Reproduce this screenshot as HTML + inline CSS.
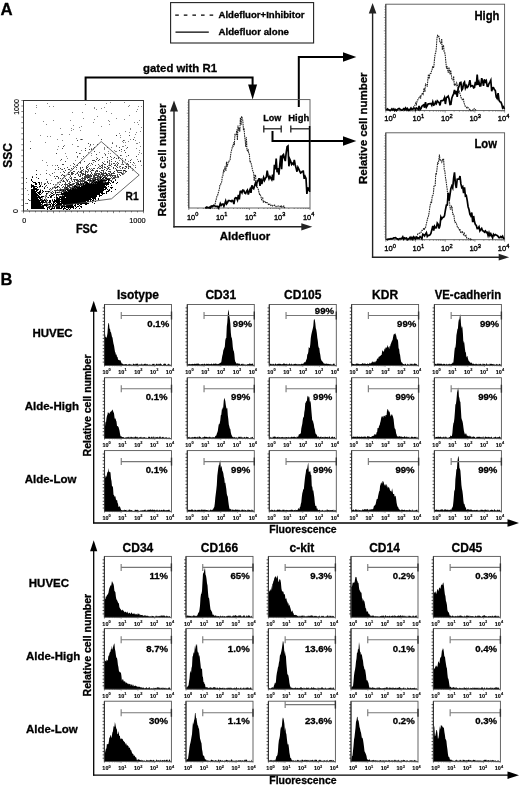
<!DOCTYPE html>
<html><head><meta charset="utf-8"><title>Figure</title>
<style>html,body{margin:0;padding:0;background:#fff;}svg{display:block;will-change:transform;}text{font-family:"Liberation Sans", sans-serif;}</style>
</head><body>
<svg width="520" height="786" viewBox="0 0 520 786">
<rect width="520" height="786" fill="#fff"/>
<text x="0.6" y="14.8" font-size="16.8" font-weight="bold" text-anchor="start" fill="#000" stroke="#000" stroke-width="0.3">A</text>
<text x="0.4" y="285.0" font-size="16.5" font-weight="bold" text-anchor="start" fill="#000" stroke="#000" stroke-width="0.3">B</text>
<rect x="170.6" y="2.6" width="143" height="40.4" fill="none" stroke="#222" stroke-width="1.1"/>
<line x1="175.2" y1="15.2" x2="213.5" y2="15.2" stroke="#000" stroke-width="1.2" stroke-dasharray="3.6 5"/>
<line x1="175.5" y1="32.2" x2="208.8" y2="32.2" stroke="#000" stroke-width="1.3"/>
<text x="218.5" y="18.2" font-size="9.3" font-weight="bold" text-anchor="start" fill="#000" stroke="#000" stroke-width="0.3" textLength="86" lengthAdjust="spacingAndGlyphs">Aldefluor+Inhibitor</text>
<text x="218.5" y="35.3" font-size="9.3" font-weight="bold" text-anchor="start" fill="#000" stroke="#000" stroke-width="0.3" textLength="70.5" lengthAdjust="spacingAndGlyphs">Aldefluor alone</text>
<polyline points="85.6,100.5 85.6,77.5 252.6,77.5 252.6,86" fill="none" stroke="#000" stroke-width="2"/>
<polygon points="252.60,99.50 248.10,84.50 257.10,84.50" fill="#000" stroke="none" stroke-width="1"/>
<text x="143" y="72" font-size="11.2" font-weight="bold" text-anchor="start" fill="#000" stroke="#000" stroke-width="0.3" textLength="74" lengthAdjust="spacingAndGlyphs">gated with R1</text>
<polyline points="298.8,107 298.8,57 344,57" fill="none" stroke="#000" stroke-width="2"/>
<polygon points="356.30,57.00 343.00,52.30 343.00,61.70" fill="#000" stroke="none" stroke-width="1"/>
<polyline points="272.5,131 272.5,141 344,141" fill="none" stroke="#000" stroke-width="2"/>
<polygon points="356.30,141.00 343.00,136.30 343.00,145.70" fill="#000" stroke="none" stroke-width="1"/>
<path d="M33 202h1M83 185h1M101 126h1M123 142h1M95 184h1M129 132h1M114 176h1M51 189h1M76 173h1M82 112h1M42 204h1M58 192h1M71 180h1M137 143h1M31 205h1M93 149h1M61 191h1M130 129h1M96 157h1M42 199h1M92 187h1M86 186h1M78 146h1M73 129h1M73 191h1M86 182h1M94 107h1M58 182h1M72 191h1M61 180h1M119 167h1M114 176h1M128 167h1M88 166h1M101 170h1M63 198h1M46 170h1M76 182h1M47 103h1M90 145h1M116 163h1M138 106h1M90 186h1M73 192h1M71 187h1M106 180h1M91 176h1M116 146h1M109 124h1M41 183h1M27 190h1M125 170h1M100 174h1M108 165h1M95 179h1M50 205h1M72 112h1M139 152h1M60 188h1M104 148h1M97 116h1M76 189h1M50 201h1M134 122h1M47 197h1M50 192h1M75 189h1M90 180h1M46 162h1M40 135h1M72 192h1M124 168h1M108 181h1M99 152h1M123 172h1M43 121h1M77 146h1M103 163h1M119 160h1M94 176h1M97 177h1M41 184h1M108 151h1M95 173h1M119 133h1M101 108h1M77 183h1M105 155h1M64 194h1M132 164h1M91 184h1M36 107h1M49 174h1M116 177h1M67 198h1M85 170h1M140 146h1M133 165h1M42 160h1M44 183h1M71 128h1M111 163h1M66 200h1M67 158h1M128 106h1M28 194h1M39 196h1M62 195h1M113 158h1M108 165h1M116 146h1M35 113h1M93 122h1M87 171h1M77 193h1M89 185h1M82 182h1M123 171h1M79 127h1M72 144h1M81 193h1M75 182h1M124 173h1M62 134h1M49 203h1M112 179h1M126 156h1M122 164h1M97 177h1M104 147h1M132 168h1M54 197h1M63 191h1M58 203h1M121 151h1M123 167h1M110 174h1M105 180h1M36 203h1M102 164h1M89 146h1M51 206h1M46 203h1M122 146h1M39 187h1M59 199h1M108 168h1M103 175h1M65 191h1M93 162h1M91 155h1M81 126h1M87 182h1M57 139h1M128 161h1M59 191h1M102 180h1M126 148h1M85 186h1M85 104h1M107 166h1M139 142h1M95 178h1M58 202h1M128 155h1M47 165h1M41 205h1M104 107h1M91 148h1M93 144h1M108 173h1M101 174h1M117 167h1M123 172h1M138 124h1M62 194h1M101 176h1M123 174h1M57 182h1M86 182h1M99 182h1M49 202h1M58 202h1M104 177h1M76 189h1M114 171h1M69 197h1M30 141h1M80 163h1M117 172h1M62 140h1M55 184h1M111 166h1M63 199h1M69 174h1M77 189h1M38 205h1M77 157h1M111 173h1M37 206h1M105 173h1M65 153h1M80 139h1M87 186h1M101 182h1M60 160h1M47 204h1M78 191h1M41 197h1M135 134h1M79 181h1M56 192h1M88 152h1M139 150h1M32 203h1M66 200h1M66 199h1M122 163h1M68 174h1M73 184h1M38 201h1M68 199h1M66 156h1M60 172h1M44 202h1M104 166h1M69 194h1M58 146h1M141 165h1M124 119h1M92 181h1M46 124h1M102 167h1M56 198h1M104 149h1M129 105h1M125 142h1M117 155h1M60 192h1M76 185h1M120 168h1M64 145h1M126 171h1M53 120h1M62 181h1M70 165h1M128 168h1M63 189h1M110 153h1M26 203h1M81 158h1M91 185h1M125 172h1M52 187h1M106 180h1M91 180h1M70 187h1M65 199h1M77 192h1M85 174h1M123 146h1M47 136h1M69 177h1M137 109h1M133 169h1M39 187h1M40 174h1M99 166h1M25 203h1M76 169h1M80 130h1M113 167h1M52 165h1M62 196h1M130 139h1M91 153h1M77 190h1M68 191h1M75 160h1M124 140h1M71 130h1M99 181h1M95 177h1M141 127h1M108 120h1M135 140h1M125 145h1M104 153h1M120 137h1M135 165h1M40 189h1M55 165h1M123 173h1M132 170h1M136 143h1M52 201h1M64 172h1M34 200h1M39 207h1M109 161h1M84 184h1M116 145h1M81 188h1M100 178h1M123 142h1M63 177h1M93 148h1M91 168h1M116 135h1M55 192h1M74 188h1M92 182h1M109 162h1M94 119h1M78 195h1M37 196h1M120 158h1M83 118h1M78 182h1M122 161h1M25 188h1M120 172h1M66 180h1M106 103h1M71 172h1M56 199h1M65 194h1M141 106h1M42 197h1M80 188h1M96 109h1M61 134h1M106 168h1M60 192h1M128 141h1M119 166h1M110 169h1M69 182h1M109 164h1M85 175h1M36 105h1M112 142h1M117 177h1M76 173h1M137 159h1M43 121h1M105 179h1M115 176h1M134 137h1M129 166h1M129 115h1M63 195h1M70 170h1M111 147h1M53 195h1M121 164h1M65 191h1M59 201h1M122 158h1M60 128h1M50 136h1M80 153h1M110 102h1M67 195h1M98 177h1M59 189h1M73 125h1M106 180h1M131 159h1M91 175h1M72 184h1M130 160h1M54 186h1M53 106h1M60 189h1M26 182h1M104 161h1M136 111h1M45 205h1M86 155h1M81 150h1M93 186h1M111 157h1M31 180h1M122 141h1M131 159h1M121 155h1M123 170h1M72 185h1M70 175h1M90 165h1M42 198h1M125 160h1M111 113h1M96 184h1M115 151h1M35 194h1M116 118h1M130 128h1M140 160h1M137 122h1M45 197h1M88 171h1M134 163h1M79 190h1M114 150h1M86 168h1M34 205h1M53 202h1M79 172h1M58 204h1M79 188h1M79 187h1M106 111h1M42 191h1M30 200h1M76 138h1M98 183h1M94 147h1M91 176h1M116 151h1M51 180h1M125 166h1M45 142h1M96 171h1M54 172h1M90 169h1M50 175h1M63 180h1M99 178h1M42 205h1M130 167h1M80 169h1M92 188h1M80 179h1M83 171h1M102 180h1M49 106h1M67 188h1M109 167h1M47 205h1M40 203h1M120 175h1M125 131h1M90 177h1M92 184h1M109 121h1M67 191h1M72 169h1M61 169h1M136 148h1M82 139h1M78 185h1M138 154h1M59 191h1M62 194h1M103 178h1M99 165h1M115 164h1M72 183h1M96 183h1M107 168h1M136 132h1M139 120h1M70 120h1M141 153h1M140 131h1M114 157h1M107 159h1M69 134h1M105 180h1M81 139h1M76 190h1M98 135h1M108 153h1M46 195h1M97 171h1M89 178h1M94 108h1M57 149h1M120 135h1M88 169h1M124 102h1M98 176h1M106 177h1" stroke="#666" stroke-width="1" transform="translate(0,0.5)" opacity="0.8"/>
<path d="M83 187h1M66 187h1M91 183h1M95 184h1M85 177h1M93 182h1M70 192h1M83 190h1M70 190h1M87 190h1M89 181h1M89 175h1M97 186h1M73 194h1M86 189h1M80 193h1M96 186h1M92 186h1M44 187h1M98 185h1M84 183h1M91 176h1M66 197h1M76 192h1M91 185h1M71 190h1M101 183h1M85 178h1M100 182h1M103 180h1M72 191h1M58 195h1M85 183h1M85 188h1M81 188h1M76 180h1M86 182h1M84 186h1M69 191h1M111 174h1M75 194h1M97 168h1M94 183h1M82 191h1M106 178h1M94 180h1M85 190h1M95 172h1M65 199h1M86 183h1M63 191h1M95 186h1M106 178h1M99 174h1M85 189h1M80 191h1M93 184h1M86 187h1M69 197h1M85 178h1M94 185h1M84 186h1M71 192h1M72 187h1M101 179h1M97 179h1M69 195h1M83 183h1M74 185h1M102 184h1M82 190h1M92 183h1M65 195h1M62 190h1M100 184h1M94 179h1M86 186h1M64 198h1M67 190h1M85 189h1M69 189h1M88 186h1M77 188h1M103 181h1M112 178h1M73 194h1M83 185h1M117 162h1M93 177h1M104 167h1M65 198h1M87 172h1M101 183h1M51 196h1M68 194h1M65 194h1M115 176h1M99 180h1M68 195h1M60 194h1M86 183h1M88 170h1M95 175h1M75 194h1M85 186h1M69 192h1M100 179h1M108 167h1M92 184h1M75 188h1M97 177h1M108 178h1M104 179h1M86 186h1M93 186h1M82 174h1M91 180h1M98 176h1M53 192h1M86 188h1M69 192h1M68 192h1M89 175h1M108 171h1M60 199h1M87 182h1M37 199h1M107 178h1M78 186h1M87 175h1M66 188h1M84 191h1M77 189h1M75 190h1M65 185h1M99 184h1M74 193h1M69 186h1M69 187h1M79 185h1M88 186h1M69 195h1M85 185h1M73 187h1M103 171h1M90 179h1M76 179h1M74 191h1M65 184h1M101 172h1M71 184h1M64 187h1M103 181h1M81 186h1M92 186h1M78 192h1M67 186h1M97 171h1M56 198h1M62 195h1M78 186h1M56 190h1M81 178h1M67 180h1M95 178h1M122 173h1M99 177h1M84 190h1M55 191h1M87 186h1M73 179h1M102 168h1M74 186h1M68 194h1M56 200h1M101 173h1M60 199h1M92 184h1M111 175h1M105 182h1M93 181h1M66 184h1M84 183h1M97 177h1M90 178h1M115 177h1M68 198h1M81 171h1M68 195h1M72 193h1M104 173h1M87 186h1M109 178h1M63 198h1M65 192h1M87 190h1M82 186h1M82 190h1M96 183h1M81 190h1M66 191h1M93 187h1M62 194h1M94 179h1M104 182h1M94 186h1M70 196h1M92 186h1M74 189h1M76 191h1M80 189h1M78 175h1M96 183h1M110 165h1M100 183h1M81 180h1M107 178h1M100 182h1M114 178h1M85 187h1M60 197h1M73 187h1M104 181h1M119 174h1M97 180h1M96 186h1M108 182h1M51 197h1M100 175h1M85 188h1M96 179h1M73 192h1M77 189h1M85 179h1M89 181h1M76 189h1M98 185h1M77 191h1M70 195h1M89 189h1M66 196h1M93 184h1M76 186h1M110 171h1M86 176h1M70 182h1M71 191h1M77 193h1M90 186h1M70 194h1M91 180h1M63 196h1M71 168h1M89 185h1M79 188h1M91 170h1M91 184h1M82 170h1M71 191h1M78 190h1M48 197h1M80 187h1M68 188h1M77 183h1M58 202h1M90 185h1M91 184h1M97 184h1M92 183h1M87 183h1M111 177h1M78 189h1M67 192h1M102 178h1M79 192h1M61 190h1M92 183h1M94 184h1M105 177h1M106 179h1M83 181h1M75 185h1M96 184h1M59 190h1M74 189h1M83 185h1M84 180h1M100 177h1M80 172h1M83 192h1M62 187h1M89 188h1M64 196h1M83 188h1M70 178h1M64 181h1M89 182h1M64 189h1M78 191h1M88 189h1M93 179h1M84 181h1M117 165h1M103 173h1M82 191h1M83 188h1M93 184h1M97 184h1M71 191h1M74 186h1M91 187h1M45 200h1M85 187h1M66 197h1M77 194h1M100 177h1M79 190h1M87 177h1M94 182h1M104 173h1M80 188h1M78 188h1M95 171h1M65 192h1M88 188h1M89 179h1M97 183h1M95 185h1M63 192h1M81 188h1M65 196h1M101 174h1M95 182h1M88 188h1M76 191h1M87 182h1M79 184h1M75 191h1M90 184h1M75 194h1M102 166h1M80 180h1M103 180h1M93 185h1M58 192h1M82 191h1M64 199h1M57 189h1M120 175h1M116 166h1M100 168h1M111 180h1M71 179h1M97 179h1M69 195h1M96 186h1M57 201h1M85 189h1M90 185h1M101 170h1M74 191h1M96 173h1M98 176h1M99 183h1M104 175h1M73 194h1M85 181h1M62 197h1M93 176h1M93 186h1M76 183h1M64 195h1M98 174h1M71 188h1M78 187h1M93 188h1M100 185h1M79 179h1M80 191h1M74 191h1M75 189h1M83 192h1M119 172h1M100 182h1M79 187h1M98 182h1M97 168h1M84 182h1M93 178h1M71 192h1M70 184h1M110 175h1M107 176h1M83 186h1M103 179h1M77 191h1M77 189h1M110 171h1M69 186h1M101 177h1M93 175h1M87 174h1M70 176h1M95 175h1M95 184h1M105 172h1M96 174h1M90 174h1M48 202h1M65 189h1M86 185h1M97 170h1M78 188h1M84 182h1M77 185h1M106 173h1M103 174h1M81 192h1M67 185h1M77 192h1M79 193h1M94 183h1M103 184h1M90 175h1M75 179h1M100 185h1M65 194h1M88 177h1M77 191h1M61 180h1M66 192h1M82 185h1M99 168h1M101 184h1M100 180h1M77 184h1M79 191h1M87 184h1M71 174h1M107 175h1M94 186h1M64 189h1M79 189h1M90 184h1M49 200h1M76 191h1M82 186h1M95 183h1M90 189h1M83 180h1M76 194h1M75 177h1M98 186h1M79 185h1M75 195h1M103 174h1M86 190h1M87 184h1M100 178h1M83 183h1M54 194h1M91 182h1M72 188h1M82 191h1M84 188h1M100 181h1M74 189h1M69 197h1M74 194h1M62 196h1M61 199h1M86 182h1M62 193h1M69 185h1M95 181h1M97 184h1M63 186h1M71 185h1M73 191h1M85 175h1M114 175h1M68 190h1M68 189h1M65 178h1M73 192h1M68 197h1M104 177h1M66 192h1M85 188h1M113 173h1M95 183h1M71 184h1M93 186h1M109 174h1M104 179h1M66 197h1M98 183h1M99 171h1M109 180h1M69 183h1M89 186h1M67 194h1M112 176h1M72 195h1M79 190h1M108 167h1M89 186h1M89 186h1M68 186h1M80 189h1M100 179h1M99 179h1M80 187h1M73 186h1M70 192h1M63 194h1M76 187h1M70 195h1M76 187h1M69 196h1M95 187h1M62 191h1M87 189h1M63 196h1M113 178h1M79 176h1M103 181h1M69 189h1M82 187h1M93 181h1M97 175h1M58 192h1M71 195h1M95 186h1M102 179h1M86 190h1M106 182h1M98 180h1M76 190h1M126 166h1M93 170h1M81 189h1M93 186h1M63 189h1M83 186h1M82 191h1M82 180h1M90 186h1M70 185h1M103 183h1M82 189h1M100 177h1M74 188h1M84 185h1M79 187h1M113 177h1M78 193h1M76 183h1M102 176h1M81 192h1M81 186h1M66 187h1M90 188h1M67 192h1M85 177h1M88 185h1M95 181h1M83 191h1M92 182h1M84 188h1M82 185h1M89 182h1M106 182h1M92 188h1M89 180h1M57 190h1M123 170h1M99 183h1M103 175h1M83 174h1M116 169h1M86 188h1M113 173h1M73 191h1M81 181h1M77 187h1M51 192h1M94 180h1M56 198h1M69 184h1M74 193h1M78 171h1M99 173h1M96 185h1M80 171h1M78 184h1M93 187h1M83 180h1M74 194h1M80 191h1M107 179h1M92 185h1M65 196h1M85 185h1M73 190h1M95 186h1M94 174h1M81 181h1M81 191h1M82 189h1M67 186h1M98 182h1M98 178h1M89 188h1M51 193h1M89 175h1M74 181h1M69 192h1M78 184h1M97 180h1M91 181h1M74 189h1M84 190h1M111 175h1M77 193h1M83 191h1M99 181h1M80 187h1M100 181h1M73 183h1M106 175h1M97 180h1M92 182h1M83 190h1M124 150h1M60 182h1M98 185h1M96 175h1M87 186h1M105 175h1M64 195h1M108 179h1M92 185h1M86 190h1M114 165h1M73 184h1M85 173h1M47 182h1M95 186h1M85 191h1M85 188h1M80 192h1M77 191h1M94 181h1M98 176h1M86 175h1M94 186h1M52 195h1M93 187h1M62 198h1M71 196h1M90 188h1M84 190h1M114 171h1M93 180h1M78 184h1M71 196h1M65 187h1M89 183h1M82 183h1M66 194h1M50 194h1M76 191h1M106 182h1M93 183h1M77 186h1M75 190h1M94 185h1M63 198h1M109 175h1M61 193h1M77 189h1M118 177h1M68 193h1M72 173h1M91 186h1M79 193h1M74 189h1M111 164h1M85 186h1M83 183h1M101 184h1M74 187h1M75 190h1M83 190h1M78 192h1M86 181h1M73 188h1M66 197h1M87 185h1M76 184h1M65 191h1M94 181h1M100 184h1M76 186h1M86 188h1M68 193h1M65 194h1M84 180h1M87 188h1M97 184h1M55 203h1M62 189h1M67 188h1M111 177h1M92 181h1M85 174h1M82 187h1M64 192h1M80 176h1M97 171h1M64 194h1M78 190h1M76 179h1M78 188h1M67 185h1M83 190h1M66 191h1M82 180h1M92 186h1M41 207h1M97 178h1M87 176h1M85 190h1M109 178h1M105 175h1M83 188h1M92 180h1M99 183h1M81 190h1M95 180h1M74 191h1M80 188h1M85 183h1M79 186h1M107 162h1M73 193h1M86 190h1M82 191h1M87 178h1M72 184h1M78 184h1M80 188h1M67 195h1M82 167h1M73 183h1M98 180h1M72 193h1M74 195h1M94 177h1M59 192h1M111 173h1M84 183h1M83 184h1M86 185h1M126 164h1M82 186h1M90 181h1M65 194h1M88 186h1M86 182h1M101 183h1M81 185h1M83 188h1M79 181h1M96 186h1M108 173h1M64 193h1M93 185h1M88 189h1M92 178h1M68 198h1M65 187h1M70 189h1M103 170h1M90 187h1M84 187h1M79 193h1M72 192h1M88 189h1M90 178h1M95 182h1M73 188h1M117 175h1M49 189h1M101 177h1M87 189h1M106 178h1M96 185h1M94 176h1M94 178h1M81 188h1M91 172h1M89 186h1M77 191h1M62 198h1M105 178h1M80 187h1M74 193h1M70 194h1M101 174h1M54 190h1M94 183h1M102 170h1M85 172h1M118 172h1M80 189h1M80 175h1M52 193h1M75 185h1M100 166h1M92 179h1M80 187h1M88 186h1M65 188h1M68 185h1M81 185h1M91 186h1M105 173h1M69 183h1M103 180h1M86 186h1M90 188h1M67 187h1M83 186h1M77 190h1M79 179h1M89 184h1M89 179h1M72 195h1M70 189h1M104 169h1M97 177h1M58 194h1M65 192h1M79 191h1M116 170h1M78 180h1M105 175h1M89 182h1M83 189h1M53 204h1M91 180h1M103 179h1M92 181h1M92 178h1M89 184h1M75 185h1M86 185h1M103 172h1M88 175h1M84 188h1M105 177h1M64 188h1M86 182h1M55 188h1M105 180h1M69 196h1M76 188h1M98 175h1M101 181h1M101 172h1M56 196h1M76 188h1M70 197h1M90 186h1M77 191h1M73 195h1M73 192h1M90 188h1M88 189h1M95 177h1M55 192h1M89 182h1M101 181h1M71 189h1M112 176h1M59 194h1M99 184h1M64 184h1M81 191h1M73 183h1M88 179h1M97 181h1M82 189h1M76 192h1M64 195h1M102 183h1M43 201h1M55 200h1M105 172h1M78 193h1M84 188h1M100 181h1M77 181h1M86 185h1M88 188h1M74 195h1M81 178h1M79 188h1M57 202h1M102 175h1M77 182h1M108 180h1M89 189h1M85 184h1M84 178h1M86 168h1M104 182h1M88 186h1M77 189h1M83 191h1M82 181h1M78 192h1M95 181h1M75 190h1M84 182h1M74 183h1M84 190h1M87 189h1M71 191h1M76 184h1M81 183h1M55 193h1M98 186h1M99 179h1M92 178h1M85 182h1M106 178h1M90 185h1M88 177h1M87 177h1M46 199h1M68 196h1M64 184h1M88 186h1M120 170h1M81 188h1M77 191h1M65 196h1M67 194h1M67 188h1M75 191h1M69 193h1M46 179h1M72 188h1M94 174h1M86 181h1M85 186h1M76 191h1M94 180h1M109 174h1M80 192h1M82 184h1M108 182h1M76 186h1M93 186h1M76 192h1M115 179h1M64 195h1M110 180h1M74 191h1M80 185h1M92 187h1M78 187h1M88 185h1M91 184h1M105 182h1M83 186h1M76 191h1M94 174h1M91 172h1M82 184h1M74 194h1M79 184h1M97 179h1M47 191h1M84 190h1M66 193h1M100 177h1M87 183h1M78 180h1M71 194h1M89 176h1M78 191h1M89 182h1M80 188h1M104 181h1M67 195h1M119 172h1M74 190h1M81 185h1M85 179h1M87 180h1M84 185h1M102 184h1M101 177h1M92 187h1M75 174h1M82 190h1M79 187h1M79 186h1M94 178h1M99 183h1M95 174h1M106 178h1M80 175h1M89 188h1M81 188h1M101 173h1M99 173h1M93 175h1M60 189h1M84 174h1M107 169h1M57 187h1M72 194h1M91 178h1M94 177h1M87 190h1M106 178h1M102 174h1M86 189h1M101 170h1M64 184h1M84 186h1M77 181h1M74 190h1M68 189h1M90 188h1M50 188h1M85 187h1M93 175h1M87 189h1M89 177h1M78 181h1M94 160h1M90 174h1M84 180h1M86 187h1M83 191h1M62 190h1M69 187h1M101 182h1M95 178h1M77 189h1M66 184h1M52 191h1M85 190h1M87 177h1M64 191h1M74 177h1M61 189h1M84 186h1M103 182h1M81 180h1M55 191h1M99 173h1M78 190h1M114 177h1M89 181h1M70 188h1M85 171h1M67 188h1M95 183h1M105 177h1M56 187h1M72 196h1M55 192h1M85 181h1M86 190h1M59 196h1M101 183h1M90 188h1M88 175h1M83 184h1M74 183h1M77 183h1M107 176h1M69 191h1M103 181h1M93 187h1M82 191h1M96 185h1M85 187h1M102 173h1M72 195h1M99 184h1M82 177h1M88 180h1M74 180h1M83 187h1M94 181h1M54 187h1M105 181h1M87 185h1M126 171h1M97 177h1M100 166h1M96 175h1M81 186h1M89 149h1M122 173h1M118 157h1M87 167h1M80 182h1M111 174h1M97 144h1M86 183h1M68 179h1M84 188h1M89 187h1M99 176h1M102 165h1M135 167h1M82 170h1M82 170h1M127 163h1M68 183h1M58 177h1M123 164h1M118 163h1M89 168h1M102 157h1M89 182h1M57 176h1M115 168h1M62 184h1M83 185h1M62 191h1M50 201h1M84 178h1M65 196h1M41 182h1M113 172h1M85 183h1M85 177h1M62 187h1M116 158h1M65 184h1M121 149h1M74 171h1M91 175h1M109 163h1M61 175h1M93 182h1M41 200h1M93 177h1M81 173h1M115 175h1M97 158h1M127 147h1M99 159h1M104 164h1M96 185h1M93 185h1M61 196h1M91 173h1M115 175h1M94 175h1M89 187h1M53 184h1M60 168h1M122 174h1M100 181h1M83 156h1M80 171h1M104 181h1M65 188h1M117 176h1M52 191h1M113 168h1M136 156h1M64 190h1M64 192h1M84 176h1M102 182h1M69 183h1M103 178h1M88 187h1M71 178h1M73 179h1M125 171h1M83 183h1M56 176h1M119 170h1M80 168h1M91 163h1M85 181h1M108 168h1M82 175h1M74 190h1M110 172h1M100 180h1M62 196h1M110 156h1M85 179h1M95 184h1M96 159h1M72 186h1M105 167h1M61 159h1M109 160h1M88 174h1M114 163h1M67 187h1M111 177h1M69 186h1M93 170h1M75 189h1M106 177h1M62 164h1M64 175h1M81 173h1M89 163h1M87 165h1M80 174h1M83 156h1M73 173h1M118 176h1M54 190h1M107 157h1M64 176h1M71 172h1M81 172h1M45 186h1M92 179h1M103 180h1M46 204h1M91 149h1M70 176h1M102 162h1M77 180h1M72 188h1M77 165h1M68 186h1M83 173h1M72 181h1M85 150h1M107 166h1M77 183h1M85 148h1M63 146h1M92 185h1M27 209h1M103 178h1M81 181h1M76 182h1M113 178h1M72 192h1M63 196h1M110 176h1M96 154h1M140 161h1M71 192h1M62 198h1M62 174h1M105 173h1M74 179h1M63 175h1M59 196h1M80 191h1M97 170h1M107 178h1M67 181h1M75 187h1M107 176h1M109 178h1M65 183h1M117 170h1M93 182h1M98 180h1M77 192h1M74 183h1M86 171h1M104 176h1M104 164h1M58 167h1M121 170h1M120 166h1M98 178h1M118 158h1M62 196h1M50 197h1M80 179h1M107 174h1M83 169h1M88 179h1M76 167h1M91 183h1M87 180h1M81 170h1M119 170h1M48 183h1M94 184h1M38 197h1M81 139h1M88 143h1M122 167h1M82 180h1M122 162h1M68 174h1M102 176h1M128 155h1M90 176h1M93 170h1M95 165h1M76 186h1M98 181h1M113 163h1M112 173h1M80 167h1M98 175h1M117 164h1M54 197h1M92 169h1M83 183h1M76 192h1M73 171h1M90 183h1M92 174h1M84 179h1M84 179h1M101 165h1M121 172h1M55 178h1M64 172h1M77 156h1M83 178h1M93 183h1M128 164h1M61 197h1M61 196h1M86 166h1M91 175h1M92 179h1M74 192h1M101 139h1M97 173h1M106 170h1M73 191h1M30 148h1M97 183h1M98 164h1M27 203h1M106 180h1M71 189h1M69 174h1M84 177h1M46 191h1M71 188h1M65 186h1M59 194h1M46 185h1M97 173h1M120 155h1M117 167h1M69 181h1M101 165h1M63 180h1M90 180h1M57 165h1M58 195h1M105 177h1M111 159h1M125 168h1M75 186h1M105 164h1M62 198h1M103 179h1M77 173h1M89 187h1M119 147h1M63 181h1M61 189h1M102 178h1M82 178h1M90 171h1M55 190h1M105 176h1M83 188h1M81 187h1M70 191h1M82 170h1M89 187h1M87 183h1M94 151h1M26 178h1M88 176h1M81 185h1M80 190h1M133 162h1M60 178h1M78 174h1M55 187h1M86 177h1M47 181h1M82 180h1M72 172h1M80 174h1M98 173h1M98 179h1M55 193h1M73 168h1M89 186h1M71 184h1M68 179h1M117 171h1M107 161h1M88 164h1M45 202h1M125 152h1M46 196h1M73 183h1M80 181h1M94 183h1M103 178h1M79 187h1M64 193h1M97 176h1M108 175h1M86 184h1M93 186h1M48 204h1M133 139h1M73 184h1M93 170h1M80 184h1M56 201h1M117 174h1M86 185h1M69 169h1M85 177h1M36 177h1M84 161h1M118 170h1M55 169h1M85 175h1M58 178h1M83 174h1M63 190h1M66 179h1M47 187h1M68 191h1M54 176h1M88 188h1M70 188h1M87 186h1M82 185h1M109 169h1M93 185h1M65 183h1M58 190h1M107 147h1M81 190h1M92 170h1M77 140h1M70 184h1M68 189h1M116 169h1M82 179h1M98 160h1M52 199h1M114 173h1M59 187h1M77 188h1M138 161h1M77 182h1M70 187h1M66 189h1M32 176h1M112 175h1M128 166h1M85 176h1M91 178h1M56 153h1M94 177h1M98 164h1M79 162h1M105 173h1M65 182h1M67 184h1M62 178h1M105 154h1M82 190h1M77 179h1M78 189h1M74 164h1M92 164h1M97 171h1M85 185h1M73 166h1M88 180h1M96 179h1M93 168h1M64 195h1M100 172h1M68 179h1M29 200h1M67 167h1M97 182h1M130 160h1M109 173h1M128 168h1M105 177h1M68 172h1M113 167h1M122 160h1M28 199h1M34 204h1M61 185h1M41 193h1M55 201h1M70 192h1M36 170h1M122 168h1M95 161h1M66 196h1M116 135h1M100 176h1M78 181h1M96 177h1M99 179h1M109 171h1M63 164h1M79 185h1M77 172h1M68 183h1M92 160h1M83 178h1M119 150h1M52 191h1M96 170h1M71 173h1M72 186h1M73 163h1M114 157h1M68 169h1M77 184h1M69 183h1M77 184h1M111 161h1M112 143h1M90 144h1M109 165h1M110 178h1M81 183h1M77 189h1M65 170h1M98 167h1M126 167h1M109 169h1M94 173h1M58 186h1M89 180h1M120 172h1M83 174h1M69 172h1M103 163h1M76 187h1M89 182h1M113 175h1M101 167h1M81 184h1M81 189h1M115 165h1M107 179h1M78 188h1M68 169h1M110 165h1M73 173h1M58 169h1M65 186h1M123 140h1M59 184h1M65 161h1M86 167h1M57 194h1M66 189h1M62 169h1M62 193h1M56 176h1M47 200h1M91 181h1M84 182h1M76 187h1M130 162h1M97 175h1M70 193h1M64 168h1M80 162h1M78 171h1M46 173h1M61 194h1M86 188h1M104 167h1M93 160h1M52 188h1M115 161h1M102 178h1M125 166h1M130 166h1M130 162h1M125 159h1M50 183h1M90 171h1M69 190h1M52 173h1M76 152h1M107 176h1M100 177h1M74 179h1M79 153h1M82 173h1M107 162h1M72 174h1M94 168h1M121 173h1M106 174h1M108 171h1M99 179h1M63 171h1M45 183h1M72 186h1M45 200h1M129 135h1M105 176h1M94 147h1M63 196h1M62 148h1M87 169h1M71 177h1" stroke="#222" stroke-width="1" transform="translate(0,0.5)" opacity="0.85"/>
<path d="M70 200h1M91 188h1M68 199h1M88 196h1M67 195h1M89 193h1M99 191h1M80 194h1M107 183h1M72 193h1M83 194h1M78 195h1M85 195h1M93 190h1M64 204h1M67 199h1M66 200h1M74 198h1M115 180h1M88 186h1M79 198h1M81 196h1M81 190h1M86 189h1M100 185h1M89 191h1M90 188h1M92 190h1M95 191h1M82 191h1M90 193h1M98 186h1M88 194h1M85 194h1M83 191h1M71 197h1M90 197h1M93 194h1M90 193h1M84 196h1M99 186h1M77 204h1M85 196h1M89 187h1M109 190h1M84 196h1M82 191h1M81 196h1M94 192h1M84 199h1M75 200h1M92 189h1M62 198h1M85 195h1M96 184h1M82 196h1M77 187h1M93 199h1M90 187h1M78 197h1M108 186h1M85 199h1M83 201h1M74 195h1M91 196h1M89 192h1M62 199h1M75 195h1M87 191h1M90 191h1M78 196h1M87 195h1M76 195h1M70 205h1M96 188h1M75 192h1M84 194h1M104 186h1M70 189h1M96 189h1M65 201h1M94 191h1M77 187h1M78 189h1M85 184h1M74 202h1M97 183h1M67 203h1M89 187h1M73 195h1M68 197h1M95 191h1M102 185h1M79 191h1M78 190h1M64 204h1M97 191h1M95 190h1M74 197h1M76 192h1M62 196h1M82 195h1M79 201h1M84 195h1M93 186h1M62 205h1M76 201h1M86 196h1M86 184h1M88 189h1M73 196h1M91 194h1M90 184h1M72 188h1M81 197h1M74 198h1M85 197h1M72 195h1M76 203h1M92 189h1M84 194h1M83 193h1M76 191h1M77 202h1M87 192h1M79 195h1M84 190h1M84 194h1M73 194h1M70 195h1M87 182h1M78 193h1M75 197h1M93 190h1M79 193h1M81 198h1M76 192h1M67 195h1M69 204h1M85 192h1M96 186h1M90 194h1M64 195h1M73 201h1M93 185h1M92 189h1M77 194h1M76 189h1M70 194h1M89 199h1M109 182h1M63 200h1M75 205h1M86 189h1M92 192h1M64 199h1M79 195h1M82 192h1M83 191h1M74 203h1M86 194h1M65 200h1M88 186h1M92 188h1M85 192h1M85 197h1M80 201h1M72 194h1M87 188h1M79 199h1M91 183h1M89 199h1M93 188h1M75 196h1M69 198h1M79 194h1M93 188h1M68 204h1M70 197h1M80 193h1M71 197h1M103 183h1M82 199h1M90 194h1M88 184h1M73 198h1M88 197h1M86 191h1M82 193h1M85 195h1M77 193h1M74 201h1M96 192h1M91 193h1M82 196h1M70 198h1M75 200h1M75 196h1M87 197h1M72 194h1M88 187h1M85 190h1M78 188h1M88 189h1M75 205h1M94 203h1M85 191h1M85 199h1M82 196h1M86 189h1M82 192h1M70 202h1M88 192h1M69 191h1M86 192h1M64 201h1M66 200h1M83 195h1M84 194h1M69 197h1M76 195h1M85 195h1M95 179h1M85 192h1M106 188h1M65 202h1M78 200h1M71 198h1M80 194h1M73 190h1M88 196h1M79 191h1M84 195h1M80 195h1M94 185h1M73 190h1M73 194h1M71 196h1M100 186h1M83 202h1M78 188h1M84 189h1M97 183h1M73 191h1M81 190h1M80 193h1M77 200h1M91 190h1M71 194h1M88 201h1M76 193h1M73 193h1M71 197h1M96 188h1M74 191h1M84 193h1M67 195h1M82 198h1M88 192h1M79 197h1M84 202h1M69 197h1M94 188h1M96 188h1M82 192h1M66 196h1M105 187h1M89 195h1M89 195h1M78 194h1M91 189h1M68 199h1M77 198h1M73 193h1M80 201h1M81 195h1M82 195h1M93 195h1M67 205h1M81 193h1M106 184h1M103 189h1M72 200h1M89 191h1M57 202h1M78 191h1M100 186h1M77 195h1M72 195h1M83 195h1M76 196h1M68 202h1M74 198h1M72 196h1M82 189h1M107 184h1M80 192h1M100 192h1M83 188h1M77 198h1M75 192h1M68 196h1M81 192h1M86 204h1M98 183h1M85 193h1M82 198h1M78 194h1M78 195h1M96 192h1M67 198h1M74 200h1M85 196h1M78 188h1M86 193h1M85 188h1M81 191h1M75 198h1M84 190h1M61 193h1M77 200h1M78 187h1M73 199h1M100 191h1M86 193h1M70 197h1M77 193h1M82 192h1M87 198h1M90 193h1M77 190h1M81 196h1M73 203h1M79 197h1M76 191h1M101 182h1M90 188h1M83 190h1M79 199h1M100 183h1M83 197h1M76 199h1M74 199h1M88 196h1M84 189h1M87 188h1M91 196h1M87 190h1M94 190h1M68 198h1M96 187h1M82 192h1M64 199h1M85 193h1M77 187h1M95 192h1M94 194h1M76 194h1M87 199h1M64 200h1M75 199h1M96 187h1M69 199h1M76 190h1M90 189h1M87 187h1M91 185h1M90 184h1M95 187h1M65 200h1M84 189h1M77 197h1M76 184h1M78 197h1M86 196h1M78 206h1M90 192h1M94 193h1M82 192h1M93 191h1M61 198h1M86 193h1M85 195h1M85 199h1M75 195h1M86 195h1M92 196h1M78 200h1M85 189h1M83 202h1M89 189h1M56 201h1M74 197h1M106 187h1M83 190h1M69 198h1M81 206h1M77 194h1M93 190h1M71 204h1M76 191h1M85 194h1M79 198h1M89 188h1M57 194h1M82 199h1M94 195h1M100 187h1M90 185h1M89 193h1M80 193h1M70 199h1M94 188h1M86 190h1M83 190h1M85 192h1M84 191h1M69 198h1M94 195h1M79 198h1M90 192h1M66 202h1M73 202h1M90 193h1M56 207h1M87 187h1M92 190h1M79 192h1M71 197h1M113 182h1M83 191h1M74 195h1M74 201h1M80 198h1M71 202h1M82 197h1M79 191h1M93 188h1M79 192h1M83 192h1M85 194h1M73 192h1M87 195h1M87 187h1M88 193h1M85 194h1M78 196h1M90 189h1M67 200h1M81 187h1M75 199h1M80 195h1M70 202h1M99 186h1M72 193h1M91 191h1M75 202h1M90 193h1M63 201h1M86 187h1M93 195h1M91 187h1M76 200h1M93 194h1M94 189h1M75 189h1M93 199h1M76 194h1M89 193h1M67 197h1M73 206h1M75 200h1M104 193h1M98 194h1M68 198h1M74 196h1M106 178h1M86 188h1M97 193h1M79 203h1M84 198h1M84 191h1M77 195h1M88 192h1M105 184h1M76 194h1M72 192h1M73 201h1M82 193h1M87 196h1M89 194h1M75 195h1M73 197h1M73 196h1M79 194h1M78 193h1M94 188h1M71 199h1M69 195h1M80 188h1M49 208h1M90 184h1M73 200h1M60 199h1M69 198h1M63 205h1M80 196h1M75 188h1M78 190h1M80 191h1M78 195h1M90 194h1M71 198h1M97 190h1M74 197h1M79 199h1M82 195h1M102 180h1M69 192h1M66 204h1M87 199h1M60 199h1M98 192h1M92 193h1M82 194h1M83 197h1M80 196h1M95 184h1M75 199h1M79 195h1M104 187h1M79 200h1M106 180h1M75 197h1M78 204h1M86 191h1M85 189h1M75 197h1M103 177h1M88 197h1M92 198h1M86 193h1M79 192h1M97 183h1M80 193h1M70 190h1M78 196h1M84 196h1M79 193h1M86 195h1M70 193h1M72 202h1M90 187h1M84 197h1M94 186h1M81 200h1M108 190h1M70 200h1M78 195h1M74 195h1M84 200h1M89 193h1M81 191h1M81 199h1M93 197h1M84 193h1M66 202h1M66 206h1M75 197h1M67 198h1M74 202h1M82 189h1M62 202h1M75 192h1M87 191h1M82 192h1M75 195h1M66 203h1M83 187h1M84 198h1M86 198h1M79 195h1M67 196h1M62 198h1M85 195h1M94 190h1M72 200h1M82 201h1M103 189h1M69 197h1M82 191h1M88 194h1M90 191h1M71 195h1M82 199h1M99 191h1M86 195h1M92 195h1M88 185h1M92 192h1M78 198h1M84 193h1M64 201h1M87 192h1M66 202h1M89 192h1M85 191h1M76 199h1M78 196h1M116 183h1M81 188h1M84 196h1M74 196h1M59 205h1M76 199h1M95 188h1M92 191h1M79 194h1M75 202h1M89 187h1M89 188h1M68 204h1M70 203h1M85 196h1M88 196h1M86 195h1M86 197h1M79 199h1M97 188h1M85 191h1M79 196h1M77 192h1M81 195h1M86 195h1M65 206h1M79 192h1M78 197h1M90 189h1M81 188h1M83 193h1M78 199h1M101 190h1M76 203h1M78 195h1M76 198h1M87 192h1M79 194h1M79 199h1M76 196h1M78 192h1M77 190h1M86 194h1M81 201h1M74 199h1M86 190h1M80 198h1M83 195h1M96 189h1M63 198h1M90 190h1M68 192h1M87 198h1M66 192h1M86 190h1M78 194h1M73 199h1M91 192h1M77 200h1M81 197h1M73 200h1M91 195h1M82 195h1M77 199h1M91 195h1M76 192h1M81 194h1M75 199h1M92 192h1M93 191h1M71 196h1M79 198h1M91 191h1M91 187h1M82 200h1M87 196h1M60 196h1M74 201h1M97 185h1M70 195h1M73 200h1M81 202h1M88 189h1M84 193h1M91 194h1M79 199h1M87 192h1M85 195h1M77 193h1M94 189h1M76 198h1M67 200h1M67 198h1M63 199h1M90 190h1M72 205h1M77 202h1M74 191h1M99 185h1M91 195h1M68 200h1M77 198h1M80 190h1M83 196h1M79 197h1M76 196h1M85 193h1M96 192h1M91 193h1M82 190h1M95 196h1M83 192h1M83 198h1M83 190h1M79 192h1M78 192h1M75 203h1M90 184h1M71 197h1M76 191h1M88 185h1M89 194h1M77 193h1M82 194h1M59 198h1M87 192h1M76 192h1M74 194h1M108 179h1M98 190h1M84 194h1M80 201h1M87 192h1M81 195h1M70 198h1M76 199h1M85 185h1M81 198h1M67 195h1M91 190h1M75 192h1M83 192h1M84 195h1M88 190h1M76 196h1M81 195h1M76 195h1M75 194h1M85 197h1M77 198h1M85 193h1M88 190h1M88 193h1M47 209h1M90 198h1M71 199h1M84 189h1M94 191h1M72 193h1M81 204h1M100 177h1M64 204h1M80 192h1M88 192h1M85 194h1M72 203h1M79 200h1M89 191h1M83 193h1M63 200h1M84 187h1M68 204h1M88 186h1M86 192h1M91 189h1M78 192h1M83 193h1M75 196h1M75 199h1M69 193h1M73 202h1M77 198h1M88 189h1M90 193h1M80 192h1M79 190h1M78 193h1M86 193h1M76 200h1M94 190h1M75 199h1M56 202h1M90 199h1M76 202h1M108 191h1M59 207h1M85 197h1M79 193h1M81 200h1M90 190h1M87 195h1M87 192h1M74 194h1M76 194h1M64 196h1M89 187h1M68 199h1M98 193h1M76 192h1M75 193h1M77 198h1M70 196h1M79 195h1M73 195h1M69 196h1M87 191h1M51 209h1M80 191h1M75 185h1M66 205h1M106 193h1M74 197h1M88 187h1M98 185h1M84 189h1M85 193h1M91 186h1M84 200h1M70 200h1M85 191h1M81 200h1M94 191h1M83 189h1M85 200h1M90 185h1M59 200h1M82 192h1M79 197h1M91 191h1M92 184h1M87 194h1M68 204h1M63 196h1M111 188h1M87 197h1M92 186h1M88 197h1M80 195h1M78 199h1M75 194h1M68 196h1M84 195h1M76 192h1M85 194h1M94 187h1M78 198h1M97 188h1M79 191h1M79 199h1M92 194h1M66 204h1M73 200h1M57 203h1M74 202h1M85 198h1M80 203h1M80 202h1M75 193h1M90 189h1M79 190h1M78 196h1M75 198h1M59 207h1M79 201h1M77 193h1M77 197h1M87 190h1M74 199h1M88 185h1M70 196h1M101 191h1M90 193h1M72 203h1M76 193h1M99 181h1M96 189h1M72 199h1M73 198h1M73 193h1M108 181h1M92 190h1M87 187h1M66 187h1M93 191h1M71 202h1M92 202h1M85 196h1M89 194h1M81 193h1M91 195h1M68 195h1M84 201h1M77 189h1M91 193h1M102 187h1M101 183h1M91 191h1M69 198h1M97 192h1M79 200h1M92 193h1M85 194h1M73 197h1M82 191h1M79 196h1M85 197h1M70 197h1M84 192h1M84 191h1M93 188h1M71 201h1M96 181h1M80 195h1M94 195h1M78 189h1M90 195h1M86 192h1M77 206h1M67 194h1M92 191h1M89 193h1M101 192h1M77 200h1M67 193h1M93 188h1M59 203h1M75 199h1M80 192h1M75 200h1M72 198h1M72 200h1M101 189h1M94 191h1M71 197h1M83 195h1M76 199h1M74 197h1M80 190h1M92 190h1M83 194h1M58 198h1M74 201h1M76 199h1M70 195h1M78 200h1M64 200h1M86 193h1M82 197h1M83 189h1M87 189h1M80 201h1M109 189h1M85 190h1M76 203h1M83 188h1M99 190h1M96 190h1M58 200h1M80 194h1M96 186h1M80 194h1M79 191h1M65 190h1M85 192h1M82 190h1M80 191h1M72 199h1M89 193h1M81 193h1M98 193h1M74 193h1M86 194h1M75 206h1M59 200h1M85 197h1M62 200h1M98 193h1M79 195h1M73 199h1M68 191h1M66 201h1M70 203h1M96 192h1M90 195h1M86 196h1M87 195h1M70 196h1M72 201h1M86 189h1M71 196h1M90 190h1M78 193h1M83 200h1M74 196h1M100 190h1M71 203h1M69 201h1M54 201h1M90 188h1M74 197h1M81 192h1M77 203h1M97 189h1M69 197h1M79 197h1M97 186h1M83 192h1M82 191h1M87 197h1M77 195h1M81 189h1M98 182h1M77 193h1M96 186h1M79 203h1M79 192h1M82 195h1M74 197h1M80 197h1M91 194h1M81 197h1M81 199h1M85 191h1M92 184h1M71 195h1M79 190h1M67 193h1M82 191h1M105 188h1M72 203h1M84 197h1M72 203h1M92 188h1M72 196h1M88 201h1M102 192h1M79 194h1M85 192h1M76 195h1M90 190h1M84 192h1M79 194h1M95 190h1M97 187h1M91 185h1M77 196h1M75 196h1M72 197h1M75 197h1M77 192h1M77 196h1M69 200h1M94 188h1M88 194h1M75 202h1M106 180h1M103 183h1M94 182h1M93 190h1M67 197h1M70 195h1M85 192h1M55 203h1M87 192h1M96 181h1M84 193h1M87 187h1M68 199h1M80 188h1M85 193h1M86 182h1M86 189h1M78 199h1M99 188h1M82 199h1M72 197h1M75 193h1M86 200h1M85 195h1M83 198h1M82 190h1M85 199h1M82 199h1M84 201h1M85 195h1M80 198h1M77 190h1M83 189h1M98 191h1M83 196h1M76 199h1M106 178h1M78 197h1M84 187h1M74 203h1M76 198h1M66 197h1M63 203h1M94 190h1M79 196h1M86 191h1M90 199h1M104 183h1M71 206h1M93 194h1M87 191h1M93 194h1M92 186h1M92 189h1M78 197h1M81 204h1M88 193h1M80 196h1M80 197h1M92 193h1M68 198h1M81 190h1M85 192h1M83 195h1M77 202h1M91 188h1M87 195h1M73 196h1M85 182h1M69 201h1M87 188h1M93 198h1M84 193h1M81 190h1M88 192h1M91 196h1M82 195h1M87 199h1M67 200h1M75 197h1M90 191h1M89 192h1M73 195h1M68 201h1M79 199h1M90 187h1M71 201h1M73 198h1M87 190h1M99 184h1M85 191h1M52 205h1M81 197h1M79 192h1M76 195h1M89 190h1M95 192h1M75 201h1M58 203h1M71 198h1M93 189h1M82 199h1M73 194h1M92 192h1M67 200h1M89 190h1M78 196h1M83 191h1M88 185h1M84 202h1M71 198h1M57 201h1M70 199h1M79 202h1M72 198h1M85 195h1M89 185h1M104 184h1M72 191h1M75 190h1M83 191h1M84 190h1M85 201h1M94 190h1M74 203h1M62 196h1M94 187h1M96 191h1M106 191h1M87 190h1M90 197h1M79 184h1M77 194h1M81 193h1M92 185h1M83 185h1M58 200h1M73 194h1M75 199h1M88 192h1M83 191h1M70 193h1M76 192h1M79 198h1M89 196h1M69 190h1M73 206h1M88 190h1M94 187h1M98 186h1M78 198h1M70 198h1M102 188h1M70 198h1M80 192h1M87 197h1M83 197h1M85 193h1M75 200h1M95 187h1M73 199h1M84 198h1M86 192h1M68 202h1M81 189h1M64 194h1M87 190h1M46 205h1M75 196h1M81 193h1M90 195h1M81 200h1M79 192h1M81 189h1M77 192h1M77 197h1M57 205h1M84 192h1M89 192h1M76 192h1M90 194h1M65 198h1M71 202h1M74 192h1M98 189h1M84 194h1M80 195h1M91 192h1M77 196h1M100 185h1M68 200h1M73 208h1M89 194h1M88 199h1M71 198h1M66 205h1M83 201h1M77 192h1M75 200h1M73 198h1M73 195h1M78 202h1M71 200h1M89 188h1M68 205h1M99 186h1M70 202h1M80 191h1M74 187h1M71 193h1M69 202h1M86 199h1M53 203h1M75 202h1M92 190h1M81 191h1M75 195h1M92 198h1M95 191h1M88 185h1M72 201h1M75 190h1M79 190h1M83 200h1M69 197h1M87 192h1M82 190h1M74 187h1M81 199h1M69 198h1M90 195h1M92 186h1M79 202h1M77 197h1M72 195h1M50 204h1M57 200h1M73 203h1M90 192h1M74 191h1M85 189h1M81 198h1M79 195h1M72 202h1M88 194h1M96 182h1M82 196h1M85 194h1M84 187h1M82 198h1M80 194h1M88 185h1M87 198h1M77 192h1M86 190h1M73 198h1M65 203h1M68 197h1M89 191h1M86 198h1M100 195h1M77 200h1M65 204h1M94 186h1M87 195h1M79 193h1M95 183h1M84 197h1M86 199h1M97 190h1M101 189h1M68 198h1M84 194h1M67 209h1M63 197h1M86 193h1M97 189h1M86 195h1M72 193h1M78 200h1M80 200h1M77 199h1M83 197h1M82 195h1M78 200h1M82 196h1M87 188h1M73 197h1M93 185h1M69 195h1M76 192h1M74 199h1M70 199h1M69 198h1M84 185h1M82 195h1M81 195h1M84 188h1M81 197h1M93 184h1M73 192h1M80 190h1M72 201h1M102 178h1M97 184h1M89 193h1M94 188h1M73 197h1M88 188h1M86 192h1M83 193h1M89 194h1M78 194h1M58 200h1M67 203h1M69 196h1M88 195h1M93 186h1M85 197h1M72 197h1M68 197h1M89 192h1M77 194h1M98 190h1M72 207h1M77 195h1M75 194h1M86 186h1M81 193h1M100 188h1M87 194h1M88 192h1M57 206h1M79 198h1M84 191h1M71 194h1M84 193h1M72 196h1M84 190h1M79 193h1M55 205h1M83 197h1M94 186h1M88 193h1M83 197h1M89 186h1M96 187h1M74 194h1M78 191h1M93 191h1M73 201h1M84 193h1M91 190h1M79 197h1M61 197h1M88 196h1M64 201h1M74 196h1M90 197h1M101 190h1M88 192h1M63 203h1M68 195h1M80 188h1M100 189h1M86 194h1M84 193h1M88 189h1M84 194h1M88 187h1M84 193h1M89 193h1M84 195h1M88 197h1M85 195h1M72 197h1M91 195h1M71 198h1M79 195h1M76 195h1M81 195h1M91 187h1M73 201h1M86 191h1M71 202h1M72 202h1M84 193h1M81 198h1M79 188h1M71 190h1M87 196h1M90 185h1M106 192h1M78 188h1M74 201h1M102 184h1M61 198h1M101 186h1M64 193h1M89 194h1M76 195h1M82 193h1M75 194h1M77 201h1M87 196h1M97 179h1M82 198h1M78 193h1M85 191h1M72 196h1M82 194h1M91 190h1M81 207h1M79 194h1M79 192h1M66 201h1M94 182h1M74 199h1M75 199h1M79 191h1M78 193h1M83 183h1M87 197h1M83 194h1M76 197h1M78 190h1M66 191h1M86 193h1M93 191h1M87 187h1M61 200h1M79 197h1M80 194h1M82 195h1M84 194h1M76 196h1M65 196h1M79 197h1M72 192h1M90 187h1M62 198h1M66 191h1M80 201h1M73 194h1M93 190h1M82 199h1M69 199h1M87 193h1M68 196h1M99 187h1M80 199h1M63 201h1M65 206h1M71 199h1M72 198h1M85 193h1M78 196h1M78 193h1M89 194h1M66 196h1M74 198h1M69 205h1M82 194h1M89 188h1M86 194h1M93 185h1M96 190h1M85 197h1M79 194h1M89 189h1M94 194h1M84 194h1M74 194h1M95 185h1M83 195h1M71 195h1M77 204h1M87 197h1M104 189h1M94 187h1M76 202h1M95 185h1M94 190h1M91 194h1M100 184h1M83 198h1M80 197h1M79 189h1M77 199h1M74 191h1M77 196h1M87 193h1M86 188h1M74 194h1M78 197h1M95 188h1M94 194h1M69 196h1M81 189h1M98 180h1M70 202h1M75 200h1M73 202h1M77 199h1M90 185h1M70 192h1M72 202h1M83 197h1M98 192h1M89 190h1M78 197h1M92 194h1M84 192h1M83 200h1M87 200h1M76 200h1M85 196h1M75 198h1M81 193h1M68 194h1M79 197h1M85 194h1M83 188h1M93 190h1M74 195h1M92 191h1M68 208h1M69 206h1M89 187h1M96 193h1M93 192h1M86 193h1M77 197h1M95 189h1M100 181h1M80 189h1M64 202h1M78 194h1M71 198h1M65 200h1M75 192h1M84 186h1M87 193h1M88 192h1M90 190h1M71 200h1M73 196h1M82 190h1M90 185h1M94 189h1M101 191h1M89 192h1M81 189h1M75 193h1M75 197h1M74 198h1M79 194h1M87 194h1M68 198h1M112 182h1M85 189h1M94 195h1M88 191h1M80 187h1M88 191h1M87 194h1M87 200h1M90 188h1M89 194h1M84 199h1M76 190h1M72 200h1M72 199h1M67 202h1M78 192h1M76 195h1M92 191h1M80 195h1M92 192h1M99 184h1M90 191h1M76 199h1M92 194h1M86 189h1M84 195h1M99 188h1M86 199h1M82 192h1M86 196h1M81 188h1M79 199h1M76 200h1M83 191h1M87 184h1M59 197h1M87 191h1M88 191h1M83 192h1M79 199h1M88 186h1M91 199h1M88 188h1M90 192h1M80 199h1M94 187h1M83 192h1M84 199h1M78 198h1M85 193h1M71 201h1M72 201h1M81 195h1M76 193h1M72 198h1M82 195h1M80 198h1M84 194h1M80 195h1M88 189h1M70 200h1M86 192h1M83 189h1M72 198h1M80 190h1M84 186h1M93 186h1M75 193h1M68 198h1M62 201h1M83 192h1M80 189h1M62 197h1M93 191h1M66 207h1M90 195h1M94 194h1M65 201h1M77 204h1M89 191h1M77 188h1M82 191h1M97 191h1M81 193h1M92 188h1M93 190h1M80 196h1M97 182h1M90 194h1M81 200h1M89 193h1M73 200h1M70 201h1M102 182h1M96 184h1M84 196h1M68 201h1M73 195h1M90 190h1M86 193h1M88 198h1M83 193h1M83 196h1M84 185h1M82 196h1M107 182h1M78 191h1M79 188h1M73 197h1M66 199h1M77 201h1M101 195h1M84 196h1M105 182h1M98 184h1M90 185h1M78 195h1M77 189h1M83 193h1M98 190h1M60 203h1M93 189h1M73 192h1M77 192h1M79 194h1M93 186h1M84 189h1M86 196h1M74 192h1M82 194h1M76 198h1M84 196h1M69 202h1M94 186h1M102 187h1M67 196h1M73 195h1M80 196h1M79 194h1M69 191h1M73 193h1M87 182h1M90 180h1M80 195h1M69 195h1M89 187h1M81 195h1M87 187h1M95 188h1M90 185h1M93 189h1M89 189h1M91 191h1M76 198h1M79 193h1M79 199h1M93 193h1M66 203h1M70 208h1M87 196h1M82 195h1M77 204h1M80 199h1M73 197h1M78 195h1M78 198h1M86 186h1M76 191h1M91 185h1M87 193h1M79 188h1M99 187h1M90 195h1M70 195h1M102 194h1M73 197h1M91 190h1M96 191h1M82 197h1M79 200h1M77 201h1M105 178h1M97 182h1M84 201h1M94 192h1M86 193h1M86 192h1M77 191h1M100 187h1M102 189h1M85 188h1M79 195h1M80 194h1M58 202h1M79 193h1M77 190h1M75 203h1M72 196h1M73 197h1M79 203h1M73 203h1M78 198h1M108 184h1M78 184h1M78 195h1M84 194h1M69 195h1M89 190h1M83 196h1M83 194h1M71 199h1M67 207h1M76 203h1M77 196h1M96 189h1M83 192h1M78 193h1M72 191h1M79 192h1M99 196h1M100 182h1M78 195h1M68 206h1M90 192h1M103 188h1M79 196h1M78 198h1M69 201h1M78 194h1M78 195h1M65 203h1M83 201h1M83 197h1M82 194h1M69 197h1M73 188h1M78 193h1M87 196h1M81 199h1M96 192h1M79 196h1M101 193h1M91 183h1M91 196h1M88 191h1M87 192h1M99 191h1M71 195h1M94 193h1M86 194h1M68 196h1M85 186h1M88 194h1M90 194h1M102 187h1M71 192h1M59 204h1M89 185h1M83 191h1M80 196h1M81 190h1M90 190h1M64 204h1M98 186h1M97 182h1M81 200h1M96 190h1M93 188h1M91 194h1M93 191h1M91 192h1M86 186h1M87 188h1M78 196h1M83 188h1M77 197h1M78 196h1M85 194h1M77 197h1M86 187h1M89 187h1M87 195h1M87 187h1M71 194h1M88 192h1M65 204h1M94 187h1M82 195h1M71 197h1M87 191h1M82 194h1M100 188h1M85 191h1M95 189h1M84 199h1M95 185h1M81 200h1M80 201h1M83 201h1M70 191h1M70 207h1M74 196h1M75 194h1M84 194h1M75 195h1M97 192h1M94 194h1M81 198h1M98 184h1M93 180h1M61 197h1M71 195h1M78 199h1M74 196h1M67 194h1M79 192h1M91 191h1M64 204h1M69 198h1M70 195h1M74 192h1M74 196h1M90 194h1M98 181h1M80 200h1M70 198h1M92 196h1M88 193h1M81 197h1M83 195h1M75 196h1M71 194h1M72 195h1M74 195h1M67 201h1M87 198h1M56 199h1M71 195h1M81 191h1M75 200h1M78 189h1M95 198h1M93 189h1M96 188h1M79 196h1M95 189h1M77 191h1M82 190h1M79 190h1M72 194h1M73 193h1M96 192h1M77 192h1M93 189h1M89 195h1M78 197h1M86 191h1M79 193h1M47 207h1M100 191h1M110 183h1M90 188h1M73 194h1M88 195h1M63 204h1M92 193h1M69 200h1M83 188h1M73 206h1M74 195h1M61 200h1M96 190h1M73 198h1M86 195h1M72 199h1M74 195h1M72 195h1M84 186h1M88 203h1M72 197h1M83 200h1M68 202h1M83 201h1M82 202h1M72 199h1M70 197h1M68 198h1M97 186h1M109 190h1M85 193h1M84 190h1M88 192h1M62 202h1M88 192h1M85 193h1M78 200h1M96 187h1M88 187h1M93 186h1M83 197h1M77 196h1M91 188h1M87 196h1M83 190h1M77 195h1M83 196h1M66 200h1M86 198h1M66 197h1M91 190h1M93 190h1M75 197h1M95 192h1M84 194h1M93 192h1M85 196h1M81 190h1M92 195h1M96 188h1M70 200h1M73 190h1M82 191h1M82 192h1M91 194h1M88 196h1M80 204h1M65 204h1M92 189h1M81 190h1M78 197h1M66 193h1M77 193h1M72 197h1M69 203h1M93 190h1M76 196h1M80 192h1M76 198h1M72 196h1M76 193h1M83 189h1M92 193h1M82 197h1M92 188h1M80 192h1M77 194h1M83 195h1M104 186h1M91 190h1M98 188h1M80 194h1M81 193h1M86 199h1M81 191h1M63 201h1M71 196h1M83 195h1M88 196h1M71 196h1M72 194h1M74 194h1M87 188h1M101 179h1M88 186h1M75 192h1M82 196h1M77 194h1M71 195h1M72 195h1M83 197h1M72 190h1M79 198h1M72 199h1M68 194h1M81 187h1M74 187h1M71 200h1M75 194h1M85 189h1M69 197h1M81 195h1M81 199h1M87 191h1M102 180h1M83 191h1M103 187h1M90 192h1M95 187h1M88 185h1M88 196h1M91 193h1M63 202h1M80 201h1M87 194h1M95 191h1M67 197h1M62 206h1M77 191h1M85 191h1M80 200h1M59 197h1M80 194h1M92 188h1M89 198h1M66 195h1M74 196h1M71 199h1M75 201h1M87 194h1M83 194h1M65 200h1M65 206h1M69 196h1M79 203h1M72 204h1M86 202h1M78 193h1M80 192h1M75 199h1M78 199h1M88 195h1M98 191h1M73 202h1M58 208h1M92 186h1M91 183h1M90 189h1M78 195h1M76 199h1M80 194h1M81 193h1M72 200h1M88 187h1M92 195h1M85 198h1M61 207h1M74 198h1M75 206h1M78 198h1M66 199h1M85 192h1M76 202h1M66 201h1M79 194h1M88 192h1M80 197h1M81 196h1M94 190h1M81 192h1M96 192h1M87 193h1M73 198h1M83 189h1M72 198h1M101 188h1M68 204h1M91 193h1M76 196h1M104 189h1M124 170h1M65 199h1M71 196h1M90 196h1M68 202h1M90 192h1M96 193h1M73 198h1M82 189h1M80 198h1M85 193h1M108 186h1M90 187h1M93 188h1M79 193h1M69 201h1M70 202h1M75 202h1M86 197h1M71 200h1M89 192h1M79 193h1M50 209h1M67 196h1M81 184h1M75 199h1M81 193h1M74 198h1M65 198h1M88 188h1M79 193h1M66 192h1M72 195h1M71 198h1M85 195h1M83 189h1M96 190h1M87 187h1M95 197h1M88 196h1M76 197h1M82 197h1M83 194h1M71 194h1M85 203h1M72 200h1M94 187h1M65 202h1M80 191h1M97 190h1M79 190h1M96 193h1M92 196h1M70 195h1M91 192h1M80 193h1M92 191h1M89 187h1M83 195h1M89 184h1M79 193h1M81 194h1M87 195h1M84 193h1M92 195h1M81 191h1M101 190h1M103 184h1M77 195h1M79 190h1M88 186h1M53 205h1M71 199h1M68 194h1M59 198h1M81 203h1M87 189h1M95 189h1M60 196h1M65 198h1M81 192h1M75 193h1M84 196h1M72 203h1M73 197h1M99 189h1M79 187h1M82 193h1M81 199h1M78 202h1M82 194h1M78 196h1M96 189h1M70 196h1M94 191h1M73 197h1M83 196h1M72 198h1M67 197h1M81 200h1M83 200h1M87 197h1M77 189h1M59 201h1M99 186h1M77 198h1M77 194h1M84 195h1M74 194h1M97 185h1M72 197h1M80 196h1M99 192h1M81 195h1M91 190h1M82 190h1M85 192h1M67 201h1M105 186h1M75 202h1M85 193h1M98 191h1M102 183h1M77 196h1M82 189h1M83 188h1M75 196h1M85 194h1M74 198h1M84 193h1M81 192h1M102 191h1M86 198h1M72 196h1M79 197h1M77 192h1M65 196h1M92 192h1M70 206h1M76 194h1M80 195h1M78 196h1M91 194h1M74 196h1M73 196h1M80 193h1M86 189h1M86 195h1M78 194h1M87 190h1M78 196h1M57 207h1M85 195h1M67 198h1M87 194h1M75 195h1M97 189h1M92 185h1M85 190h1M78 200h1M70 195h1M74 196h1M82 195h1M95 191h1M101 191h1M87 191h1M95 187h1M92 190h1M77 199h1M89 192h1M93 190h1M74 197h1M99 183h1M63 201h1M73 203h1M82 190h1M80 191h1M88 195h1M95 193h1M83 198h1M85 188h1M94 186h1M73 191h1M70 190h1M68 196h1M69 198h1M89 190h1M87 196h1M77 202h1M81 194h1M87 197h1M71 202h1M77 196h1M68 190h1M94 192h1M70 195h1M69 199h1M102 185h1M65 203h1M70 192h1M85 193h1M84 196h1M88 183h1M85 197h1M93 186h1M62 198h1M85 192h1M90 190h1M67 195h1M80 198h1M95 185h1M86 192h1M68 195h1M97 186h1M81 196h1M86 195h1M73 196h1M85 194h1M72 191h1M91 193h1M91 190h1M63 200h1M102 187h1M82 188h1M76 200h1M85 192h1M95 191h1M87 191h1M87 196h1M83 189h1M79 194h1M87 197h1M80 193h1M90 193h1M74 199h1M84 195h1M63 194h1M64 194h1M93 194h1M70 204h1M69 196h1M102 181h1M90 194h1M94 192h1M86 198h1M81 195h1M85 191h1M82 199h1M99 190h1M80 193h1M77 194h1M77 196h1M81 199h1M67 198h1M89 189h1M78 198h1M79 191h1M84 196h1M66 204h1M65 203h1M69 200h1M83 198h1M80 193h1M74 198h1M80 198h1M87 197h1M89 192h1M82 196h1M88 186h1M85 191h1M86 196h1M62 201h1M89 184h1M84 193h1M77 199h1M91 190h1M98 193h1M85 196h1M93 196h1M91 193h1M84 196h1M98 187h1M79 191h1M107 182h1M76 194h1M94 191h1M61 203h1M100 187h1M87 203h1M79 194h1M92 200h1M84 187h1M80 194h1M89 190h1M82 189h1M69 199h1M97 184h1M67 205h1M87 195h1M81 196h1M81 194h1M99 185h1M78 196h1M82 201h1M81 196h1M70 201h1M89 194h1M65 198h1M83 200h1M103 190h1M75 196h1M87 184h1M98 193h1M90 190h1M83 187h1M72 196h1M77 203h1M83 184h1M94 191h1M79 193h1M103 186h1M82 188h1M77 199h1M83 192h1M77 190h1M58 206h1M65 195h1M86 196h1M80 199h1M78 183h1M97 184h1M98 187h1M81 193h1M72 200h1M101 192h1M77 198h1M93 192h1M71 206h1M73 194h1M84 194h1M74 192h1M69 199h1M64 206h1M89 192h1M83 190h1M77 199h1M79 202h1M93 192h1M78 192h1M79 191h1M78 194h1M78 200h1M72 195h1M94 190h1M86 190h1M87 197h1M83 195h1M95 191h1M93 185h1M62 197h1M85 190h1M64 208h1M94 187h1M74 194h1M90 193h1M85 198h1M72 193h1M82 194h1M83 195h1M68 206h1M64 203h1M87 195h1M83 190h1M78 190h1M80 194h1M66 209h1M76 198h1M95 189h1M76 192h1M73 195h1M81 197h1M86 198h1M86 193h1M50 206h1M82 188h1M80 192h1M80 195h1M79 195h1M86 194h1M76 200h1M83 195h1M102 193h1M104 184h1M87 194h1M83 193h1M92 195h1M103 183h1M85 190h1M76 187h1M101 180h1M80 188h1M77 192h1M59 199h1M79 195h1M63 204h1M77 191h1M96 185h1M86 198h1M82 193h1M91 189h1M82 193h1M79 198h1M86 198h1M84 188h1M85 191h1M80 198h1M84 187h1M102 185h1M65 200h1M85 188h1M70 191h1M84 191h1M98 189h1M83 191h1M90 185h1M85 195h1M72 193h1M96 196h1M88 199h1M86 192h1M76 192h1M90 188h1M76 198h1M86 190h1M84 193h1M83 193h1M74 187h1M77 201h1M79 196h1M86 188h1M82 193h1M86 195h1M82 193h1M92 191h1M68 204h1M85 190h1M80 191h1M81 188h1M93 192h1M72 200h1M66 198h1M72 201h1M87 187h1M84 195h1M81 204h1M67 205h1M96 187h1M72 203h1M56 204h1M67 200h1M74 192h1M89 196h1M69 202h1M82 191h1M77 198h1M93 189h1M57 207h1M83 186h1M76 196h1M79 196h1M73 200h1M54 207h1M75 196h1M90 196h1M71 198h1M71 198h1M74 192h1M93 191h1M83 199h1M65 202h1M97 186h1M71 195h1M95 193h1M86 196h1M74 196h1M89 187h1M84 193h1M73 198h1M67 197h1M59 198h1M73 199h1M80 190h1M82 203h1M83 195h1M59 201h1M91 184h1M71 195h1M81 197h1M64 204h1M53 202h1M84 188h1M72 196h1M96 184h1M94 197h1M76 193h1M80 191h1M76 192h1M64 195h1M90 188h1M71 203h1M79 194h1M73 197h1M77 194h1M80 198h1M81 199h1M90 187h1M69 194h1M74 200h1M77 194h1M79 186h1M84 192h1M87 190h1M93 194h1M79 197h1M71 195h1M69 198h1M67 195h1M76 190h1M86 189h1M78 194h1M92 192h1M77 193h1M89 190h1M70 199h1M87 191h1M83 199h1M76 199h1M99 194h1M70 201h1M85 202h1M95 192h1M94 191h1M73 206h1M64 204h1M89 192h1M91 190h1M89 192h1M75 201h1M76 199h1M70 199h1M88 196h1M69 197h1M79 191h1M90 200h1M89 194h1M73 200h1M89 199h1M79 200h1M77 195h1M77 197h1M65 199h1M94 182h1M91 193h1M75 193h1M92 188h1M84 192h1M71 202h1M86 188h1M91 185h1M69 202h1M76 196h1M96 184h1M87 190h1M82 193h1M73 198h1M71 198h1M71 197h1M80 189h1M81 197h1M83 197h1M71 200h1M80 183h1M82 197h1M80 195h1M79 194h1M69 196h1M81 195h1M88 193h1M78 189h1M71 205h1M86 195h1M69 197h1M83 190h1M92 187h1M75 192h1M86 197h1M83 193h1M78 198h1M83 200h1M78 194h1M73 190h1M83 194h1M63 197h1M69 197h1M71 201h1M92 187h1M80 190h1M93 185h1M73 197h1M76 207h1M79 194h1M71 198h1M74 195h1M90 188h1M84 190h1M90 187h1M71 197h1M93 188h1M72 197h1M74 198h1M74 198h1M91 192h1M97 189h1M102 191h1M79 198h1M73 196h1M79 192h1M84 193h1M102 189h1M77 193h1M74 194h1M73 197h1M67 199h1M85 190h1M69 197h1M89 188h1M94 182h1M74 200h1M94 188h1M64 200h1M71 195h1M76 194h1M81 195h1M75 189h1M75 186h1M81 192h1M74 205h1M100 192h1M82 192h1M88 198h1M80 194h1M75 196h1M88 188h1M92 190h1M104 186h1M92 186h1M106 185h1M82 200h1M81 189h1M88 194h1M80 193h1M67 206h1M77 197h1M75 194h1M83 190h1M88 185h1M89 196h1M77 197h1M89 189h1M78 194h1M108 180h1M79 193h1M74 193h1M75 197h1M95 195h1M67 196h1M79 191h1M73 197h1M74 194h1M82 191h1M79 196h1M89 192h1M92 190h1M68 205h1M111 185h1M99 191h1M77 198h1M73 195h1M87 192h1M73 192h1M89 191h1M81 191h1M73 197h1M64 206h1M83 198h1M90 188h1M85 188h1M74 202h1M75 194h1M86 192h1M89 186h1M77 191h1M81 193h1M69 192h1M69 203h1M76 192h1M81 190h1M92 193h1M81 192h1M63 203h1M102 187h1M77 199h1M76 192h1M81 197h1M64 205h1M98 187h1M74 191h1M86 191h1M96 194h1M94 190h1M65 206h1M76 194h1M93 191h1M70 197h1M78 195h1M71 204h1M81 197h1M95 197h1M88 189h1M78 199h1M96 182h1M100 184h1M79 193h1M87 191h1M80 191h1M97 189h1M84 202h1M90 196h1M79 196h1M81 198h1M82 187h1M87 191h1M85 196h1M79 197h1M81 194h1M76 196h1M79 198h1M59 205h1M79 191h1M89 191h1M89 196h1M81 188h1M65 200h1M72 206h1M78 188h1M59 201h1M58 206h1M59 206h1M78 200h1M69 197h1M90 184h1M90 196h1M71 198h1M100 192h1M98 187h1M77 195h1M79 198h1M91 192h1M76 200h1M87 193h1M93 188h1M84 197h1M75 200h1M91 196h1M94 187h1M99 185h1M69 198h1M77 192h1M92 192h1M86 187h1M101 188h1M94 191h1M86 195h1M85 198h1M74 189h1M78 195h1M86 193h1M87 194h1M81 197h1M86 189h1M64 202h1M88 196h1M93 191h1M93 187h1M79 201h1M69 199h1M69 194h1M101 179h1M99 185h1M72 191h1M85 195h1M86 189h1M99 188h1M88 194h1M87 191h1M84 190h1M83 190h1M66 198h1M79 192h1M78 193h1M84 200h1M89 195h1M93 193h1M87 195h1M92 189h1M79 195h1M82 196h1M77 194h1M85 195h1M79 189h1M80 198h1M81 199h1M76 195h1M91 195h1M81 200h1M84 195h1M101 190h1M79 195h1M74 201h1M88 199h1M94 189h1M75 195h1M94 189h1M95 194h1M97 189h1M87 187h1M85 193h1M89 184h1M82 203h1M83 192h1M83 193h1M79 197h1M86 197h1M108 186h1M87 198h1M70 206h1M70 197h1M81 189h1M76 197h1M84 188h1M53 208h1M66 202h1M88 195h1M75 194h1M113 181h1M70 194h1M82 201h1M88 188h1M67 198h1M82 195h1M88 196h1M66 194h1M82 196h1M77 197h1M82 198h1M79 193h1M88 195h1M75 196h1M73 193h1M105 182h1M78 194h1M73 197h1M81 196h1M74 192h1M81 197h1M94 189h1M78 193h1M96 186h1M76 196h1M80 195h1M88 198h1M87 193h1M70 207h1M88 195h1M78 195h1M78 195h1M79 198h1M92 190h1M80 198h1M80 197h1M77 201h1M78 198h1M100 189h1M80 198h1M94 180h1M78 195h1M88 186h1M90 191h1M86 188h1M98 198h1M84 196h1M67 189h1M81 194h1M89 192h1M65 192h1M94 193h1M80 194h1M88 189h1M70 204h1M67 198h1M96 190h1M95 195h1M82 188h1M61 194h1M87 186h1M81 195h1M85 193h1M95 190h1M93 189h1M82 195h1M88 195h1M78 198h1M106 174h1M88 191h1M79 193h1M70 200h1M77 202h1M87 199h1M81 189h1M86 193h1M87 182h1M85 199h1M80 187h1M87 194h1M97 190h1M73 202h1M91 195h1M81 198h1M59 198h1M90 197h1M88 192h1M80 193h1M91 183h1M87 198h1M62 193h1M72 198h1M87 190h1M89 189h1M67 204h1M81 192h1M61 192h1M72 201h1M71 193h1M75 199h1M90 196h1M75 203h1M99 189h1M95 196h1M85 190h1M88 193h1M93 200h1M82 193h1M95 189h1M70 200h1M90 184h1M102 194h1M71 200h1M87 194h1M86 195h1M74 196h1M82 196h1M103 189h1M72 200h1M104 193h1M100 187h1M90 192h1M70 199h1M76 191h1M80 193h1M80 198h1M71 199h1M86 194h1M85 193h1M63 193h1M75 195h1M71 195h1M80 202h1M82 197h1M89 192h1M91 188h1M78 191h1M82 198h1M73 197h1M79 195h1M78 197h1M69 200h1M98 183h1M89 188h1M79 203h1M90 193h1M100 190h1M78 187h1M92 197h1M76 192h1M65 203h1M58 205h1M90 189h1M71 197h1M96 184h1M74 199h1M77 201h1M73 193h1M66 199h1M93 190h1M74 191h1M83 191h1M104 180h1M66 195h1M84 195h1M86 197h1M88 189h1M98 184h1M84 193h1M94 189h1M82 186h1M81 195h1M95 182h1M71 202h1M106 185h1M57 197h1M77 193h1M88 196h1M89 188h1M74 196h1M87 194h1M79 199h1M89 190h1M86 199h1M88 190h1M80 199h1M86 193h1M74 196h1M86 200h1M69 200h1M70 193h1M104 180h1M96 193h1M87 192h1M82 196h1M87 194h1M86 186h1M69 199h1M79 190h1M92 192h1M86 196h1M88 191h1M77 201h1M76 194h1M73 200h1M84 192h1M90 187h1M90 189h1M80 194h1M86 198h1M77 200h1M94 188h1M74 193h1M85 204h1M80 195h1M73 199h1M86 196h1M105 189h1M73 197h1M68 198h1M69 204h1M60 205h1M81 188h1M92 195h1M100 186h1M90 192h1M97 188h1M92 186h1M73 193h1M78 190h1M83 191h1M68 201h1M94 191h1M85 192h1M78 189h1M100 180h1M71 194h1M71 199h1M73 195h1M84 188h1M71 200h1M74 190h1M86 187h1M82 194h1M85 194h1M77 196h1M65 202h1M63 204h1M75 200h1M82 196h1M77 195h1M87 194h1M74 186h1M84 196h1M94 188h1M88 177h1M76 194h1M103 185h1M108 184h1M76 194h1M73 198h1M82 190h1M101 190h1M79 197h1M79 193h1M72 195h1M102 193h1M80 193h1M92 186h1M87 186h1M87 195h1M92 196h1M94 188h1M64 192h1M70 198h1M80 206h1M87 194h1M83 193h1M87 196h1M84 197h1M97 189h1M90 192h1M95 192h1M86 197h1M95 190h1M72 205h1M86 196h1M84 192h1M70 199h1M81 197h1M79 195h1M90 191h1M77 198h1M78 192h1M70 195h1M73 189h1M66 198h1M77 195h1M86 188h1M98 189h1M57 204h1M72 200h1M98 182h1M81 190h1M67 203h1M90 188h1M76 191h1M74 196h1M81 197h1M84 193h1M84 196h1M86 187h1M80 196h1M72 192h1M70 194h1M79 194h1M85 185h1M88 195h1M109 182h1M87 185h1M95 195h1M84 191h1M96 184h1M99 183h1M87 193h1M83 191h1M73 203h1M85 189h1M69 202h1M96 188h1M78 198h1M89 196h1M79 192h1M79 190h1M70 197h1M80 195h1M66 199h1M100 180h1M77 194h1M87 189h1M105 183h1M85 194h1M97 190h1M67 200h1M77 201h1M88 193h1M80 192h1M94 193h1M105 184h1M92 186h1M87 192h1M70 196h1M83 193h1M78 194h1M81 193h1M64 202h1M99 186h1M82 191h1M72 194h1M68 200h1M73 199h1M81 189h1M104 184h1M82 192h1M69 199h1M84 185h1M82 194h1M98 180h1M76 201h1M75 199h1M70 194h1M89 189h1M70 199h1M94 189h1M103 180h1M99 188h1M92 193h1M78 194h1M67 197h1M76 201h1M77 197h1M84 203h1M72 194h1M86 185h1M81 190h1M72 197h1M104 189h1M91 192h1M86 190h1M83 193h1M89 195h1M68 194h1M95 184h1M98 199h1M93 191h1M80 195h1M95 201h1M90 190h1M98 187h1M95 190h1M85 196h1M79 192h1M81 195h1M79 198h1M85 194h1M78 196h1M88 190h1M79 196h1M83 191h1M91 192h1M99 182h1M69 200h1M103 189h1M81 191h1M84 191h1M73 198h1M74 196h1M74 196h1M87 192h1M83 189h1M66 200h1M82 196h1M68 203h1M79 191h1M75 195h1M95 187h1M83 190h1M66 197h1M64 200h1M81 201h1M78 200h1M89 194h1M83 193h1M88 196h1M71 193h1M73 192h1M76 195h1M73 197h1M94 189h1M93 189h1M81 189h1M94 190h1M96 188h1M78 204h1M67 192h1M88 187h1M70 200h1M75 204h1M106 193h1M77 200h1M74 195h1M79 194h1M84 192h1M94 184h1M83 187h1M88 196h1M98 190h1M82 191h1M78 196h1M72 193h1M95 191h1M86 191h1M88 190h1M86 193h1M81 192h1M87 188h1M99 191h1M80 197h1M90 191h1M70 200h1M78 195h1M103 186h1M68 202h1M91 187h1M80 192h1M86 197h1M108 182h1M85 198h1M80 198h1M79 208h1M74 200h1M100 191h1M99 191h1M83 196h1M91 191h1M90 189h1M75 202h1M86 199h1M101 185h1M99 189h1M84 186h1M77 195h1M74 192h1M64 202h1M87 196h1M65 195h1M103 185h1M82 198h1M70 198h1M91 192h1M90 189h1M95 183h1M59 202h1M83 193h1M58 198h1M79 199h1M96 195h1M68 197h1M62 197h1M68 199h1M73 199h1M96 187h1M77 196h1M79 194h1M75 197h1M76 198h1M85 197h1M88 194h1M80 193h1M86 189h1M88 198h1M75 199h1M88 192h1M92 188h1M70 201h1M87 193h1M89 187h1M75 204h1M80 199h1M83 186h1M80 206h1M85 196h1M68 199h1M70 198h1M82 191h1M68 202h1M87 190h1M76 200h1M82 199h1M88 190h1M89 184h1M72 198h1M92 193h1M86 189h1M83 201h1M90 195h1M81 190h1M80 200h1M75 202h1M84 186h1M82 192h1M82 200h1M65 194h1M78 196h1M85 193h1M72 197h1M104 187h1M91 192h1M82 188h1M90 201h1M64 203h1M69 202h1M85 192h1M68 197h1M95 188h1M82 196h1M75 196h1M69 207h1M85 195h1M74 193h1M88 189h1M81 190h1M104 185h1M86 196h1M70 199h1M67 196h1M92 195h1M85 189h1M82 197h1M77 195h1M85 196h1M73 191h1M76 196h1M80 196h1M93 189h1M85 190h1M81 196h1M71 202h1M73 197h1M88 194h1M81 192h1M101 186h1M82 194h1M83 193h1M74 193h1M71 201h1M99 188h1M83 193h1M80 202h1M84 195h1M88 180h1M88 191h1M83 194h1M89 193h1M98 186h1M87 196h1M76 196h1M88 192h1M81 195h1M108 182h1M71 199h1M62 199h1M64 206h1M89 190h1M57 199h1M75 208h1M66 200h1M91 193h1M77 194h1M91 189h1M64 198h1M77 201h1M77 189h1M79 198h1M71 196h1M69 200h1M81 192h1M83 195h1M74 197h1M87 191h1M66 203h1M81 196h1M86 199h1M70 207h1M87 195h1M72 198h1M81 196h1M64 201h1M74 195h1M77 198h1M92 192h1M63 200h1M84 194h1M89 189h1M75 188h1M81 197h1M82 191h1M81 194h1M71 196h1M84 196h1M100 183h1M79 198h1M78 199h1M65 208h1M91 191h1M68 198h1M75 202h1M77 197h1M87 190h1M72 189h1M92 196h1M82 190h1M86 191h1M53 204h1M60 201h1M71 202h1M66 201h1M78 189h1M81 192h1M69 193h1M80 192h1M80 195h1M96 187h1M84 199h1M78 200h1M83 186h1M96 188h1M69 198h1M83 194h1M100 180h1M84 191h1M76 194h1M76 203h1M83 193h1M82 188h1M79 193h1M73 203h1M84 195h1M75 197h1M82 196h1M83 195h1M74 199h1M86 194h1M79 196h1M81 195h1M80 192h1M76 197h1M67 190h1M80 193h1M84 195h1M84 192h1M81 188h1M86 189h1M74 199h1M73 194h1M77 192h1M88 187h1M82 198h1M87 201h1M92 191h1M70 201h1M95 192h1M88 194h1M80 196h1M85 193h1M93 186h1M93 187h1M70 197h1M72 197h1M89 196h1M85 182h1M92 187h1M87 197h1M94 196h1M81 191h1M75 204h1M78 196h1M75 193h1M98 193h1M84 196h1M74 197h1M77 200h1M93 187h1M65 204h1M101 183h1M100 188h1M82 188h1M77 190h1M91 199h1M83 191h1M75 196h1M85 198h1M82 194h1M70 195h1M83 193h1M80 196h1M96 185h1M89 195h1M74 192h1M69 200h1M83 195h1M90 195h1M97 194h1M81 195h1M71 194h1M80 191h1M94 186h1M97 185h1M81 198h1M87 197h1M74 200h1M78 197h1M66 197h1M79 197h1M70 195h1M62 199h1M97 186h1M60 197h1M69 197h1M85 196h1M77 198h1M81 197h1M93 193h1M66 203h1M75 188h1M85 192h1M66 193h1M87 193h1M88 192h1M100 184h1M82 194h1M99 192h1M77 200h1M76 200h1M63 194h1M92 192h1M75 190h1M75 194h1M89 192h1M60 199h1M69 196h1M70 203h1M93 189h1M72 194h1M84 202h1M92 192h1M93 187h1M77 198h1M71 203h1M74 192h1M90 189h1M80 200h1M95 186h1M91 184h1M96 189h1M84 199h1M83 186h1M86 196h1M94 195h1M76 191h1M65 199h1M76 197h1M98 186h1M68 199h1M84 196h1M96 190h1M84 190h1M87 196h1M80 201h1M83 197h1M66 205h1M80 193h1M84 194h1M72 193h1M87 195h1M83 192h1M77 189h1M75 194h1M77 187h1M68 198h1M61 197h1M96 187h1M76 196h1M71 199h1M75 193h1M83 196h1M80 190h1M81 192h1M77 197h1M87 195h1M81 204h1M92 193h1M101 191h1M99 192h1M79 199h1M94 192h1M96 191h1M73 197h1M70 194h1M103 189h1M93 185h1M89 189h1M90 194h1M94 186h1M96 192h1M84 189h1M67 193h1M67 203h1M64 198h1M84 191h1M88 196h1M78 198h1M93 190h1M92 190h1M85 196h1M79 194h1M89 195h1M73 202h1M84 194h1M95 185h1M71 194h1M84 195h1M68 202h1M70 200h1M105 189h1M84 197h1M87 183h1M75 200h1M86 188h1M87 194h1M81 194h1M103 189h1M89 185h1M80 198h1M84 192h1M73 199h1M79 189h1M108 183h1M62 196h1M75 195h1M73 197h1M96 185h1M95 192h1M69 194h1M91 194h1M91 193h1M76 199h1M72 200h1M92 193h1M97 191h1M93 190h1M99 187h1M96 186h1M71 200h1M81 193h1M76 200h1M88 195h1M79 197h1M71 196h1M92 194h1M85 198h1M77 202h1M81 194h1M75 203h1M74 203h1M94 182h1M80 190h1M77 196h1M80 198h1M85 186h1M68 195h1M69 201h1M81 195h1M60 201h1M60 203h1M76 198h1M89 195h1M80 196h1M75 206h1M82 190h1M84 198h1M76 201h1M81 200h1M81 191h1M86 198h1M61 199h1M84 189h1M64 202h1M77 195h1M78 197h1M71 192h1M79 194h1M80 195h1M72 192h1M89 197h1M87 193h1M87 190h1M65 193h1M81 190h1M73 199h1M94 195h1M64 200h1M74 197h1M82 196h1M78 191h1M63 209h1M76 199h1M84 196h1M83 198h1M72 200h1M85 189h1M71 195h1M94 187h1M90 189h1M85 195h1M83 192h1M79 203h1M97 190h1M76 198h1M100 184h1M83 195h1M78 195h1M90 190h1M81 196h1M69 200h1M94 193h1M62 201h1M98 184h1M73 199h1M74 194h1M74 198h1M85 194h1M64 194h1M89 191h1M83 195h1M98 192h1M77 199h1M89 197h1M94 198h1M105 186h1M73 200h1M74 197h1M91 188h1M61 200h1M69 193h1M89 194h1M86 197h1M83 202h1M85 196h1M75 199h1M77 191h1M83 190h1M89 185h1M64 207h1M88 190h1M61 200h1M87 200h1M78 203h1M66 207h1M88 189h1M96 189h1M73 196h1M90 189h1M74 197h1M78 190h1M99 195h1M81 196h1M78 191h1M84 189h1M65 198h1M85 191h1M91 193h1M94 195h1M77 199h1M89 193h1M77 198h1M85 196h1M80 193h1M67 200h1M101 187h1M81 191h1M85 193h1M83 193h1M70 195h1M74 193h1M71 200h1M81 192h1M82 199h1M70 201h1M63 208h1M90 200h1M100 187h1M89 193h1M63 206h1M91 194h1M83 189h1M70 184h1M83 191h1M77 200h1M78 184h1M90 185h1M68 196h1M92 185h1M86 195h1M61 208h1M76 203h1M79 201h1M100 178h1M68 197h1M94 196h1M83 195h1M88 188h1M75 197h1M94 186h1M87 189h1M70 199h1M83 194h1M73 195h1M89 185h1M73 193h1M84 198h1M77 193h1M78 196h1M75 193h1M87 198h1M83 191h1M95 189h1M85 192h1M84 188h1M81 194h1M79 196h1M109 179h1M76 191h1M82 192h1M91 190h1M80 195h1M103 190h1M87 196h1M77 190h1M68 202h1M84 191h1M73 201h1M75 192h1M89 192h1M71 205h1M75 195h1M73 196h1M96 187h1M88 189h1M96 194h1M92 197h1M81 186h1M67 197h1M90 191h1M85 194h1M78 195h1M76 197h1M91 197h1M96 188h1M76 195h1M64 205h1M91 192h1M83 196h1M93 195h1M69 209h1M76 202h1M72 203h1M110 187h1M84 200h1M81 195h1M76 196h1M82 191h1M94 191h1M68 197h1M80 193h1M95 184h1M81 194h1M81 197h1M87 190h1M76 198h1M80 193h1M65 202h1M78 198h1M75 197h1M76 189h1M82 195h1M81 195h1M93 181h1M70 196h1M73 196h1M67 198h1M85 190h1M89 194h1M90 192h1M61 202h1M54 199h1M84 182h1M87 189h1M90 196h1M79 191h1M86 187h1M82 194h1M90 184h1M86 200h1M82 201h1M89 185h1M88 193h1M74 196h1M65 208h1M86 191h1M92 196h1M80 194h1M88 191h1M101 190h1M83 192h1M58 199h1M104 185h1M92 182h1M70 202h1M91 184h1M64 197h1M79 186h1M97 183h1M86 196h1M81 194h1M80 203h1M93 189h1M76 196h1M58 201h1M78 201h1M85 189h1M68 202h1M87 195h1M82 195h1M85 200h1M80 191h1M92 193h1M80 200h1M86 189h1M75 203h1M90 186h1M72 206h1M111 187h1M80 193h1M92 196h1M86 192h1M65 195h1M67 192h1M85 191h1M102 190h1M85 201h1M91 189h1M81 191h1M76 196h1M77 194h1M80 195h1M95 188h1M79 198h1M82 189h1M79 195h1M75 200h1M84 191h1M94 191h1M82 195h1M92 193h1M75 198h1M80 193h1M80 199h1M86 203h1M77 200h1M93 188h1M84 198h1M101 186h1M81 196h1M89 190h1M92 192h1M81 190h1M86 183h1M69 192h1M78 195h1M77 193h1M87 184h1M66 201h1M95 190h1M67 193h1M88 193h1M81 189h1M57 207h1M101 190h1M88 193h1M79 194h1M81 191h1M84 188h1M83 200h1M96 185h1M92 192h1M92 192h1M81 199h1M91 185h1M82 193h1M71 199h1M75 188h1M102 186h1M81 195h1M71 195h1M99 185h1M65 202h1M90 188h1M77 201h1M89 186h1M76 195h1M78 190h1M78 191h1M89 192h1M76 195h1M78 199h1M88 194h1M61 205h1M80 193h1M69 204h1M98 188h1M79 192h1M90 191h1M76 201h1M87 193h1M81 193h1M73 196h1M77 199h1M74 203h1M92 187h1M71 191h1M91 193h1M99 188h1M85 191h1M70 201h1M78 195h1M74 199h1M62 197h1M94 192h1M72 199h1M87 196h1M94 193h1M78 203h1M83 196h1M90 197h1M90 184h1M67 199h1M75 201h1M99 192h1M72 200h1M92 193h1M95 199h1M91 192h1M88 193h1M78 196h1M71 194h1M81 191h1M74 194h1M66 189h1M90 196h1M83 191h1M94 191h1M67 199h1M81 191h1M85 187h1M83 196h1M63 204h1M89 188h1M69 198h1M81 193h1M77 191h1M62 199h1M92 193h1M88 190h1M75 195h1M81 189h1M86 194h1M76 200h1M86 183h1M77 195h1M59 206h1M92 192h1M82 200h1M83 195h1M88 196h1M65 204h1M87 198h1M83 193h1M75 197h1M76 198h1M81 191h1M88 191h1M79 200h1M87 194h1M76 202h1M86 188h1M80 200h1M91 190h1M84 194h1M59 206h1M95 186h1M84 197h1M85 197h1M81 193h1M74 197h1M67 195h1M81 191h1M83 193h1M81 197h1M75 192h1M78 195h1M96 192h1M65 193h1M70 201h1M64 205h1M80 199h1M83 190h1M77 196h1M93 188h1M76 197h1M74 199h1M86 196h1M74 202h1M112 187h1M82 193h1M66 202h1M103 188h1M85 192h1M73 207h1M80 201h1M82 194h1M73 198h1M83 192h1M80 194h1M71 195h1M107 179h1M87 187h1M73 201h1M68 203h1M96 187h1M91 194h1M60 201h1M78 199h1M75 192h1M68 200h1M83 195h1M71 200h1M79 191h1M71 207h1M87 190h1M86 189h1M100 189h1M58 202h1M79 196h1M71 202h1M85 198h1M86 198h1M98 188h1M86 196h1M86 192h1M107 189h1M85 188h1M70 198h1M68 194h1M89 194h1M75 196h1M94 193h1M100 186h1M79 198h1M100 186h1M78 195h1M95 194h1M73 202h1M91 195h1M77 196h1M88 194h1M73 201h1M87 191h1M87 196h1M82 194h1M71 198h1M73 194h1M92 192h1M85 193h1M93 183h1M97 186h1M71 195h1M72 197h1M88 188h1M89 189h1M83 199h1M77 192h1M83 195h1M77 194h1M87 188h1M79 192h1M87 190h1M85 193h1M80 191h1M94 187h1M78 190h1M81 191h1M72 202h1M90 192h1M84 195h1M82 195h1M71 197h1M76 186h1M68 196h1M100 180h1M63 204h1M72 200h1M83 200h1M83 197h1M80 195h1M82 194h1M98 194h1M82 193h1M85 197h1M89 191h1M69 209h1M97 190h1M87 197h1M99 188h1M85 192h1M101 185h1M79 199h1M88 192h1M91 192h1M82 195h1M88 193h1M87 193h1M86 189h1M100 191h1M86 195h1M101 188h1M69 201h1M61 202h1M95 185h1M66 199h1M88 199h1M79 195h1M72 206h1M81 196h1M92 189h1M72 196h1M82 197h1M92 188h1M76 191h1M85 201h1M86 191h1M98 189h1M96 195h1M69 199h1M81 199h1M81 195h1M61 201h1M74 193h1M83 192h1M85 196h1M86 193h1M84 189h1M77 194h1M99 182h1M79 197h1M78 198h1M71 202h1M81 186h1M66 196h1M79 194h1M86 195h1M88 193h1M71 192h1M70 200h1M70 194h1M73 199h1M68 199h1M90 194h1M64 201h1M79 205h1M77 190h1M75 197h1M78 198h1M78 196h1M117 182h1M90 191h1M78 198h1M67 200h1M91 186h1M102 190h1M85 192h1M88 183h1M92 182h1M78 201h1M82 186h1M63 197h1M75 193h1M91 189h1M101 192h1M71 204h1M93 185h1M77 193h1M71 198h1M84 190h1M66 203h1M97 193h1M66 198h1M77 193h1M91 187h1M79 197h1M83 195h1M81 196h1M85 193h1M88 193h1M89 193h1M87 193h1M72 196h1M78 193h1M76 194h1M75 198h1M115 189h1M82 194h1M79 194h1M88 193h1M86 196h1M78 198h1M82 190h1M93 186h1M89 188h1M76 201h1M86 192h1M71 191h1M76 196h1M91 190h1M91 188h1M92 193h1M80 198h1M97 183h1M67 197h1M75 193h1M81 189h1M100 186h1M83 193h1M76 197h1M81 196h1M88 188h1M63 199h1M81 186h1M86 193h1M68 200h1M91 190h1M87 194h1M95 193h1M74 196h1M81 191h1M83 195h1M82 186h1M72 188h1M82 194h1M91 194h1M72 198h1M84 196h1M93 189h1M68 203h1M77 189h1M82 190h1M84 198h1M80 192h1M85 191h1M84 197h1M85 195h1M81 195h1M70 196h1M94 194h1M71 201h1M89 188h1M89 193h1M96 195h1M82 195h1M73 199h1M82 193h1M84 196h1M92 193h1M98 182h1M80 194h1M77 194h1M67 199h1M93 188h1M82 196h1M80 191h1M78 200h1M73 193h1M101 187h1M68 193h1M72 193h1M82 198h1M89 190h1M88 190h1M57 207h1M72 194h1M92 190h1M92 194h1M89 191h1M101 182h1M94 196h1M79 193h1M92 194h1M87 190h1M81 188h1M94 193h1M81 197h1M79 195h1M83 193h1M111 181h1M91 187h1M85 193h1M75 200h1M91 195h1M85 189h1M91 192h1M97 179h1M80 195h1M91 186h1M94 190h1M59 199h1M74 199h1M77 196h1M75 199h1M92 197h1M66 197h1M75 195h1M81 197h1M75 194h1M96 194h1M103 193h1M76 202h1M89 191h1M87 189h1M70 198h1M66 199h1M81 190h1M72 190h1M70 198h1M75 197h1M75 195h1M67 206h1M80 198h1M72 193h1M84 191h1M82 196h1M89 194h1M81 187h1M89 197h1M87 196h1M87 194h1M86 187h1M60 203h1M89 193h1M78 193h1M72 199h1M86 195h1M82 199h1M76 201h1M76 202h1M90 187h1M86 188h1M102 190h1M83 195h1M81 193h1M71 198h1M93 191h1M95 193h1M86 189h1M71 197h1M57 198h1M85 198h1M104 186h1M92 191h1M74 201h1M82 196h1M63 200h1M92 189h1M83 197h1M99 193h1M83 192h1M91 188h1M68 196h1M80 192h1M75 201h1M69 195h1M83 196h1M75 193h1M106 183h1M108 181h1M94 185h1M100 189h1M84 191h1M100 192h1M83 194h1M77 199h1M80 197h1M63 203h1M93 190h1M98 185h1M95 190h1M84 195h1M94 182h1M83 193h1M91 191h1M79 197h1M91 188h1M85 193h1M77 196h1M102 184h1M89 193h1M95 188h1M71 201h1M63 203h1M94 192h1M83 193h1M79 199h1M64 197h1M77 195h1M88 191h1M83 192h1M95 192h1M67 204h1M86 193h1M92 192h1M85 195h1M65 203h1M83 190h1M78 198h1M77 192h1M79 193h1M85 198h1M103 186h1M86 189h1M90 193h1M77 199h1M77 197h1M85 193h1M86 194h1M77 197h1M91 194h1M74 196h1M76 191h1M90 199h1M76 195h1M78 195h1M77 204h1M73 200h1M93 191h1M95 182h1M54 208h1M86 192h1M84 190h1M71 195h1M84 196h1M102 185h1M67 204h1M77 192h1M87 185h1M72 205h1M78 198h1M94 185h1M85 197h1M93 195h1M111 191h1M89 189h1M90 188h1M62 196h1M83 194h1M78 200h1M80 192h1M82 194h1M88 191h1M91 189h1M82 197h1M75 198h1M86 197h1M59 208h1M79 196h1M97 190h1M68 199h1M89 190h1M87 195h1M101 184h1M65 198h1M79 199h1M87 197h1M83 189h1M85 190h1M83 187h1M89 187h1M79 199h1M79 192h1M97 187h1M92 190h1M64 201h1M86 192h1M97 182h1M76 199h1M95 192h1M73 199h1M90 198h1M105 187h1M90 194h1M82 195h1M86 193h1M89 191h1M78 200h1M91 188h1M87 189h1M85 190h1M77 198h1M74 200h1M98 187h1M75 198h1M78 190h1M104 184h1M102 190h1M90 193h1M80 197h1M77 198h1M74 198h1M52 204h1M86 193h1M86 195h1M99 185h1M84 193h1M92 196h1M84 190h1M89 189h1M66 197h1M80 189h1M79 197h1M61 207h1M102 185h1M81 194h1M52 207h1M67 200h1M70 195h1M73 194h1M61 207h1M72 202h1M89 190h1M83 194h1M88 193h1M79 195h1M91 187h1M62 194h1M80 199h1M102 184h1M83 191h1M83 193h1M92 193h1M87 193h1M91 190h1M97 194h1M93 196h1M77 198h1M84 191h1M85 192h1M87 193h1M89 190h1M83 197h1M95 189h1M66 204h1M87 188h1M60 197h1M68 207h1M77 195h1M92 196h1M84 193h1M94 194h1M84 191h1M73 201h1M72 196h1M59 199h1M88 190h1M90 190h1M78 199h1M83 192h1M96 185h1M71 199h1M79 188h1M79 194h1M73 198h1M61 204h1M95 198h1M70 203h1M72 192h1M81 191h1M75 194h1M86 192h1M86 193h1M86 193h1M71 201h1M78 196h1M84 194h1M74 195h1M72 197h1M88 188h1M87 199h1M68 200h1M85 192h1M77 199h1M81 195h1M72 203h1M101 185h1M85 191h1M95 191h1M84 193h1M72 199h1M83 187h1M81 187h1M98 188h1M86 190h1M101 188h1M83 193h1M73 196h1M77 191h1M91 184h1M88 197h1M85 194h1M76 192h1M98 182h1M85 189h1M88 194h1M94 189h1M82 193h1M82 194h1M90 190h1M83 203h1M70 199h1M105 180h1M97 189h1M94 192h1M69 203h1M77 190h1M86 189h1M81 196h1M68 203h1M90 191h1M91 190h1M97 187h1M85 196h1M85 187h1M80 199h1M75 191h1M85 189h1M94 187h1M56 200h1M70 196h1M85 193h1M90 188h1M77 197h1M88 195h1M67 201h1M87 194h1M79 196h1M63 198h1M92 187h1M88 200h1M64 197h1M84 195h1M83 194h1M69 198h1M90 187h1M80 195h1M90 188h1M95 190h1M84 192h1M74 193h1M89 191h1M91 193h1M73 198h1M73 190h1M92 190h1M84 198h1M72 203h1M77 197h1M81 191h1M69 203h1M78 197h1M77 197h1M80 195h1M92 196h1M71 196h1M85 191h1M82 197h1M80 191h1M91 191h1M87 193h1M65 206h1M76 201h1M70 199h1M84 191h1M87 194h1M77 198h1M84 196h1M73 195h1M76 194h1M79 197h1M84 190h1M80 196h1M74 196h1M76 193h1M70 196h1M88 190h1M85 191h1M66 198h1M90 191h1M77 197h1M81 192h1M76 198h1M75 191h1M83 189h1M62 196h1M62 207h1M80 199h1M84 192h1M67 202h1M79 194h1M70 204h1M74 199h1M84 200h1M99 189h1M81 199h1M88 185h1M81 192h1M97 194h1M73 196h1M74 199h1M89 185h1M67 203h1M83 190h1M87 196h1M98 190h1M77 199h1M86 190h1M99 193h1M104 186h1M78 195h1M82 191h1M70 205h1M90 193h1M91 188h1M79 195h1M96 188h1M84 192h1M87 194h1M82 193h1M100 183h1M76 199h1M71 195h1M88 195h1M107 191h1M89 199h1M70 198h1M69 205h1M77 197h1M79 196h1M80 198h1M92 189h1M81 193h1M76 203h1M60 196h1M67 205h1M89 195h1M70 198h1M101 181h1M60 197h1M80 198h1M90 190h1M85 192h1M80 200h1M83 193h1M82 195h1M88 196h1M83 196h1M78 193h1M101 185h1M98 182h1M98 183h1M82 195h1M82 194h1M76 200h1M78 192h1M91 192h1M74 192h1M92 190h1M38 203h1M31 204h1M32 205h1M35 203h1M42 196h1M32 207h1M43 191h1M31 197h1M34 207h1M32 202h1M32 196h1M35 182h1M35 200h1M31 206h1M49 191h1M31 204h1M38 201h1M31 187h1M41 202h1M37 208h1M44 204h1M36 202h1M36 194h1M32 205h1M31 191h1M38 193h1M39 198h1M31 196h1M33 200h1M37 192h1M33 203h1M32 208h1M33 193h1M34 197h1M37 207h1M32 208h1M31 197h1M33 198h1M38 206h1M31 205h1M35 202h1M36 189h1M37 197h1M38 206h1M36 201h1M31 204h1M35 208h1M32 207h1M36 199h1M32 189h1M33 193h1M34 190h1M32 195h1M32 208h1M34 205h1M32 195h1M37 190h1M35 203h1M34 199h1M34 200h1M31 208h1M31 203h1M38 192h1M35 197h1M37 208h1M39 206h1M33 203h1M37 208h1M33 189h1M36 196h1M35 204h1M32 202h1M35 196h1M39 192h1M32 203h1M32 189h1M31 185h1M31 204h1M37 208h1M31 202h1M38 203h1M32 200h1M40 186h1M40 197h1M31 193h1M32 191h1M34 193h1M34 195h1M39 197h1M33 202h1M40 208h1M39 206h1M31 186h1M37 204h1M36 201h1M40 204h1M36 183h1M37 194h1M39 205h1M32 201h1M33 196h1M36 189h1M31 206h1M34 202h1M34 203h1M39 193h1M33 206h1M32 185h1M38 189h1M36 198h1M36 194h1M33 206h1M33 203h1M33 208h1M34 191h1M33 188h1M36 198h1M34 191h1M33 195h1M32 208h1M35 206h1M34 204h1M40 194h1M31 196h1M35 196h1M34 205h1M35 198h1M38 206h1M32 197h1M34 193h1M33 201h1M31 205h1M43 208h1M31 197h1M32 203h1M34 207h1M35 198h1M34 208h1M45 200h1M31 193h1M34 205h1M34 206h1M33 194h1M35 194h1M32 193h1M34 207h1M33 206h1M33 196h1M33 198h1M34 204h1M35 202h1M33 207h1M33 195h1M31 202h1M35 188h1M35 194h1M38 182h1M31 201h1M43 206h1M31 187h1M31 192h1M31 208h1M36 193h1M34 208h1M36 200h1M32 190h1M35 196h1M34 203h1M36 197h1M34 201h1M32 199h1M33 207h1M35 189h1M33 199h1M36 201h1M31 206h1M36 206h1M35 202h1M32 186h1M32 204h1M37 198h1M35 199h1M32 186h1M31 201h1M31 202h1M42 186h1M36 204h1M34 199h1M32 196h1M33 201h1M31 208h1M31 205h1M32 196h1M31 207h1M42 190h1M34 201h1M32 195h1M40 207h1M34 199h1M36 200h1M31 193h1M34 204h1M39 205h1M38 200h1M31 198h1M39 207h1M42 200h1M31 208h1M35 197h1M39 204h1M36 205h1M34 199h1M33 199h1M40 190h1M31 204h1M36 198h1M36 190h1M40 191h1M34 208h1M31 198h1M31 204h1M31 202h1M31 201h1M32 194h1M40 206h1M31 207h1M33 196h1M32 181h1M37 201h1M38 207h1M32 206h1M31 179h1M36 184h1M36 205h1M37 189h1M33 203h1M34 201h1M35 188h1M36 196h1M32 190h1M31 185h1M32 202h1M34 203h1M37 202h1M34 200h1M35 204h1M33 204h1M35 203h1M31 202h1M37 201h1M34 206h1M31 189h1M31 200h1M35 208h1M32 190h1M34 205h1M42 203h1M34 204h1M44 202h1M39 197h1M33 196h1M35 205h1M31 201h1M32 208h1M31 203h1M33 208h1M34 204h1M34 198h1M31 200h1M33 201h1M33 205h1M32 199h1M35 193h1M38 196h1M33 194h1M32 204h1M34 204h1M38 205h1M33 195h1M40 197h1M38 203h1M36 191h1M31 205h1M36 203h1M39 193h1M31 204h1M39 198h1M33 202h1M33 203h1M33 203h1M36 196h1M32 201h1M33 198h1M36 203h1M33 197h1M36 205h1M32 208h1M31 199h1M37 206h1M39 182h1M37 203h1M51 208h1M34 200h1M41 206h1M33 208h1M38 199h1M35 184h1M32 200h1M36 206h1M33 193h1M38 205h1M33 197h1M32 203h1M34 189h1M31 204h1M32 198h1M33 192h1M36 204h1M36 205h1M31 206h1M34 194h1M35 206h1M36 208h1M32 195h1M33 207h1M38 205h1M34 200h1M31 205h1M38 203h1M33 192h1M36 186h1M40 185h1M36 204h1M32 197h1M31 193h1M33 206h1M32 199h1M40 204h1M36 208h1M36 203h1M36 207h1M33 207h1M32 208h1M35 189h1M38 178h1M33 188h1M36 194h1M31 208h1M32 197h1M39 191h1M36 208h1M38 196h1M31 205h1M35 198h1M32 203h1M37 208h1M40 192h1M32 208h1M34 201h1M36 205h1M39 194h1M41 199h1M33 203h1M38 206h1M32 208h1M31 198h1M31 193h1M32 201h1M35 199h1M38 196h1M31 199h1M32 205h1M31 193h1M40 204h1M35 203h1M39 194h1M32 206h1M37 206h1M34 200h1M35 197h1M38 205h1M32 205h1M31 196h1M37 197h1M38 189h1M31 187h1M35 207h1M35 191h1M35 198h1M33 197h1M33 208h1M38 201h1M37 199h1M36 194h1M32 203h1M37 203h1M40 192h1M35 204h1M33 200h1M35 191h1M33 206h1M34 200h1M33 197h1M40 204h1M32 208h1M40 202h1M37 202h1M32 200h1M32 207h1M37 201h1M37 203h1M41 204h1M33 205h1M31 202h1M35 201h1M37 195h1M36 188h1M33 205h1M34 203h1M35 203h1M35 196h1M37 207h1M32 203h1M37 198h1M33 198h1M38 197h1M34 195h1M38 204h1M34 196h1M39 201h1M34 202h1M38 203h1M34 196h1M33 207h1M33 196h1M33 206h1M34 195h1M35 207h1M38 202h1M34 203h1M41 201h1M37 200h1M34 199h1M31 202h1M31 205h1M33 201h1M31 208h1M34 200h1M35 203h1M36 202h1M34 207h1M31 204h1M33 190h1M36 204h1M31 199h1M34 188h1M44 188h1M32 191h1M33 200h1M35 186h1M36 194h1M39 196h1M32 207h1M32 204h1M36 203h1M33 206h1M33 202h1M37 207h1M33 185h1M34 207h1M35 198h1M31 202h1M35 196h1M31 202h1M35 202h1M34 205h1M34 207h1M37 199h1M31 200h1M37 187h1M31 201h1M32 205h1M32 192h1M34 203h1M43 208h1M33 191h1M34 198h1M33 203h1M34 182h1M31 199h1M33 187h1M31 206h1M38 197h1M36 208h1M42 206h1M31 195h1M36 198h1M33 208h1M31 208h1M31 194h1M31 180h1M41 204h1M31 201h1M42 192h1M31 199h1M42 205h1M32 197h1M36 190h1M36 208h1M33 208h1M35 195h1M31 198h1M37 204h1M40 200h1M39 201h1M33 201h1M36 174h1M31 194h1M40 203h1M39 183h1M35 196h1M31 207h1M32 198h1M35 206h1M44 199h1M31 207h1M33 195h1M32 196h1M36 205h1M34 204h1M31 196h1M38 193h1M39 184h1M35 200h1M38 195h1M34 189h1M36 194h1M32 206h1M34 186h1M31 187h1M33 195h1M31 196h1M34 187h1M34 187h1M31 190h1M32 206h1M31 208h1M32 204h1M41 206h1M40 205h1M37 205h1M31 203h1M34 206h1M31 202h1M35 197h1M32 205h1M32 200h1M39 202h1M32 206h1M34 201h1M38 204h1M36 207h1M34 186h1M35 201h1M37 192h1M36 203h1M36 200h1M34 186h1M34 204h1M37 201h1M31 208h1M31 207h1M35 204h1M37 190h1M36 199h1M35 206h1M33 196h1M35 205h1M36 195h1M40 207h1M40 202h1M35 207h1M35 202h1M31 192h1M33 195h1M34 203h1M31 203h1M33 202h1M39 186h1M31 187h1M33 201h1M35 207h1M31 208h1M31 184h1M42 203h1M32 200h1M31 200h1M39 208h1M32 204h1M33 182h1M32 204h1M34 208h1M33 205h1M33 204h1M43 202h1M37 203h1M35 183h1M34 201h1M32 204h1M39 204h1M31 206h1M37 207h1M31 197h1M36 206h1M36 206h1M32 193h1M33 207h1M32 200h1M31 202h1M33 200h1M35 208h1M33 187h1M36 205h1M34 199h1M31 207h1M34 199h1M32 202h1M36 201h1M35 207h1M34 194h1M37 203h1M31 192h1M32 198h1M31 205h1M33 201h1M39 208h1M34 199h1M45 204h1M32 203h1M34 204h1M33 194h1M37 197h1M42 205h1M35 202h1M33 186h1M33 196h1M32 198h1M38 208h1M31 198h1M31 206h1M37 198h1M41 196h1M38 192h1M35 192h1M31 205h1M43 202h1M33 197h1M33 205h1M33 195h1M37 201h1M34 198h1M31 200h1M40 186h1M40 208h1M31 189h1M31 203h1M33 200h1M34 205h1M32 208h1M49 195h1M34 204h1M33 198h1M40 208h1M33 201h1M37 202h1M31 196h1M34 187h1M42 205h1M31 203h1M33 196h1M33 203h1M33 192h1M35 201h1M36 202h1M35 207h1M33 197h1M32 194h1M32 206h1M41 204h1M36 203h1M31 185h1M35 205h1M34 197h1M31 204h1M33 208h1M39 192h1M32 202h1M32 193h1M33 196h1M32 205h1M34 196h1M33 202h1M31 191h1M32 195h1M36 208h1M39 196h1M37 205h1M32 203h1M40 199h1M37 204h1M31 208h1M35 208h1M35 201h1M31 194h1M32 208h1M37 201h1M31 199h1M37 199h1M38 192h1M34 198h1M32 204h1M37 187h1M31 189h1M34 200h1M38 202h1M35 206h1M31 189h1M32 204h1M31 199h1M32 203h1M32 207h1M31 206h1M35 208h1M33 200h1M32 204h1M32 202h1M32 191h1M33 194h1M34 207h1M31 202h1M33 204h1M36 193h1M33 205h1M31 203h1M31 194h1M36 197h1M36 208h1M31 208h1M34 202h1M34 205h1M33 200h1M36 199h1M42 201h1M36 205h1M36 205h1M37 202h1M31 197h1M35 204h1M35 205h1M35 196h1M33 204h1M38 203h1M33 202h1M33 208h1M37 189h1M35 204h1M32 206h1M38 208h1M42 200h1M31 189h1M35 198h1M40 207h1M35 205h1M34 207h1M42 207h1M39 198h1M34 192h1M31 205h1M33 199h1M36 208h1M33 199h1M34 200h1M42 206h1M31 202h1M32 199h1M34 206h1M35 202h1M33 205h1M32 177h1M32 198h1M33 190h1M37 206h1M32 205h1M31 201h1M32 203h1M34 205h1M34 207h1M31 202h1M36 202h1M38 193h1M59 204h1M39 208h1M42 206h1M41 197h1M47 205h1M63 199h1M61 200h1M44 204h1M41 201h1M42 207h1M62 196h1M41 199h1M45 191h1M47 207h1M43 200h1M41 207h1M46 206h1M40 203h1M52 200h1M61 201h1M41 202h1M45 205h1M50 197h1M50 204h1M41 201h1M40 205h1M57 197h1M61 204h1M53 201h1M50 200h1M41 196h1M38 207h1M55 201h1M57 186h1M43 200h1M53 203h1M62 207h1M49 204h1M44 184h1M51 203h1M41 204h1M51 196h1M42 207h1M57 197h1M42 207h1M38 206h1M53 202h1M62 194h1M47 208h1M43 208h1M47 193h1M39 197h1M52 195h1M63 190h1M63 204h1M42 208h1M49 206h1M52 193h1M55 192h1M47 200h1M40 198h1M44 208h1M48 197h1M44 200h1M41 202h1M51 195h1M38 208h1M53 206h1M51 208h1M54 200h1M46 194h1M61 201h1M42 202h1M39 197h1M58 204h1M52 206h1M60 190h1M43 206h1M58 199h1M61 193h1M44 208h1M39 203h1M38 208h1M52 207h1M50 202h1M45 201h1M59 206h1M61 199h1M58 207h1M42 196h1M62 207h1M50 206h1M50 201h1M38 205h1M57 204h1M59 204h1M46 206h1M38 205h1M55 205h1M57 208h1M56 202h1M63 204h1M60 197h1M61 206h1M50 196h1M47 207h1M63 199h1M53 206h1M45 204h1M59 208h1M42 192h1M56 208h1M52 208h1M43 201h1M49 207h1M43 207h1M62 203h1M56 205h1M59 205h1M39 200h1M54 200h1M56 206h1M46 193h1M56 201h1M58 208h1M49 200h1M61 203h1M61 207h1M43 205h1M47 204h1M48 207h1M56 195h1M42 201h1M39 193h1M59 201h1M61 207h1M63 196h1M38 199h1M49 207h1M54 206h1M40 203h1M49 202h1M56 197h1M60 205h1M60 203h1M61 207h1M58 201h1M42 207h1M58 207h1M38 206h1M46 202h1M42 196h1M57 206h1M54 201h1M42 202h1M56 194h1M40 208h1M62 197h1M57 207h1M47 207h1M46 201h1M43 208h1M52 200h1M60 203h1M47 200h1M56 202h1M58 200h1M60 204h1M44 205h1M50 204h1M58 205h1M46 204h1M43 196h1M40 198h1M54 208h1M54 204h1M59 199h1M40 202h1M57 208h1M39 203h1M38 199h1M39 200h1M50 205h1M54 202h1M48 191h1M60 208h1M47 207h1M61 203h1M57 192h1M55 200h1M41 208h1M57 207h1M56 204h1M49 201h1M60 204h1M38 199h1M56 201h1M50 206h1M40 204h1M53 194h1" stroke="#000" stroke-width="1" transform="translate(0,0.5)"/>
<rect x="23.5" y="100.5" width="120.0" height="110.5" fill="none" stroke="#333" stroke-width="1"/>
<polygon points="101.2,141.5 139.2,175 111.5,198.8 48.5,207.3 45,196" fill="none" stroke="#444" stroke-width="0.8"/>
<text x="125.6" y="200.2" font-size="11" font-weight="bold" text-anchor="start" fill="#000" stroke="#000" stroke-width="0.3" textLength="13" lengthAdjust="spacingAndGlyphs">R1</text>
<path d="M21.3 211.0h2.2M21.3 205.5h2.2M21.3 199.9h2.2M21.3 194.4h2.2M21.3 188.9h2.2M21.3 183.4h2.2M21.3 177.8h2.2M21.3 172.3h2.2M21.3 166.8h2.2M21.3 161.3h2.2M21.3 155.8h2.2M21.3 150.2h2.2M21.3 144.7h2.2M21.3 139.2h2.2M21.3 133.7h2.2M21.3 128.1h2.2M21.3 122.6h2.2M21.3 117.1h2.2M21.3 111.5h2.2M21.3 106.0h2.2M21.3 100.5h2.2M23.5 211.0v2.2M29.5 211.0v1.4M35.5 211.0v1.4M41.5 211.0v1.4M47.5 211.0v1.4M53.5 211.0v2.2M59.5 211.0v1.4M65.5 211.0v1.4M71.5 211.0v1.4M77.5 211.0v1.4M83.5 211.0v2.2M89.5 211.0v1.4M95.5 211.0v1.4M101.5 211.0v1.4M107.5 211.0v1.4M113.5 211.0v2.2M119.5 211.0v1.4M125.5 211.0v1.4M131.5 211.0v1.4M137.5 211.0v1.4M143.5 211.0v2.2" stroke="#333" stroke-width="0.6"/>
<text x="19.4" y="107" font-size="7" font-weight="normal" text-anchor="middle" fill="#000" stroke="#000" stroke-width="0.15" transform="rotate(-90 19.4 107)">1000</text>
<text x="17.9" y="211" font-size="7" font-weight="normal" text-anchor="middle" fill="#000" stroke="#000" stroke-width="0.15" transform="rotate(-90 17.9 211)">0</text>
<text x="24.3" y="222.7" font-size="7" font-weight="normal" text-anchor="middle" fill="#000" stroke="#000" stroke-width="0.15">0</text>
<text x="137.4" y="222.7" font-size="7" font-weight="normal" text-anchor="middle" fill="#000" stroke="#000" stroke-width="0.15" textLength="16.4" lengthAdjust="spacingAndGlyphs">1000</text>
<text x="11.8" y="155.5" font-size="12.5" font-weight="bold" text-anchor="middle" fill="#000" stroke="#000" stroke-width="0.3" transform="rotate(-90 11.8 155.5)" textLength="24.5" lengthAdjust="spacingAndGlyphs">SSC</text>
<text x="86.8" y="232.7" font-size="12" font-weight="bold" text-anchor="middle" fill="#000" stroke="#000" stroke-width="0.3" textLength="21.8" lengthAdjust="spacingAndGlyphs">FSC</text>
<rect x="188.8" y="99.6" width="121.19999999999999" height="108.4" fill="none" stroke="#555" stroke-width="0.9"/>
<path d="M187.5 205.3h1.3M187.5 202.6h1.3M187.5 199.9h1.3M187.5 197.2h1.3M186.8 194.4h2M187.5 191.7h1.3M187.5 189.0h1.3M187.5 186.3h1.3M187.5 183.6h1.3M186.8 180.9h2M187.5 178.2h1.3M187.5 175.5h1.3M187.5 172.8h1.3M187.5 170.1h1.3M186.8 167.3h2M187.5 164.6h1.3M187.5 161.9h1.3M187.5 159.2h1.3M187.5 156.5h1.3M186.8 153.8h2M187.5 151.1h1.3M187.5 148.4h1.3M187.5 145.7h1.3M187.5 143.0h1.3M186.8 140.2h2M187.5 137.5h1.3M187.5 134.8h1.3M187.5 132.1h1.3M187.5 129.4h1.3M186.8 126.7h2M187.5 124.0h1.3M187.5 121.3h1.3M187.5 118.6h1.3M187.5 115.9h1.3M186.8 113.2h2M187.5 110.4h1.3M187.5 107.7h1.3M187.5 105.0h1.3M187.5 102.3h1.3M188.8 208.0v2M197.9 208.0v1M203.3 208.0v1M207.0 208.0v1M210.0 208.0v1M212.4 208.0v1M214.4 208.0v1M216.2 208.0v1M217.7 208.0v1M219.1 208.0v2M228.2 208.0v1M233.6 208.0v1M237.3 208.0v1M240.3 208.0v1M242.7 208.0v1M244.7 208.0v1M246.5 208.0v1M248.0 208.0v1M249.4 208.0v2M258.5 208.0v1M263.9 208.0v1M267.6 208.0v1M270.6 208.0v1M273.0 208.0v1M275.0 208.0v1M276.8 208.0v1M278.3 208.0v1M279.7 208.0v2M288.8 208.0v1M294.2 208.0v1M297.9 208.0v1M300.9 208.0v1M303.3 208.0v1M305.3 208.0v1M307.1 208.0v1M308.6 208.0v1M310.0 208.0v2" stroke="#444" stroke-width="0.6"/>
<line x1="188.8" y1="99.6" x2="188.8" y2="208.0" stroke="#444" stroke-width="1"/>
<polyline points="206.0,207.7 206.6,208.0 207.2,206.9 207.8,207.9 208.4,207.1 209.0,207.0 209.6,208.0 210.2,207.0 210.8,206.6 211.4,206.9 212.0,206.9 212.6,205.9 213.2,206.1 213.8,204.9 214.4,205.0 215.0,204.6 215.6,201.5 216.3,199.0 216.9,196.4 217.5,195.7 218.1,193.5 218.7,191.1 219.3,189.5 219.9,185.0 220.5,184.8 221.1,183.1 221.7,181.9 222.3,176.7 222.9,175.7 223.5,170.8 224.1,172.2 224.7,167.0 225.3,167.0 225.9,170.9 226.5,161.9 227.1,167.0 227.7,164.4 228.3,161.3 228.9,161.5 229.5,160.1 230.1,159.7 230.7,154.4 231.3,151.3 231.9,149.1 232.5,146.0 233.1,146.4 233.7,142.2 234.3,145.3 234.9,134.8 235.5,135.5 236.2,134.4 236.8,129.6 237.4,140.1 238.0,125.6 238.6,130.6 239.2,127.6 239.8,131.8 240.4,117.6 241.0,124.9 241.6,116.4 242.2,117.8 242.8,120.5 243.4,129.1 244.0,128.0 244.6,135.6 245.2,140.5 245.8,146.9 246.4,137.2 247.0,150.3 247.6,150.9 248.2,149.3 248.8,153.6 249.4,154.4 250.0,162.5 250.6,161.8 251.2,163.6 251.8,166.4 252.4,169.3 253.0,171.8 253.6,172.8 254.2,181.0 254.8,175.8 255.5,174.8 256.1,182.9 256.7,184.7 257.3,187.4 257.9,188.3 258.5,190.2 259.1,192.7 259.7,195.3 260.3,194.9 260.9,195.9 261.5,199.5 262.1,198.7 262.7,198.0 263.3,202.2 263.9,201.6 264.5,201.2 265.1,201.6 265.7,203.1 266.3,202.5 266.9,202.7 267.5,202.8 268.1,203.7 268.7,205.1 269.3,204.4 269.9,204.1 270.5,205.5 271.1,205.2 271.7,205.8 272.3,206.1 272.9,205.4 273.5,205.5 274.1,205.7 274.7,205.1 275.4,206.3 276.0,206.8 276.6,206.2 277.2,206.1 277.8,206.2 278.4,206.0 279.0,206.1 279.6,206.4 280.2,206.2 280.8,206.6 281.4,206.0 282.0,207.3 282.6,207.2 283.2,206.6 283.8,206.0 284.4,207.5 285.0,208.0" fill="none" stroke="#222" stroke-width="1.05" stroke-dasharray="1.6 0.7"/>
<polyline points="205.0,207.6 205.9,207.8 206.8,207.1 207.7,207.5 208.6,207.8 209.5,207.3 210.4,208.0 211.3,206.1 212.2,206.7 213.1,205.9 214.0,205.7 214.9,206.0 215.8,206.3 216.7,206.3 217.6,206.3 218.5,208.0 219.4,206.4 220.3,203.5 221.2,205.4 222.1,204.3 223.0,204.1 223.9,206.2 224.8,203.8 225.7,200.9 226.6,203.8 227.5,202.5 228.4,200.7 229.3,200.7 230.2,200.8 231.2,201.5 232.1,200.4 233.0,201.0 233.9,204.0 234.8,198.5 235.7,197.7 236.6,197.9 237.5,200.0 238.4,195.0 239.3,199.3 240.2,191.5 241.1,191.2 242.0,192.9 242.9,190.0 243.8,190.3 244.7,193.0 245.6,193.5 246.5,191.5 247.4,190.1 248.3,194.5 249.2,191.5 250.1,189.2 251.0,192.8 251.9,185.4 252.8,187.9 253.7,188.7 254.6,185.7 255.5,182.9 256.4,185.2 257.3,181.3 258.2,180.4 259.1,178.2 260.0,185.9 260.9,178.5 261.8,184.1 262.7,180.6 263.6,177.5 264.5,180.4 265.4,178.3 266.3,177.2 267.2,170.7 268.1,175.9 269.0,178.7 269.9,176.5 270.8,178.1 271.7,179.6 272.6,174.6 273.5,180.3 274.4,164.8 275.3,169.3 276.2,158.5 277.1,172.3 278.0,168.2 278.9,174.6 279.8,164.5 280.7,155.5 281.6,169.3 282.5,155.5 283.5,154.4 284.4,158.3 285.3,161.1 286.2,152.5 287.1,146.7 288.0,146.0 288.9,166.3 289.8,159.2 290.7,161.2 291.6,164.4 292.5,163.3 293.4,164.3 294.3,160.0 295.2,164.7 296.1,168.1 297.0,171.7 297.9,167.3 298.8,169.2 299.7,171.1 300.6,173.0 301.5,172.4 302.4,171.3 303.3,171.2 304.2,178.8 305.1,176.5 306.0,178.4 306.9,193.9 307.8,187.3 308.7,190.0 309.6,190.5" fill="none" stroke="#000" stroke-width="1.7"/>
<line x1="309.6" y1="126" x2="309.6" y2="192" stroke="#000" stroke-width="1.6"/>
<line x1="174" y1="227.5" x2="174" y2="110.5" stroke="#222" stroke-width="1.4"/>
<polygon points="174.00,100.50 170.00,111.50 178.00,111.50" fill="#222" stroke="none" stroke-width="1"/>
<line x1="173.3" y1="226.8" x2="302.3" y2="226.8" stroke="#222" stroke-width="1.4"/>
<polygon points="312.30,226.80 301.30,223.20 301.30,230.40" fill="#222" stroke="none" stroke-width="1"/>
<text x="166.4" y="160.0" font-size="11.7" font-weight="bold" text-anchor="middle" fill="#000" stroke="#000" stroke-width="0.3" transform="rotate(-90 166.4 160.0)" textLength="113" lengthAdjust="spacingAndGlyphs">Relative cell number</text>
<text x="245" y="240.4" font-size="11.5" font-weight="bold" text-anchor="middle" fill="#000" stroke="#000" stroke-width="0.3" textLength="50.4" lengthAdjust="spacingAndGlyphs">Aldefluor</text>
<text x="192.6" y="219.6" font-size="7.4" text-anchor="middle" stroke="#000" stroke-width="0.35">10<tspan font-size="5.6" dy="-3.3">0</tspan></text>
<text x="221.6" y="219.6" font-size="7.4" text-anchor="middle" stroke="#000" stroke-width="0.35">10<tspan font-size="5.6" dy="-3.3">1</tspan></text>
<text x="250.6" y="219.6" font-size="7.4" text-anchor="middle" stroke="#000" stroke-width="0.35">10<tspan font-size="5.6" dy="-3.3">2</tspan></text>
<text x="279.6" y="219.6" font-size="7.4" text-anchor="middle" stroke="#000" stroke-width="0.35">10<tspan font-size="5.6" dy="-3.3">3</tspan></text>
<text x="308.6" y="219.6" font-size="7.4" text-anchor="middle" stroke="#000" stroke-width="0.35">10<tspan font-size="5.6" dy="-3.3">4</tspan></text>
<text x="263.3" y="120.5" font-size="9.2" font-weight="bold" text-anchor="start" fill="#000" stroke="#000" stroke-width="0.3" textLength="18" lengthAdjust="spacingAndGlyphs">Low</text>
<text x="288.3" y="120.5" font-size="9.2" font-weight="bold" text-anchor="start" fill="#000" stroke="#000" stroke-width="0.3" textLength="21" lengthAdjust="spacingAndGlyphs">High</text>
<line x1="263.8" y1="128.8" x2="281.2" y2="128.8" stroke="#222" stroke-width="1.3"/>
<line x1="263.8" y1="125.6" x2="263.8" y2="132.4" stroke="#222" stroke-width="1.3"/>
<line x1="281.2" y1="125.6" x2="281.2" y2="132.4" stroke="#222" stroke-width="1.3"/>
<line x1="290.8" y1="128.8" x2="309.6" y2="128.8" stroke="#222" stroke-width="1.3"/>
<line x1="290.8" y1="125.6" x2="290.8" y2="132.4" stroke="#222" stroke-width="1.3"/>
<rect x="385.8" y="4.2" width="118.80000000000001" height="106.39999999999999" fill="none" stroke="#555" stroke-width="0.9"/>
<path d="M384.5 107.9h1.3M384.5 105.3h1.3M384.5 102.6h1.3M384.5 100.0h1.3M383.8 97.3h2M384.5 94.6h1.3M384.5 92.0h1.3M384.5 89.3h1.3M384.5 86.7h1.3M383.8 84.0h2M384.5 81.3h1.3M384.5 78.7h1.3M384.5 76.0h1.3M384.5 73.4h1.3M383.8 70.7h2M384.5 68.0h1.3M384.5 65.4h1.3M384.5 62.7h1.3M384.5 60.1h1.3M383.8 57.4h2M384.5 54.7h1.3M384.5 52.1h1.3M384.5 49.4h1.3M384.5 46.8h1.3M383.8 44.1h2M384.5 41.4h1.3M384.5 38.8h1.3M384.5 36.1h1.3M384.5 33.5h1.3M383.8 30.8h2M384.5 28.1h1.3M384.5 25.5h1.3M384.5 22.8h1.3M384.5 20.2h1.3M383.8 17.5h2M384.5 14.8h1.3M384.5 12.2h1.3M384.5 9.5h1.3M384.5 6.9h1.3M385.8 110.6v2M394.7 110.6v1M400.0 110.6v1M403.7 110.6v1M406.6 110.6v1M408.9 110.6v1M410.9 110.6v1M412.6 110.6v1M414.1 110.6v1M415.5 110.6v2M424.4 110.6v1M429.7 110.6v1M433.4 110.6v1M436.3 110.6v1M438.6 110.6v1M440.6 110.6v1M442.3 110.6v1M443.8 110.6v1M445.2 110.6v2M454.1 110.6v1M459.4 110.6v1M463.1 110.6v1M466.0 110.6v1M468.3 110.6v1M470.3 110.6v1M472.0 110.6v1M473.5 110.6v1M474.9 110.6v2M483.8 110.6v1M489.1 110.6v1M492.8 110.6v1M495.7 110.6v1M498.0 110.6v1M500.0 110.6v1M501.7 110.6v1M503.2 110.6v1M504.6 110.6v2" stroke="#444" stroke-width="0.6"/>
<line x1="385.8" y1="4.2" x2="385.8" y2="110.6" stroke="#444" stroke-width="1"/>
<rect x="385.8" y="132.8" width="118.80000000000001" height="106.89999999999998" fill="none" stroke="#555" stroke-width="0.9"/>
<path d="M384.5 237.0h1.3M384.5 234.4h1.3M384.5 231.7h1.3M384.5 229.0h1.3M383.8 226.3h2M384.5 223.7h1.3M384.5 221.0h1.3M384.5 218.3h1.3M384.5 215.6h1.3M383.8 213.0h2M384.5 210.3h1.3M384.5 207.6h1.3M384.5 205.0h1.3M384.5 202.3h1.3M383.8 199.6h2M384.5 196.9h1.3M384.5 194.3h1.3M384.5 191.6h1.3M384.5 188.9h1.3M383.8 186.2h2M384.5 183.6h1.3M384.5 180.9h1.3M384.5 178.2h1.3M384.5 175.6h1.3M383.8 172.9h2M384.5 170.2h1.3M384.5 167.5h1.3M384.5 164.9h1.3M384.5 162.2h1.3M383.8 159.5h2M384.5 156.9h1.3M384.5 154.2h1.3M384.5 151.5h1.3M384.5 148.8h1.3M383.8 146.2h2M384.5 143.5h1.3M384.5 140.8h1.3M384.5 138.1h1.3M384.5 135.5h1.3M385.8 239.7v2M394.7 239.7v1M400.0 239.7v1M403.7 239.7v1M406.6 239.7v1M408.9 239.7v1M410.9 239.7v1M412.6 239.7v1M414.1 239.7v1M415.5 239.7v2M424.4 239.7v1M429.7 239.7v1M433.4 239.7v1M436.3 239.7v1M438.6 239.7v1M440.6 239.7v1M442.3 239.7v1M443.8 239.7v1M445.2 239.7v2M454.1 239.7v1M459.4 239.7v1M463.1 239.7v1M466.0 239.7v1M468.3 239.7v1M470.3 239.7v1M472.0 239.7v1M473.5 239.7v1M474.9 239.7v2M483.8 239.7v1M489.1 239.7v1M492.8 239.7v1M495.7 239.7v1M498.0 239.7v1M500.0 239.7v1M501.7 239.7v1M503.2 239.7v1M504.6 239.7v2" stroke="#444" stroke-width="0.6"/>
<line x1="385.8" y1="132.8" x2="385.8" y2="239.7" stroke="#444" stroke-width="1"/>
<polyline points="405.0,109.6 405.6,109.5 406.2,110.6 406.8,108.7 407.4,110.0 408.0,108.6 408.6,110.6 409.2,110.0 409.8,110.6 410.4,109.4 411.0,109.9 411.6,109.4 412.2,109.1 412.8,109.0 413.4,107.0 414.0,106.4 414.6,106.1 415.2,104.5 415.8,102.9 416.4,104.4 417.0,101.4 417.6,99.8 418.2,99.7 418.8,98.0 419.4,97.2 420.0,96.4 420.6,98.6 421.2,95.0 421.8,94.1 422.4,93.6 423.1,94.5 423.7,89.8 424.3,88.0 424.9,91.9 425.5,84.1 426.1,84.7 426.7,85.1 427.3,86.6 427.9,78.9 428.5,74.3 429.1,78.8 429.7,74.8 430.3,73.4 430.9,73.4 431.5,71.1 432.1,69.4 432.7,66.0 433.3,68.2 433.9,66.5 434.5,59.1 435.1,53.9 435.7,53.1 436.3,48.5 436.9,39.0 437.5,35.5 438.1,36.2 438.7,35.7 439.3,38.0 439.9,42.6 440.5,42.9 441.1,43.6 441.7,38.7 442.3,49.8 442.9,46.6 443.5,45.1 444.1,51.7 444.7,52.3 445.3,55.9 445.9,62.7 446.5,68.7 447.1,66.1 447.7,70.1 448.3,73.0 448.9,67.3 449.5,70.1 450.1,74.4 450.7,70.3 451.3,74.6 451.9,79.0 452.5,79.7 453.1,79.9 453.7,76.3 454.3,85.6 454.9,83.4 455.5,85.0 456.1,85.7 456.7,83.0 457.3,84.8 457.9,86.7 458.6,93.3 459.2,90.6 459.8,93.2 460.4,94.8 461.0,97.5 461.6,98.7 462.2,99.6 462.8,99.1 463.4,98.5 464.0,103.1 464.6,104.4 465.2,106.3 465.8,106.5 466.4,107.2 467.0,108.1 467.6,107.2 468.2,107.8 468.8,108.2 469.4,109.2 470.0,110.6 470.6,110.1 471.2,110.6 471.8,110.2 472.4,110.2 473.0,109.8 473.6,110.0 474.2,108.7 474.8,109.5 475.4,109.5 476.0,110.6" fill="none" stroke="#222" stroke-width="1.05" stroke-dasharray="1.6 0.7"/>
<polyline points="386.5,110.3 387.4,108.9 388.3,109.5 389.2,109.9 390.1,110.6 391.0,109.8 391.9,108.8 392.8,110.0 393.8,108.9 394.7,110.5 395.6,109.5 396.5,110.6 397.4,109.5 398.3,108.8 399.2,108.5 400.1,109.2 401.0,109.8 401.9,110.3 402.8,109.6 403.7,108.7 404.6,109.7 405.5,108.0 406.5,109.6 407.4,108.5 408.3,110.4 409.2,109.9 410.1,109.3 411.0,108.0 411.9,109.4 412.8,109.2 413.7,108.3 414.6,108.2 415.5,109.9 416.4,108.0 417.3,108.7 418.2,109.5 419.1,105.9 420.1,109.7 421.0,108.6 421.9,106.2 422.8,105.5 423.7,104.9 424.6,107.7 425.5,102.2 426.4,107.2 427.3,105.7 428.2,103.9 429.1,103.8 430.0,103.7 430.9,103.6 431.8,105.3 432.8,101.8 433.7,105.1 434.6,104.6 435.5,101.9 436.4,103.4 437.3,100.8 438.2,101.8 439.1,102.5 440.0,105.4 440.9,100.9 441.8,100.5 442.7,100.6 443.6,99.9 444.5,97.7 445.4,104.0 446.4,97.6 447.3,97.1 448.2,96.1 449.1,99.0 450.0,104.4 450.9,104.2 451.8,98.2 452.7,95.8 453.6,93.8 454.5,90.0 455.4,94.3 456.3,90.9 457.2,96.9 458.1,88.8 459.1,86.0 460.0,82.7 460.9,82.4 461.8,89.9 462.7,88.6 463.6,83.4 464.5,82.0 465.4,88.0 466.3,85.6 467.2,87.5 468.1,86.5 469.0,83.7 469.9,80.2 470.8,86.3 471.8,85.7 472.7,85.6 473.6,87.9 474.5,87.4 475.4,81.8 476.3,85.3 477.2,74.6 478.1,85.0 479.0,82.1 479.9,85.9 480.8,85.7 481.7,78.2 482.6,81.2 483.5,85.8 484.4,79.3 485.4,82.0 486.3,80.7 487.2,86.3 488.1,86.4 489.0,83.6 489.9,82.2 490.8,80.3 491.7,91.3 492.6,87.7 493.5,87.6 494.4,89.7 495.3,90.4 496.2,96.9 497.1,98.4 498.1,93.1 499.0,100.2 499.9,101.7 500.8,102.0 501.7,104.1 502.6,107.9 503.5,106.8 504.4,109.0" fill="none" stroke="#000" stroke-width="1.7"/>
<polyline points="408.0,239.1 408.6,239.5 409.2,238.9 409.8,238.8 410.4,238.3 411.0,238.6 411.6,239.3 412.2,238.8 412.8,239.0 413.4,238.4 414.0,238.4 414.6,238.2 415.2,236.8 415.8,237.7 416.5,236.9 417.1,236.3 417.7,234.1 418.3,233.4 418.9,233.4 419.5,233.1 420.1,233.2 420.7,232.3 421.3,232.2 421.9,230.3 422.5,230.5 423.1,229.9 423.7,227.9 424.3,230.0 424.9,227.9 425.5,228.0 426.1,224.9 426.7,222.3 427.3,220.0 427.9,217.5 428.5,216.0 429.1,212.5 429.7,208.4 430.3,204.5 430.9,202.5 431.5,203.4 432.2,196.1 432.8,195.7 433.4,193.4 434.0,185.5 434.6,185.7 435.2,185.5 435.8,172.8 436.4,173.6 437.0,169.5 437.6,162.7 438.2,163.2 438.8,160.2 439.4,154.6 440.0,160.6 440.6,160.0 441.2,160.7 441.8,162.1 442.4,159.9 443.0,161.1 443.6,158.6 444.2,169.1 444.8,171.0 445.4,176.9 446.0,180.3 446.6,185.1 447.2,189.5 447.8,197.1 448.5,192.6 449.1,197.3 449.7,204.2 450.3,209.2 450.9,209.2 451.5,206.3 452.1,207.1 452.7,214.2 453.3,214.1 453.9,215.3 454.5,220.5 455.1,222.4 455.7,222.1 456.3,223.5 456.9,224.9 457.5,227.6 458.1,227.5 458.7,228.6 459.3,229.8 459.9,228.7 460.5,232.3 461.1,232.6 461.7,232.7 462.3,231.0 462.9,232.9 463.5,234.7 464.2,233.2 464.8,235.1 465.4,236.6 466.0,235.6 466.6,238.0 467.2,238.0 467.8,238.0 468.4,238.4 469.0,238.8 469.6,238.7 470.2,239.5 470.8,238.6 471.4,238.9 472.0,239.7" fill="none" stroke="#222" stroke-width="1.05" stroke-dasharray="1.6 0.7"/>
<polyline points="386.5,238.7 387.4,239.7 388.3,239.2 389.2,239.2 390.1,238.9 391.0,238.7 391.9,238.9 392.8,238.4 393.8,237.9 394.7,237.8 395.6,237.6 396.5,238.6 397.4,238.8 398.3,239.6 399.2,238.7 400.1,238.6 401.0,238.8 401.9,238.3 402.8,236.9 403.7,239.1 404.6,237.9 405.5,238.4 406.5,238.1 407.4,239.7 408.3,239.1 409.2,238.5 410.1,237.3 411.0,238.9 411.9,237.5 412.8,239.1 413.7,236.9 414.6,238.1 415.5,238.9 416.4,237.4 417.3,238.2 418.2,237.9 419.1,238.3 420.1,236.6 421.0,237.5 421.9,238.8 422.8,234.2 423.7,234.6 424.6,235.9 425.5,234.1 426.4,232.7 427.3,236.4 428.2,235.4 429.1,235.3 430.0,234.9 430.9,233.5 431.8,229.9 432.8,225.9 433.7,230.6 434.6,226.4 435.5,227.9 436.4,227.8 437.3,223.1 438.2,224.3 439.1,228.5 440.0,225.3 440.9,217.0 441.8,218.8 442.7,217.4 443.6,217.2 444.5,215.8 445.4,210.1 446.4,205.1 447.3,205.0 448.2,192.8 449.1,200.7 450.0,194.7 450.9,188.4 451.8,185.9 452.7,187.9 453.6,178.3 454.5,172.4 455.4,183.8 456.3,188.0 457.2,179.2 458.1,179.1 459.1,179.2 460.0,176.0 460.9,183.9 461.8,187.5 462.7,186.6 463.6,193.1 464.5,187.4 465.4,196.0 466.3,195.5 467.2,200.3 468.1,206.7 469.0,209.5 469.9,214.2 470.8,215.9 471.8,212.6 472.7,222.2 473.6,216.0 474.5,221.8 475.4,224.6 476.3,225.5 477.2,228.5 478.1,228.4 479.0,226.8 479.9,230.9 480.8,229.6 481.7,228.4 482.6,230.7 483.5,231.0 484.4,232.1 485.4,230.9 486.3,232.5 487.2,232.3 488.1,235.5 489.0,232.7 489.9,235.5 490.8,233.8 491.7,235.9 492.6,237.8 493.5,234.4 494.4,235.5 495.3,234.5 496.2,235.0 497.1,235.4 498.1,236.4 499.0,237.6 499.9,237.7 500.8,236.5 501.7,237.4 502.6,236.2 503.5,238.3 504.4,237.8" fill="none" stroke="#000" stroke-width="1.7"/>
<text x="474.5" y="19.5" font-size="12" font-weight="bold" text-anchor="start" fill="#000" stroke="#000" stroke-width="0.3" textLength="25" lengthAdjust="spacingAndGlyphs">High</text>
<text x="474.5" y="147.5" font-size="12" font-weight="bold" text-anchor="start" fill="#000" stroke="#000" stroke-width="0.3" textLength="22.5" lengthAdjust="spacingAndGlyphs">Low</text>
<text x="390.0" y="121.2" font-size="7.6" text-anchor="middle" stroke="#000" stroke-width="0.35">10<tspan font-size="5.7" dy="-3.4">0</tspan></text>
<text x="418.4" y="121.2" font-size="7.6" text-anchor="middle" stroke="#000" stroke-width="0.35">10<tspan font-size="5.7" dy="-3.4">1</tspan></text>
<text x="446.8" y="121.2" font-size="7.6" text-anchor="middle" stroke="#000" stroke-width="0.35">10<tspan font-size="5.7" dy="-3.4">2</tspan></text>
<text x="475.2" y="121.2" font-size="7.6" text-anchor="middle" stroke="#000" stroke-width="0.35">10<tspan font-size="5.7" dy="-3.4">3</tspan></text>
<text x="503.6" y="121.2" font-size="7.6" text-anchor="middle" stroke="#000" stroke-width="0.35">10<tspan font-size="5.7" dy="-3.4">4</tspan></text>
<text x="390.0" y="251.2" font-size="7.6" text-anchor="middle" stroke="#000" stroke-width="0.35">10<tspan font-size="5.7" dy="-3.4">0</tspan></text>
<text x="418.4" y="251.2" font-size="7.6" text-anchor="middle" stroke="#000" stroke-width="0.35">10<tspan font-size="5.7" dy="-3.4">1</tspan></text>
<text x="446.8" y="251.2" font-size="7.6" text-anchor="middle" stroke="#000" stroke-width="0.35">10<tspan font-size="5.7" dy="-3.4">2</tspan></text>
<text x="475.2" y="251.2" font-size="7.6" text-anchor="middle" stroke="#000" stroke-width="0.35">10<tspan font-size="5.7" dy="-3.4">3</tspan></text>
<text x="503.6" y="251.2" font-size="7.6" text-anchor="middle" stroke="#000" stroke-width="0.35">10<tspan font-size="5.7" dy="-3.4">4</tspan></text>
<line x1="372.6" y1="257.8" x2="372.6" y2="12.4" stroke="#222" stroke-width="1.4"/>
<polygon points="372.60,2.90 368.80,13.40 376.40,13.40" fill="#222" stroke="none" stroke-width="1"/>
<line x1="371.9" y1="257.2" x2="499.7" y2="257.2" stroke="#222" stroke-width="1.4"/>
<polygon points="509.20,257.20 498.70,253.80 498.70,260.60" fill="#222" stroke="none" stroke-width="1"/>
<text x="366.6" y="128.2" font-size="11.5" font-weight="bold" text-anchor="middle" fill="#000" stroke="#000" stroke-width="0.3" transform="rotate(-90 366.6 128.2)" textLength="111.5" lengthAdjust="spacingAndGlyphs">Relative cell number</text>
<text x="138.0" y="298.8" font-size="12" font-weight="bold" text-anchor="middle" fill="#000" stroke="#000" stroke-width="0.3">Isotype</text>
<text x="220.8" y="298.8" font-size="12" font-weight="bold" text-anchor="middle" fill="#000" stroke="#000" stroke-width="0.3">CD31</text>
<text x="302.8" y="298.8" font-size="12" font-weight="bold" text-anchor="middle" fill="#000" stroke="#000" stroke-width="0.3">CD105</text>
<text x="385.1" y="298.8" font-size="12" font-weight="bold" text-anchor="middle" fill="#000" stroke="#000" stroke-width="0.3">KDR</text>
<text x="467.9" y="298.8" font-size="12" font-weight="bold" text-anchor="middle" fill="#000" stroke="#000" stroke-width="0.3" textLength="66.5" lengthAdjust="spacingAndGlyphs">VE-cadherin</text>
<polygon points="104.50,365.50 104.50,330.31 105.00,334.03 105.50,337.14 106.00,337.10 106.50,337.99 107.00,336.11 107.50,333.01 108.00,325.52 108.50,322.73 109.00,323.56 109.50,328.86 110.00,328.68 110.50,331.95 111.00,332.26 111.50,334.56 112.00,336.93 112.50,337.50 113.00,340.97 113.50,343.86 114.00,345.51 114.50,348.82 115.00,351.66 115.50,352.68 116.00,355.37 116.50,353.96 117.00,357.11 117.50,356.66 118.00,359.34 118.50,359.97 119.00,360.04 119.50,360.62 120.00,359.92 120.50,360.45 121.00,361.75 121.50,363.11 122.00,363.64 122.50,363.48 123.00,363.93 123.50,364.34 124.00,364.87 124.50,364.34 125.00,363.94 125.50,363.92 126.00,364.49 126.50,363.96 127.00,364.16 127.50,364.91 128.00,364.17 128.50,364.57 129.00,363.94 129.50,363.83 130.00,364.71 130.50,364.36 131.00,364.33 131.50,364.61 132.00,365.06 132.50,365.05 133.00,363.38 133.50,363.83 134.00,364.36 134.50,363.95 135.00,364.66 135.50,363.88 136.00,363.45 136.50,363.77 137.00,364.31 137.50,363.39 138.00,363.50 138.50,365.03 139.00,364.41 139.50,364.33 140.00,364.65 140.50,364.04 141.00,364.88 141.50,363.81 142.00,363.62 142.50,365.03 143.00,363.91 143.50,364.66 144.00,364.00 144.50,363.91 145.00,363.41 145.50,363.72 146.00,364.53 146.50,363.84 147.00,364.87 147.50,363.87 148.00,364.40 148.50,364.66 149.00,364.71 149.50,364.75 150.00,363.73 150.50,364.96 151.00,364.72 151.50,364.79 152.00,364.85 152.50,363.84 153.00,364.10 153.50,363.96 154.00,363.54 154.50,364.34 155.00,365.07 155.50,364.80 156.00,364.22 156.50,363.87 157.00,363.51 157.50,364.23 158.00,364.73 158.50,364.09 159.00,363.48 159.50,364.54 160.00,363.49 160.50,363.54 161.00,364.11 161.50,364.28 162.00,364.91 162.50,364.94 163.00,365.06 163.50,364.05 164.00,363.87 164.50,363.38 165.00,364.07 165.50,363.38 166.00,364.42 166.50,364.90 167.00,365.03 167.50,364.62 168.00,364.20 168.50,363.39 169.00,364.61 169.50,364.72 170.00,363.85 170.50,365.50 171.00,365.50 171.50,365.50 171.50,365.50" fill="#000" stroke="none" stroke-width="1"/>
<rect x="104.5" y="304.5" width="67.0" height="61.0" fill="none" stroke="#555" stroke-width="0.9"/>
<line x1="104.5" y1="304.5" x2="104.5" y2="365.5" stroke="#333" stroke-width="1.1"/>
<path d="M102.7 307.9h1.8M102.7 311.3h1.8M102.7 314.7h1.8M102.7 318.1h1.8M102.7 321.4h1.8M102.7 324.8h1.8M102.7 328.2h1.8M102.7 331.6h1.8M102.7 335.0h1.8M102.7 338.4h1.8M102.7 341.8h1.8M102.7 345.2h1.8M102.7 348.6h1.8M102.7 351.9h1.8M102.7 355.3h1.8M102.7 358.7h1.8M102.7 362.1h1.8" stroke="#222" stroke-width="0.8"/>
<path d="M104.5 365.5v1.5M109.5 365.5v0.8M112.5 365.5v0.8M114.6 365.5v0.8M116.2 365.5v0.8M117.5 365.5v0.8M118.7 365.5v0.8M119.6 365.5v0.8M120.5 365.5v0.8M121.2 365.5v1.5M126.3 365.5v0.8M129.2 365.5v0.8M131.3 365.5v0.8M133.0 365.5v0.8M134.3 365.5v0.8M135.4 365.5v0.8M136.4 365.5v0.8M137.2 365.5v0.8M138.0 365.5v1.5M143.0 365.5v0.8M146.0 365.5v0.8M148.1 365.5v0.8M149.7 365.5v0.8M151.0 365.5v0.8M152.2 365.5v0.8M153.1 365.5v0.8M154.0 365.5v0.8M154.8 365.5v1.5M159.8 365.5v0.8M162.7 365.5v0.8M164.8 365.5v0.8M166.5 365.5v0.8M167.8 365.5v0.8M168.9 365.5v0.8M169.9 365.5v0.8M170.7 365.5v0.8M171.5 365.5v1.5" stroke="#555" stroke-width="0.5"/>
<line x1="121.25" y1="315.5" x2="171.5" y2="315.5" stroke="#777" stroke-width="1.1"/>
<line x1="121.25" y1="312.0" x2="121.25" y2="319.0" stroke="#777" stroke-width="1.1"/>
<line x1="171.5" y1="311.5" x2="171.5" y2="319.5" stroke="#333" stroke-width="1.4"/>
<text x="169.2" y="326.9" font-size="9.6" font-weight="bold" text-anchor="end" fill="#000" stroke="#000" stroke-width="0.3">0.1%</text>
<text x="106.6" y="373.8" font-size="5.5" font-weight="bold" text-anchor="middle" stroke="#000" stroke-width="0.12">10<tspan font-size="3.9" dy="-2.4">0</tspan></text>
<text x="122.4" y="373.8" font-size="5.5" font-weight="bold" text-anchor="middle" stroke="#000" stroke-width="0.12">10<tspan font-size="3.9" dy="-2.4">1</tspan></text>
<text x="138.3" y="373.8" font-size="5.5" font-weight="bold" text-anchor="middle" stroke="#000" stroke-width="0.12">10<tspan font-size="3.9" dy="-2.4">2</tspan></text>
<text x="154.2" y="373.8" font-size="5.5" font-weight="bold" text-anchor="middle" stroke="#000" stroke-width="0.12">10<tspan font-size="3.9" dy="-2.4">3</tspan></text>
<text x="170.0" y="373.8" font-size="5.5" font-weight="bold" text-anchor="middle" stroke="#000" stroke-width="0.12">10<tspan font-size="3.9" dy="-2.4">4</tspan></text>
<polygon points="187.30,365.50 187.30,363.87 187.80,363.88 188.30,364.20 188.80,364.21 189.30,364.14 189.80,363.70 190.30,364.25 190.80,364.20 191.30,363.92 191.80,364.32 192.30,363.81 192.80,364.03 193.30,364.09 193.80,364.25 194.30,363.56 194.80,364.00 195.30,364.03 195.80,363.74 196.30,363.52 196.80,363.88 197.30,363.48 197.80,363.83 198.30,363.36 198.80,363.92 199.30,363.96 199.80,364.40 200.30,364.45 200.80,364.20 201.30,364.30 201.80,363.93 202.30,363.82 202.80,364.31 203.30,363.64 203.80,364.63 204.30,363.82 204.80,363.42 205.30,364.64 205.80,363.99 206.30,363.44 206.80,364.29 207.30,363.85 207.80,364.06 208.30,364.34 208.80,363.56 209.30,364.01 209.80,364.29 210.30,364.10 210.80,364.15 211.30,363.48 211.80,363.80 212.30,364.15 212.80,364.21 213.30,363.89 213.80,363.16 214.30,363.81 214.80,363.93 215.30,363.40 215.80,363.57 216.30,364.18 216.80,363.56 217.30,363.91 217.80,364.27 218.30,363.92 218.80,363.83 219.30,363.38 219.80,363.36 220.30,362.49 220.80,363.05 221.30,362.06 221.80,358.65 222.30,355.65 222.80,353.96 223.30,350.52 223.80,349.23 224.30,347.94 224.80,346.64 225.30,340.15 225.80,338.37 226.30,338.05 226.80,326.21 227.30,322.40 227.80,314.67 228.30,309.40 228.80,311.54 229.30,316.15 229.80,319.00 230.30,323.19 230.80,332.19 231.30,337.23 231.80,337.79 232.30,341.04 232.80,347.07 233.30,350.14 233.80,351.06 234.30,353.73 234.80,359.57 235.30,361.76 235.80,362.15 236.30,363.66 236.80,363.26 237.30,363.22 237.80,363.42 238.30,363.67 238.80,363.58 239.30,363.54 239.80,364.07 240.30,364.70 240.80,364.40 241.30,363.84 241.80,364.07 242.30,363.55 242.80,364.54 243.30,363.49 243.80,364.78 244.30,363.81 244.80,364.90 245.30,364.48 245.80,364.44 246.30,364.55 246.80,364.67 247.30,364.35 247.80,363.97 248.30,364.26 248.80,364.04 249.30,363.62 249.80,363.49 250.30,364.29 250.80,363.50 251.30,363.80 251.80,364.37 252.30,363.47 252.80,363.56 253.30,364.63 253.80,365.27 254.30,364.14 254.30,365.50" fill="#000" stroke="none" stroke-width="1"/>
<rect x="187.3" y="304.5" width="67.0" height="61.0" fill="none" stroke="#555" stroke-width="0.9"/>
<line x1="187.3" y1="304.5" x2="187.3" y2="365.5" stroke="#333" stroke-width="1.1"/>
<path d="M185.5 307.9h1.8M185.5 311.3h1.8M185.5 314.7h1.8M185.5 318.1h1.8M185.5 321.4h1.8M185.5 324.8h1.8M185.5 328.2h1.8M185.5 331.6h1.8M185.5 335.0h1.8M185.5 338.4h1.8M185.5 341.8h1.8M185.5 345.2h1.8M185.5 348.6h1.8M185.5 351.9h1.8M185.5 355.3h1.8M185.5 358.7h1.8M185.5 362.1h1.8" stroke="#222" stroke-width="0.8"/>
<path d="M187.3 365.5v1.5M192.3 365.5v0.8M195.3 365.5v0.8M197.4 365.5v0.8M199.0 365.5v0.8M200.3 365.5v0.8M201.5 365.5v0.8M202.4 365.5v0.8M203.3 365.5v0.8M204.1 365.5v1.5M209.1 365.5v0.8M212.0 365.5v0.8M214.1 365.5v0.8M215.8 365.5v0.8M217.1 365.5v0.8M218.2 365.5v0.8M219.2 365.5v0.8M220.0 365.5v0.8M220.8 365.5v1.5M225.8 365.5v0.8M228.8 365.5v0.8M230.9 365.5v0.8M232.5 365.5v0.8M233.8 365.5v0.8M235.0 365.5v0.8M235.9 365.5v0.8M236.8 365.5v0.8M237.6 365.5v1.5M242.6 365.5v0.8M245.5 365.5v0.8M247.6 365.5v0.8M249.3 365.5v0.8M250.6 365.5v0.8M251.7 365.5v0.8M252.7 365.5v0.8M253.5 365.5v0.8M254.3 365.5v1.5" stroke="#555" stroke-width="0.5"/>
<line x1="204.05" y1="315.5" x2="254.3" y2="315.5" stroke="#777" stroke-width="1.1"/>
<line x1="204.05" y1="312.0" x2="204.05" y2="319.0" stroke="#777" stroke-width="1.1"/>
<line x1="254.3" y1="311.5" x2="254.3" y2="319.5" stroke="#333" stroke-width="1.4"/>
<text x="252.0" y="326.9" font-size="9.6" font-weight="bold" text-anchor="end" fill="#000" stroke="#000" stroke-width="0.3">99%</text>
<text x="189.4" y="373.8" font-size="5.5" font-weight="bold" text-anchor="middle" stroke="#000" stroke-width="0.12">10<tspan font-size="3.9" dy="-2.4">0</tspan></text>
<text x="205.3" y="373.8" font-size="5.5" font-weight="bold" text-anchor="middle" stroke="#000" stroke-width="0.12">10<tspan font-size="3.9" dy="-2.4">1</tspan></text>
<text x="221.1" y="373.8" font-size="5.5" font-weight="bold" text-anchor="middle" stroke="#000" stroke-width="0.12">10<tspan font-size="3.9" dy="-2.4">2</tspan></text>
<text x="237.0" y="373.8" font-size="5.5" font-weight="bold" text-anchor="middle" stroke="#000" stroke-width="0.12">10<tspan font-size="3.9" dy="-2.4">3</tspan></text>
<text x="252.8" y="373.8" font-size="5.5" font-weight="bold" text-anchor="middle" stroke="#000" stroke-width="0.12">10<tspan font-size="3.9" dy="-2.4">4</tspan></text>
<polygon points="269.30,365.50 269.30,363.75 269.80,364.70 270.30,363.56 270.80,363.95 271.30,363.74 271.80,364.55 272.30,364.41 272.80,363.79 273.30,363.67 273.80,364.37 274.30,364.29 274.80,364.64 275.30,363.55 275.80,363.49 276.30,364.39 276.80,364.31 277.30,363.83 277.80,364.28 278.30,363.42 278.80,364.08 279.30,363.69 279.80,363.81 280.30,363.99 280.80,363.74 281.30,364.45 281.80,363.99 282.30,364.15 282.80,363.89 283.30,363.40 283.80,363.51 284.30,363.82 284.80,363.59 285.30,364.11 285.80,364.30 286.30,363.60 286.80,364.30 287.30,363.82 287.80,364.69 288.30,364.48 288.80,363.99 289.30,363.52 289.80,363.59 290.30,364.30 290.80,364.54 291.30,364.28 291.80,363.37 292.30,364.72 292.80,364.13 293.30,363.70 293.80,364.70 294.30,363.79 294.80,364.03 295.30,363.99 295.80,363.40 296.30,364.05 296.80,364.13 297.30,363.71 297.80,364.72 298.30,363.68 298.80,364.50 299.30,363.98 299.80,364.33 300.30,364.45 300.80,363.96 301.30,363.95 301.80,363.43 302.30,363.68 302.80,364.00 303.30,363.63 303.80,362.95 304.30,362.06 304.80,362.47 305.30,362.31 305.80,361.26 306.30,359.73 306.80,358.82 307.30,354.55 307.80,354.02 308.30,351.92 308.80,346.77 309.30,347.97 309.80,347.98 310.30,344.17 310.80,338.00 311.30,334.86 311.80,332.42 312.30,330.62 312.80,328.45 313.30,325.97 313.80,319.97 314.30,319.01 314.80,319.89 315.30,323.20 315.80,328.33 316.30,329.75 316.80,333.00 317.30,337.83 317.80,340.78 318.30,346.07 318.80,347.71 319.30,348.06 319.80,352.46 320.30,354.78 320.80,358.57 321.30,359.92 321.80,361.06 322.30,361.58 322.80,361.71 323.30,362.67 323.80,363.52 324.30,363.37 324.80,363.95 325.30,364.01 325.80,363.53 326.30,363.48 326.80,363.85 327.30,363.86 327.80,364.09 328.30,363.89 328.80,363.83 329.30,364.00 329.80,364.18 330.30,364.42 330.80,363.78 331.30,364.20 331.80,364.85 332.30,364.24 332.80,364.80 333.30,363.42 333.80,363.77 334.30,363.43 334.80,364.84 335.30,365.05 335.80,365.43 336.30,364.29 336.30,365.50" fill="#000" stroke="none" stroke-width="1"/>
<rect x="269.3" y="304.5" width="67.0" height="61.0" fill="none" stroke="#555" stroke-width="0.9"/>
<line x1="269.3" y1="304.5" x2="269.3" y2="365.5" stroke="#333" stroke-width="1.1"/>
<path d="M267.5 307.9h1.8M267.5 311.3h1.8M267.5 314.7h1.8M267.5 318.1h1.8M267.5 321.4h1.8M267.5 324.8h1.8M267.5 328.2h1.8M267.5 331.6h1.8M267.5 335.0h1.8M267.5 338.4h1.8M267.5 341.8h1.8M267.5 345.2h1.8M267.5 348.6h1.8M267.5 351.9h1.8M267.5 355.3h1.8M267.5 358.7h1.8M267.5 362.1h1.8" stroke="#222" stroke-width="0.8"/>
<path d="M269.3 365.5v1.5M274.3 365.5v0.8M277.3 365.5v0.8M279.4 365.5v0.8M281.0 365.5v0.8M282.3 365.5v0.8M283.5 365.5v0.8M284.4 365.5v0.8M285.3 365.5v0.8M286.1 365.5v1.5M291.1 365.5v0.8M294.0 365.5v0.8M296.1 365.5v0.8M297.8 365.5v0.8M299.1 365.5v0.8M300.2 365.5v0.8M301.2 365.5v0.8M302.0 365.5v0.8M302.8 365.5v1.5M307.8 365.5v0.8M310.8 365.5v0.8M312.9 365.5v0.8M314.5 365.5v0.8M315.8 365.5v0.8M317.0 365.5v0.8M317.9 365.5v0.8M318.8 365.5v0.8M319.6 365.5v1.5M324.6 365.5v0.8M327.5 365.5v0.8M329.6 365.5v0.8M331.3 365.5v0.8M332.6 365.5v0.8M333.7 365.5v0.8M334.7 365.5v0.8M335.5 365.5v0.8M336.3 365.5v1.5" stroke="#555" stroke-width="0.5"/>
<line x1="286.05" y1="315.5" x2="336.3" y2="315.5" stroke="#777" stroke-width="1.1"/>
<line x1="286.05" y1="312.0" x2="286.05" y2="319.0" stroke="#777" stroke-width="1.1"/>
<line x1="336.3" y1="311.5" x2="336.3" y2="319.5" stroke="#333" stroke-width="1.4"/>
<text x="334.0" y="313.5" font-size="9.6" font-weight="bold" text-anchor="end" fill="#000" stroke="#000" stroke-width="0.3">99%</text>
<text x="271.4" y="373.8" font-size="5.5" font-weight="bold" text-anchor="middle" stroke="#000" stroke-width="0.12">10<tspan font-size="3.9" dy="-2.4">0</tspan></text>
<text x="287.3" y="373.8" font-size="5.5" font-weight="bold" text-anchor="middle" stroke="#000" stroke-width="0.12">10<tspan font-size="3.9" dy="-2.4">1</tspan></text>
<text x="303.1" y="373.8" font-size="5.5" font-weight="bold" text-anchor="middle" stroke="#000" stroke-width="0.12">10<tspan font-size="3.9" dy="-2.4">2</tspan></text>
<text x="319.0" y="373.8" font-size="5.5" font-weight="bold" text-anchor="middle" stroke="#000" stroke-width="0.12">10<tspan font-size="3.9" dy="-2.4">3</tspan></text>
<text x="334.8" y="373.8" font-size="5.5" font-weight="bold" text-anchor="middle" stroke="#000" stroke-width="0.12">10<tspan font-size="3.9" dy="-2.4">4</tspan></text>
<polygon points="351.60,365.50 351.60,363.49 352.10,363.87 352.60,363.55 353.10,363.97 353.60,364.05 354.10,364.06 354.60,364.31 355.10,364.48 355.60,364.08 356.10,363.50 356.60,363.68 357.10,363.26 357.60,363.71 358.10,364.01 358.60,363.61 359.10,364.46 359.60,363.78 360.10,364.29 360.60,364.04 361.10,363.91 361.60,364.05 362.10,363.61 362.60,363.04 363.10,363.84 363.60,363.40 364.10,363.88 364.60,363.33 365.10,363.40 365.60,363.64 366.10,363.91 366.60,363.90 367.10,364.04 367.60,363.33 368.10,363.84 368.60,363.92 369.10,364.02 369.60,362.76 370.10,362.92 370.60,363.84 371.10,362.51 371.60,363.19 372.10,361.03 372.60,362.07 373.10,362.40 373.60,361.93 374.10,361.22 374.60,362.29 375.10,362.54 375.60,361.33 376.10,361.32 376.60,360.60 377.10,358.62 377.60,358.46 378.10,359.02 378.60,357.05 379.10,356.46 379.60,356.79 380.10,355.60 380.60,355.91 381.10,355.01 381.60,354.96 382.10,351.44 382.60,349.96 383.10,351.68 383.60,351.41 384.10,350.86 384.60,348.31 385.10,349.61 385.60,347.33 386.10,348.04 386.60,347.47 387.10,346.85 387.60,344.69 388.10,347.56 388.60,346.51 389.10,349.35 389.60,345.98 390.10,346.51 390.60,344.35 391.10,343.18 391.60,341.83 392.10,340.66 392.60,339.77 393.10,336.97 393.60,334.61 394.10,334.25 394.60,333.89 395.10,332.94 395.60,334.23 396.10,335.24 396.60,337.78 397.10,340.03 397.60,338.85 398.10,341.41 398.60,348.44 399.10,348.66 399.60,353.30 400.10,354.96 400.60,359.05 401.10,361.58 401.60,362.38 402.10,362.45 402.60,363.38 403.10,364.04 403.60,364.36 404.10,363.85 404.60,364.65 405.10,363.88 405.60,363.41 406.10,364.58 406.60,364.98 407.10,364.49 407.60,363.44 408.10,364.28 408.60,364.69 409.10,363.51 409.60,365.01 410.10,364.52 410.60,363.59 411.10,363.99 411.60,363.52 412.10,364.80 412.60,363.83 413.10,363.77 413.60,364.67 414.10,363.41 414.60,363.56 415.10,363.44 415.60,363.69 416.10,364.40 416.60,363.74 417.10,364.46 417.60,365.50 418.10,365.28 418.60,364.57 418.60,365.50" fill="#000" stroke="none" stroke-width="1"/>
<rect x="351.6" y="304.5" width="67.0" height="61.0" fill="none" stroke="#555" stroke-width="0.9"/>
<line x1="351.6" y1="304.5" x2="351.6" y2="365.5" stroke="#333" stroke-width="1.1"/>
<path d="M349.8 307.9h1.8M349.8 311.3h1.8M349.8 314.7h1.8M349.8 318.1h1.8M349.8 321.4h1.8M349.8 324.8h1.8M349.8 328.2h1.8M349.8 331.6h1.8M349.8 335.0h1.8M349.8 338.4h1.8M349.8 341.8h1.8M349.8 345.2h1.8M349.8 348.6h1.8M349.8 351.9h1.8M349.8 355.3h1.8M349.8 358.7h1.8M349.8 362.1h1.8" stroke="#222" stroke-width="0.8"/>
<path d="M351.6 365.5v1.5M356.6 365.5v0.8M359.6 365.5v0.8M361.7 365.5v0.8M363.3 365.5v0.8M364.6 365.5v0.8M365.8 365.5v0.8M366.7 365.5v0.8M367.6 365.5v0.8M368.4 365.5v1.5M373.4 365.5v0.8M376.3 365.5v0.8M378.4 365.5v0.8M380.1 365.5v0.8M381.4 365.5v0.8M382.5 365.5v0.8M383.5 365.5v0.8M384.3 365.5v0.8M385.1 365.5v1.5M390.1 365.5v0.8M393.1 365.5v0.8M395.2 365.5v0.8M396.8 365.5v0.8M398.1 365.5v0.8M399.3 365.5v0.8M400.2 365.5v0.8M401.1 365.5v0.8M401.9 365.5v1.5M406.9 365.5v0.8M409.8 365.5v0.8M411.9 365.5v0.8M413.6 365.5v0.8M414.9 365.5v0.8M416.0 365.5v0.8M417.0 365.5v0.8M417.8 365.5v0.8M418.6 365.5v1.5" stroke="#555" stroke-width="0.5"/>
<line x1="368.35" y1="315.5" x2="418.6" y2="315.5" stroke="#777" stroke-width="1.1"/>
<line x1="368.35" y1="312.0" x2="368.35" y2="319.0" stroke="#777" stroke-width="1.1"/>
<line x1="418.6" y1="311.5" x2="418.6" y2="319.5" stroke="#333" stroke-width="1.4"/>
<text x="416.3" y="326.9" font-size="9.6" font-weight="bold" text-anchor="end" fill="#000" stroke="#000" stroke-width="0.3">99%</text>
<text x="353.7" y="373.8" font-size="5.5" font-weight="bold" text-anchor="middle" stroke="#000" stroke-width="0.12">10<tspan font-size="3.9" dy="-2.4">0</tspan></text>
<text x="369.6" y="373.8" font-size="5.5" font-weight="bold" text-anchor="middle" stroke="#000" stroke-width="0.12">10<tspan font-size="3.9" dy="-2.4">1</tspan></text>
<text x="385.4" y="373.8" font-size="5.5" font-weight="bold" text-anchor="middle" stroke="#000" stroke-width="0.12">10<tspan font-size="3.9" dy="-2.4">2</tspan></text>
<text x="401.3" y="373.8" font-size="5.5" font-weight="bold" text-anchor="middle" stroke="#000" stroke-width="0.12">10<tspan font-size="3.9" dy="-2.4">3</tspan></text>
<text x="417.1" y="373.8" font-size="5.5" font-weight="bold" text-anchor="middle" stroke="#000" stroke-width="0.12">10<tspan font-size="3.9" dy="-2.4">4</tspan></text>
<polygon points="434.40,365.50 434.40,363.45 434.90,363.77 435.40,363.81 435.90,363.97 436.40,364.45 436.90,363.58 437.40,363.55 437.90,363.69 438.40,363.37 438.90,364.20 439.40,363.41 439.90,363.83 440.40,363.79 440.90,363.67 441.40,363.73 441.90,363.83 442.40,364.37 442.90,364.57 443.40,363.42 443.90,364.16 444.40,363.83 444.90,363.95 445.40,364.59 445.90,364.42 446.40,363.50 446.90,364.45 447.40,364.15 447.90,364.47 448.40,363.85 448.90,364.49 449.40,364.04 449.90,363.61 450.40,364.19 450.90,364.32 451.40,363.70 451.90,363.81 452.40,362.35 452.90,363.50 453.40,361.90 453.90,357.39 454.40,351.62 454.90,347.53 455.40,347.85 455.90,343.65 456.40,335.25 456.90,332.39 457.40,329.23 457.90,328.60 458.40,322.27 458.90,319.47 459.40,319.38 459.90,315.44 460.40,314.14 460.90,322.73 461.40,328.48 461.90,326.03 462.40,327.50 462.90,333.47 463.40,343.36 463.90,340.67 464.40,343.67 464.90,348.44 465.40,352.17 465.90,352.14 466.40,357.46 466.90,356.18 467.40,356.09 467.90,358.24 468.40,360.22 468.90,360.89 469.40,361.41 469.90,362.36 470.40,362.51 470.90,363.20 471.40,362.24 471.90,363.16 472.40,363.53 472.90,364.25 473.40,363.45 473.90,363.79 474.40,364.21 474.90,364.19 475.40,363.57 475.90,364.46 476.40,363.82 476.90,363.85 477.40,364.32 477.90,364.60 478.40,364.40 478.90,363.60 479.40,364.52 479.90,363.73 480.40,363.75 480.90,364.09 481.40,364.21 481.90,364.89 482.40,363.37 482.90,364.94 483.40,363.70 483.90,363.66 484.40,364.18 484.90,363.70 485.40,364.62 485.90,364.79 486.40,363.57 486.90,363.37 487.40,365.12 487.90,364.02 488.40,364.23 488.90,364.81 489.40,364.43 489.90,363.57 490.40,363.93 490.90,363.77 491.40,363.82 491.90,364.02 492.40,363.89 492.90,364.17 493.40,364.40 493.90,363.71 494.40,364.75 494.90,364.24 495.40,364.43 495.90,364.90 496.40,363.63 496.90,364.16 497.40,364.11 497.90,364.91 498.40,364.60 498.90,364.40 499.40,363.71 499.90,363.97 500.40,364.78 500.90,364.56 501.40,364.68 501.40,365.50" fill="#000" stroke="none" stroke-width="1"/>
<rect x="434.4" y="304.5" width="67.0" height="61.0" fill="none" stroke="#555" stroke-width="0.9"/>
<line x1="434.4" y1="304.5" x2="434.4" y2="365.5" stroke="#333" stroke-width="1.1"/>
<path d="M432.6 307.9h1.8M432.6 311.3h1.8M432.6 314.7h1.8M432.6 318.1h1.8M432.6 321.4h1.8M432.6 324.8h1.8M432.6 328.2h1.8M432.6 331.6h1.8M432.6 335.0h1.8M432.6 338.4h1.8M432.6 341.8h1.8M432.6 345.2h1.8M432.6 348.6h1.8M432.6 351.9h1.8M432.6 355.3h1.8M432.6 358.7h1.8M432.6 362.1h1.8" stroke="#222" stroke-width="0.8"/>
<path d="M434.4 365.5v1.5M439.4 365.5v0.8M442.4 365.5v0.8M444.5 365.5v0.8M446.1 365.5v0.8M447.4 365.5v0.8M448.6 365.5v0.8M449.5 365.5v0.8M450.4 365.5v0.8M451.1 365.5v1.5M456.2 365.5v0.8M459.1 365.5v0.8M461.2 365.5v0.8M462.9 365.5v0.8M464.2 365.5v0.8M465.3 365.5v0.8M466.3 365.5v0.8M467.1 365.5v0.8M467.9 365.5v1.5M472.9 365.5v0.8M475.9 365.5v0.8M478.0 365.5v0.8M479.6 365.5v0.8M480.9 365.5v0.8M482.1 365.5v0.8M483.0 365.5v0.8M483.9 365.5v0.8M484.6 365.5v1.5M489.7 365.5v0.8M492.6 365.5v0.8M494.7 365.5v0.8M496.4 365.5v0.8M497.7 365.5v0.8M498.8 365.5v0.8M499.8 365.5v0.8M500.6 365.5v0.8M501.4 365.5v1.5" stroke="#555" stroke-width="0.5"/>
<line x1="451.15" y1="315.5" x2="501.4" y2="315.5" stroke="#777" stroke-width="1.1"/>
<line x1="451.15" y1="312.0" x2="451.15" y2="319.0" stroke="#777" stroke-width="1.1"/>
<line x1="501.4" y1="311.5" x2="501.4" y2="319.5" stroke="#333" stroke-width="1.4"/>
<text x="499.09999999999997" y="326.9" font-size="9.6" font-weight="bold" text-anchor="end" fill="#000" stroke="#000" stroke-width="0.3">99%</text>
<text x="436.5" y="373.8" font-size="5.5" font-weight="bold" text-anchor="middle" stroke="#000" stroke-width="0.12">10<tspan font-size="3.9" dy="-2.4">0</tspan></text>
<text x="452.4" y="373.8" font-size="5.5" font-weight="bold" text-anchor="middle" stroke="#000" stroke-width="0.12">10<tspan font-size="3.9" dy="-2.4">1</tspan></text>
<text x="468.2" y="373.8" font-size="5.5" font-weight="bold" text-anchor="middle" stroke="#000" stroke-width="0.12">10<tspan font-size="3.9" dy="-2.4">2</tspan></text>
<text x="484.1" y="373.8" font-size="5.5" font-weight="bold" text-anchor="middle" stroke="#000" stroke-width="0.12">10<tspan font-size="3.9" dy="-2.4">3</tspan></text>
<text x="499.9" y="373.8" font-size="5.5" font-weight="bold" text-anchor="middle" stroke="#000" stroke-width="0.12">10<tspan font-size="3.9" dy="-2.4">4</tspan></text>
<polygon points="104.50,438.50 104.50,427.75 105.00,426.43 105.50,421.48 106.00,422.53 106.50,418.07 107.00,415.69 107.50,414.43 108.00,411.62 108.50,413.19 109.00,413.08 109.50,414.02 110.00,412.05 110.50,412.14 111.00,410.91 111.50,411.43 112.00,409.98 112.50,409.42 113.00,411.11 113.50,412.29 114.00,413.20 114.50,417.38 115.00,419.17 115.50,418.12 116.00,420.55 116.50,421.61 117.00,426.02 117.50,426.10 118.00,426.54 118.50,426.99 119.00,428.78 119.50,430.82 120.00,433.68 120.50,435.90 121.00,436.56 121.50,436.32 122.00,437.09 122.50,437.12 123.00,437.16 123.50,437.06 124.00,437.40 124.50,438.05 125.00,437.57 125.50,437.78 126.00,436.96 126.50,437.72 127.00,436.80 127.50,437.19 128.00,437.45 128.50,437.05 129.00,436.57 129.50,437.55 130.00,438.03 130.50,436.62 131.00,437.62 131.50,436.56 132.00,437.30 132.50,437.42 133.00,436.65 133.50,437.93 134.00,436.61 134.50,437.65 135.00,436.77 135.50,436.45 136.00,436.66 136.50,437.54 137.00,436.43 137.50,437.20 138.00,437.61 138.50,437.49 139.00,437.99 139.50,437.02 140.00,437.35 140.50,437.14 141.00,436.57 141.50,437.34 142.00,438.09 142.50,437.08 143.00,437.98 143.50,437.08 144.00,437.18 144.50,437.35 145.00,436.97 145.50,437.98 146.00,437.50 146.50,437.77 147.00,437.76 147.50,437.92 148.00,437.75 148.50,436.63 149.00,436.41 149.50,437.05 150.00,436.77 150.50,438.11 151.00,437.54 151.50,436.86 152.00,436.53 152.50,438.04 153.00,436.39 153.50,436.42 154.00,437.98 154.50,437.42 155.00,436.53 155.50,437.53 156.00,437.84 156.50,437.11 157.00,437.03 157.50,436.78 158.00,437.74 158.50,437.25 159.00,437.79 159.50,436.48 160.00,436.53 160.50,436.46 161.00,437.90 161.50,437.82 162.00,436.70 162.50,437.31 163.00,436.64 163.50,437.00 164.00,438.07 164.50,437.93 165.00,436.85 165.50,437.65 166.00,437.43 166.50,437.04 167.00,438.04 167.50,437.96 168.00,437.27 168.50,438.10 169.00,437.53 169.50,437.45 170.00,437.96 170.50,438.50 171.00,438.50 171.50,438.50 171.50,438.50" fill="#000" stroke="none" stroke-width="1"/>
<rect x="104.5" y="377.7" width="67.0" height="60.80000000000001" fill="none" stroke="#555" stroke-width="0.9"/>
<line x1="104.5" y1="377.7" x2="104.5" y2="438.5" stroke="#333" stroke-width="1.1"/>
<path d="M102.7 381.1h1.8M102.7 384.5h1.8M102.7 387.8h1.8M102.7 391.2h1.8M102.7 394.6h1.8M102.7 398.0h1.8M102.7 401.3h1.8M102.7 404.7h1.8M102.7 408.1h1.8M102.7 411.5h1.8M102.7 414.9h1.8M102.7 418.2h1.8M102.7 421.6h1.8M102.7 425.0h1.8M102.7 428.4h1.8M102.7 431.7h1.8M102.7 435.1h1.8" stroke="#222" stroke-width="0.8"/>
<path d="M104.5 438.5v1.5M109.5 438.5v0.8M112.5 438.5v0.8M114.6 438.5v0.8M116.2 438.5v0.8M117.5 438.5v0.8M118.7 438.5v0.8M119.6 438.5v0.8M120.5 438.5v0.8M121.2 438.5v1.5M126.3 438.5v0.8M129.2 438.5v0.8M131.3 438.5v0.8M133.0 438.5v0.8M134.3 438.5v0.8M135.4 438.5v0.8M136.4 438.5v0.8M137.2 438.5v0.8M138.0 438.5v1.5M143.0 438.5v0.8M146.0 438.5v0.8M148.1 438.5v0.8M149.7 438.5v0.8M151.0 438.5v0.8M152.2 438.5v0.8M153.1 438.5v0.8M154.0 438.5v0.8M154.8 438.5v1.5M159.8 438.5v0.8M162.7 438.5v0.8M164.8 438.5v0.8M166.5 438.5v0.8M167.8 438.5v0.8M168.9 438.5v0.8M169.9 438.5v0.8M170.7 438.5v0.8M171.5 438.5v1.5" stroke="#555" stroke-width="0.5"/>
<line x1="121.25" y1="388.7" x2="171.5" y2="388.7" stroke="#777" stroke-width="1.1"/>
<line x1="121.25" y1="385.2" x2="121.25" y2="392.2" stroke="#777" stroke-width="1.1"/>
<line x1="171.5" y1="384.7" x2="171.5" y2="392.7" stroke="#333" stroke-width="1.4"/>
<text x="167.5" y="400.09999999999997" font-size="9.6" font-weight="bold" text-anchor="end" fill="#000" stroke="#000" stroke-width="0.3">0.1%</text>
<text x="106.6" y="446.8" font-size="5.5" font-weight="bold" text-anchor="middle" stroke="#000" stroke-width="0.12">10<tspan font-size="3.9" dy="-2.4">0</tspan></text>
<text x="122.4" y="446.8" font-size="5.5" font-weight="bold" text-anchor="middle" stroke="#000" stroke-width="0.12">10<tspan font-size="3.9" dy="-2.4">1</tspan></text>
<text x="138.3" y="446.8" font-size="5.5" font-weight="bold" text-anchor="middle" stroke="#000" stroke-width="0.12">10<tspan font-size="3.9" dy="-2.4">2</tspan></text>
<text x="154.2" y="446.8" font-size="5.5" font-weight="bold" text-anchor="middle" stroke="#000" stroke-width="0.12">10<tspan font-size="3.9" dy="-2.4">3</tspan></text>
<text x="170.0" y="446.8" font-size="5.5" font-weight="bold" text-anchor="middle" stroke="#000" stroke-width="0.12">10<tspan font-size="3.9" dy="-2.4">4</tspan></text>
<polygon points="187.30,438.50 187.30,436.98 187.80,437.59 188.30,437.14 188.80,436.89 189.30,437.80 189.80,436.51 190.30,438.00 190.80,437.27 191.30,437.39 191.80,437.35 192.30,437.61 192.80,436.65 193.30,437.61 193.80,437.14 194.30,436.73 194.80,436.95 195.30,436.73 195.80,437.23 196.30,437.14 196.80,437.45 197.30,436.44 197.80,437.43 198.30,437.68 198.80,436.62 199.30,436.51 199.80,436.52 200.30,437.42 200.80,436.78 201.30,437.71 201.80,438.02 202.30,437.60 202.80,437.36 203.30,437.05 203.80,437.54 204.30,436.41 204.80,436.61 205.30,436.87 205.80,437.06 206.30,437.11 206.80,436.76 207.30,437.28 207.80,437.35 208.30,436.70 208.80,437.63 209.30,437.07 209.80,436.42 210.30,437.11 210.80,437.51 211.30,437.73 211.80,437.05 212.30,437.75 212.80,436.83 213.30,437.23 213.80,437.33 214.30,437.37 214.80,437.55 215.30,436.01 215.80,435.84 216.30,435.44 216.80,433.74 217.30,432.44 217.80,430.89 218.30,427.31 218.80,424.22 219.30,424.31 219.80,423.03 220.30,420.16 220.80,415.20 221.30,414.79 221.80,409.92 222.30,407.03 222.80,410.04 223.30,406.47 223.80,400.44 224.30,397.75 224.80,399.26 225.30,400.93 225.80,405.12 226.30,407.73 226.80,408.77 227.30,408.04 227.80,415.32 228.30,418.90 228.80,424.61 229.30,426.33 229.80,428.40 230.30,428.94 230.80,432.18 231.30,434.43 231.80,435.47 232.30,436.84 232.80,436.69 233.30,437.68 233.80,436.87 234.30,437.44 234.80,436.66 235.30,437.45 235.80,437.79 236.30,437.16 236.80,437.56 237.30,437.81 237.80,437.65 238.30,437.28 238.80,436.53 239.30,437.11 239.80,436.66 240.30,436.49 240.80,437.41 241.30,437.58 241.80,436.51 242.30,437.33 242.80,437.77 243.30,437.69 243.80,437.25 244.30,437.29 244.80,436.66 245.30,437.58 245.80,437.80 246.30,436.48 246.80,437.15 247.30,436.96 247.80,437.18 248.30,437.06 248.80,437.93 249.30,437.94 249.80,437.88 250.30,437.34 250.80,438.03 251.30,436.63 251.80,437.88 252.30,436.65 252.80,436.93 253.30,438.50 253.80,438.50 254.30,438.50 254.30,438.50" fill="#000" stroke="none" stroke-width="1"/>
<rect x="187.3" y="377.7" width="67.0" height="60.80000000000001" fill="none" stroke="#555" stroke-width="0.9"/>
<line x1="187.3" y1="377.7" x2="187.3" y2="438.5" stroke="#333" stroke-width="1.1"/>
<path d="M185.5 381.1h1.8M185.5 384.5h1.8M185.5 387.8h1.8M185.5 391.2h1.8M185.5 394.6h1.8M185.5 398.0h1.8M185.5 401.3h1.8M185.5 404.7h1.8M185.5 408.1h1.8M185.5 411.5h1.8M185.5 414.9h1.8M185.5 418.2h1.8M185.5 421.6h1.8M185.5 425.0h1.8M185.5 428.4h1.8M185.5 431.7h1.8M185.5 435.1h1.8" stroke="#222" stroke-width="0.8"/>
<path d="M187.3 438.5v1.5M192.3 438.5v0.8M195.3 438.5v0.8M197.4 438.5v0.8M199.0 438.5v0.8M200.3 438.5v0.8M201.5 438.5v0.8M202.4 438.5v0.8M203.3 438.5v0.8M204.1 438.5v1.5M209.1 438.5v0.8M212.0 438.5v0.8M214.1 438.5v0.8M215.8 438.5v0.8M217.1 438.5v0.8M218.2 438.5v0.8M219.2 438.5v0.8M220.0 438.5v0.8M220.8 438.5v1.5M225.8 438.5v0.8M228.8 438.5v0.8M230.9 438.5v0.8M232.5 438.5v0.8M233.8 438.5v0.8M235.0 438.5v0.8M235.9 438.5v0.8M236.8 438.5v0.8M237.6 438.5v1.5M242.6 438.5v0.8M245.5 438.5v0.8M247.6 438.5v0.8M249.3 438.5v0.8M250.6 438.5v0.8M251.7 438.5v0.8M252.7 438.5v0.8M253.5 438.5v0.8M254.3 438.5v1.5" stroke="#555" stroke-width="0.5"/>
<line x1="204.05" y1="388.7" x2="254.3" y2="388.7" stroke="#777" stroke-width="1.1"/>
<line x1="204.05" y1="385.2" x2="204.05" y2="392.2" stroke="#777" stroke-width="1.1"/>
<line x1="254.3" y1="384.7" x2="254.3" y2="392.7" stroke="#333" stroke-width="1.4"/>
<text x="250.3" y="400.09999999999997" font-size="9.6" font-weight="bold" text-anchor="end" fill="#000" stroke="#000" stroke-width="0.3">99%</text>
<text x="189.4" y="446.8" font-size="5.5" font-weight="bold" text-anchor="middle" stroke="#000" stroke-width="0.12">10<tspan font-size="3.9" dy="-2.4">0</tspan></text>
<text x="205.3" y="446.8" font-size="5.5" font-weight="bold" text-anchor="middle" stroke="#000" stroke-width="0.12">10<tspan font-size="3.9" dy="-2.4">1</tspan></text>
<text x="221.1" y="446.8" font-size="5.5" font-weight="bold" text-anchor="middle" stroke="#000" stroke-width="0.12">10<tspan font-size="3.9" dy="-2.4">2</tspan></text>
<text x="237.0" y="446.8" font-size="5.5" font-weight="bold" text-anchor="middle" stroke="#000" stroke-width="0.12">10<tspan font-size="3.9" dy="-2.4">3</tspan></text>
<text x="252.8" y="446.8" font-size="5.5" font-weight="bold" text-anchor="middle" stroke="#000" stroke-width="0.12">10<tspan font-size="3.9" dy="-2.4">4</tspan></text>
<polygon points="269.30,438.50 269.30,437.20 269.80,437.79 270.30,436.63 270.80,437.80 271.30,437.57 271.80,437.45 272.30,437.93 272.80,436.70 273.30,436.39 273.80,437.27 274.30,436.42 274.80,436.55 275.30,436.47 275.80,437.36 276.30,437.61 276.80,437.16 277.30,436.63 277.80,437.20 278.30,436.56 278.80,437.69 279.30,437.10 279.80,437.21 280.30,437.28 280.80,437.45 281.30,437.15 281.80,436.99 282.30,437.19 282.80,436.87 283.30,437.75 283.80,437.08 284.30,437.30 284.80,437.48 285.30,436.70 285.80,437.81 286.30,437.04 286.80,437.04 287.30,437.74 287.80,437.02 288.30,436.75 288.80,437.42 289.30,437.09 289.80,437.64 290.30,437.51 290.80,436.89 291.30,436.57 291.80,436.96 292.30,437.17 292.80,436.74 293.30,436.91 293.80,436.72 294.30,436.39 294.80,437.06 295.30,437.29 295.80,436.99 296.30,437.70 296.80,436.52 297.30,436.69 297.80,436.70 298.30,436.48 298.80,434.42 299.30,433.90 299.80,434.50 300.30,433.30 300.80,433.65 301.30,428.51 301.80,425.92 302.30,423.84 302.80,419.58 303.30,416.53 303.80,417.97 304.30,412.33 304.80,409.60 305.30,402.87 305.80,402.64 306.30,400.72 306.80,401.44 307.30,397.01 307.80,395.76 308.30,396.18 308.80,397.64 309.30,396.58 309.80,401.82 310.30,401.03 310.80,403.30 311.30,409.82 311.80,415.43 312.30,421.49 312.80,419.76 313.30,422.43 313.80,424.37 314.30,427.76 314.80,429.27 315.30,432.45 315.80,434.12 316.30,434.21 316.80,434.92 317.30,436.31 317.80,436.94 318.30,436.27 318.80,436.64 319.30,437.29 319.80,437.21 320.30,436.71 320.80,436.84 321.30,436.57 321.80,437.70 322.30,436.89 322.80,436.89 323.30,436.72 323.80,437.46 324.30,437.57 324.80,436.55 325.30,437.24 325.80,436.58 326.30,437.22 326.80,437.01 327.30,436.85 327.80,437.37 328.30,437.67 328.80,436.81 329.30,436.40 329.80,436.49 330.30,437.96 330.80,437.73 331.30,437.31 331.80,436.68 332.30,436.85 332.80,436.44 333.30,437.55 333.80,437.52 334.30,436.91 334.80,436.81 335.30,438.39 335.80,438.17 336.30,437.35 336.30,438.50" fill="#000" stroke="none" stroke-width="1"/>
<rect x="269.3" y="377.7" width="67.0" height="60.80000000000001" fill="none" stroke="#555" stroke-width="0.9"/>
<line x1="269.3" y1="377.7" x2="269.3" y2="438.5" stroke="#333" stroke-width="1.1"/>
<path d="M267.5 381.1h1.8M267.5 384.5h1.8M267.5 387.8h1.8M267.5 391.2h1.8M267.5 394.6h1.8M267.5 398.0h1.8M267.5 401.3h1.8M267.5 404.7h1.8M267.5 408.1h1.8M267.5 411.5h1.8M267.5 414.9h1.8M267.5 418.2h1.8M267.5 421.6h1.8M267.5 425.0h1.8M267.5 428.4h1.8M267.5 431.7h1.8M267.5 435.1h1.8" stroke="#222" stroke-width="0.8"/>
<path d="M269.3 438.5v1.5M274.3 438.5v0.8M277.3 438.5v0.8M279.4 438.5v0.8M281.0 438.5v0.8M282.3 438.5v0.8M283.5 438.5v0.8M284.4 438.5v0.8M285.3 438.5v0.8M286.1 438.5v1.5M291.1 438.5v0.8M294.0 438.5v0.8M296.1 438.5v0.8M297.8 438.5v0.8M299.1 438.5v0.8M300.2 438.5v0.8M301.2 438.5v0.8M302.0 438.5v0.8M302.8 438.5v1.5M307.8 438.5v0.8M310.8 438.5v0.8M312.9 438.5v0.8M314.5 438.5v0.8M315.8 438.5v0.8M317.0 438.5v0.8M317.9 438.5v0.8M318.8 438.5v0.8M319.6 438.5v1.5M324.6 438.5v0.8M327.5 438.5v0.8M329.6 438.5v0.8M331.3 438.5v0.8M332.6 438.5v0.8M333.7 438.5v0.8M334.7 438.5v0.8M335.5 438.5v0.8M336.3 438.5v1.5" stroke="#555" stroke-width="0.5"/>
<line x1="286.05" y1="388.7" x2="336.3" y2="388.7" stroke="#777" stroke-width="1.1"/>
<line x1="286.05" y1="385.2" x2="286.05" y2="392.2" stroke="#777" stroke-width="1.1"/>
<line x1="336.3" y1="384.7" x2="336.3" y2="392.7" stroke="#333" stroke-width="1.4"/>
<text x="332.3" y="400.09999999999997" font-size="9.6" font-weight="bold" text-anchor="end" fill="#000" stroke="#000" stroke-width="0.3">99%</text>
<text x="271.4" y="446.8" font-size="5.5" font-weight="bold" text-anchor="middle" stroke="#000" stroke-width="0.12">10<tspan font-size="3.9" dy="-2.4">0</tspan></text>
<text x="287.3" y="446.8" font-size="5.5" font-weight="bold" text-anchor="middle" stroke="#000" stroke-width="0.12">10<tspan font-size="3.9" dy="-2.4">1</tspan></text>
<text x="303.1" y="446.8" font-size="5.5" font-weight="bold" text-anchor="middle" stroke="#000" stroke-width="0.12">10<tspan font-size="3.9" dy="-2.4">2</tspan></text>
<text x="319.0" y="446.8" font-size="5.5" font-weight="bold" text-anchor="middle" stroke="#000" stroke-width="0.12">10<tspan font-size="3.9" dy="-2.4">3</tspan></text>
<text x="334.8" y="446.8" font-size="5.5" font-weight="bold" text-anchor="middle" stroke="#000" stroke-width="0.12">10<tspan font-size="3.9" dy="-2.4">4</tspan></text>
<polygon points="351.60,438.50 351.60,437.32 352.10,436.45 352.60,437.27 353.10,436.66 353.60,436.55 354.10,436.77 354.60,436.78 355.10,436.86 355.60,436.48 356.10,437.38 356.60,436.62 357.10,436.40 357.60,436.47 358.10,436.73 358.60,437.10 359.10,436.49 359.60,436.76 360.10,437.09 360.60,436.96 361.10,436.36 361.60,436.83 362.10,436.98 362.60,436.78 363.10,436.63 363.60,436.86 364.10,436.67 364.60,436.58 365.10,436.44 365.60,436.75 366.10,436.82 366.60,437.82 367.10,436.34 367.60,436.33 368.10,436.41 368.60,436.38 369.10,436.07 369.60,436.95 370.10,436.99 370.60,436.92 371.10,437.08 371.60,436.54 372.10,436.34 372.60,435.95 373.10,435.87 373.60,435.67 374.10,435.55 374.60,433.89 375.10,433.88 375.60,434.85 376.10,434.84 376.60,432.30 377.10,432.15 377.60,428.04 378.10,427.93 378.60,428.22 379.10,425.42 379.60,425.58 380.10,422.88 380.60,421.19 381.10,418.62 381.60,416.49 382.10,416.54 382.60,416.28 383.10,418.01 383.60,415.67 384.10,416.00 384.60,415.38 385.10,416.97 385.60,414.95 386.10,415.10 386.60,415.33 387.10,409.62 387.60,408.73 388.10,411.91 388.60,409.43 389.10,411.73 389.60,411.59 390.10,414.24 390.60,416.53 391.10,414.98 391.60,414.10 392.10,416.60 392.60,414.35 393.10,417.36 393.60,419.19 394.10,424.19 394.60,428.17 395.10,428.70 395.60,429.87 396.10,433.34 396.60,434.38 397.10,436.51 397.60,436.58 398.10,435.73 398.60,437.21 399.10,436.12 399.60,436.34 400.10,436.77 400.60,436.45 401.10,436.37 401.60,436.71 402.10,437.11 402.60,436.74 403.10,437.35 403.60,437.09 404.10,436.52 404.60,436.25 405.10,436.54 405.60,437.13 406.10,437.15 406.60,436.56 407.10,436.51 407.60,437.49 408.10,436.73 408.60,437.55 409.10,436.58 409.60,437.75 410.10,437.65 410.60,437.53 411.10,436.99 411.60,436.39 412.10,436.83 412.60,436.65 413.10,437.46 413.60,437.16 414.10,436.86 414.60,437.00 415.10,436.67 415.60,437.16 416.10,436.46 416.60,437.88 417.10,436.87 417.60,437.85 418.10,437.91 418.60,438.00 418.60,438.50" fill="#000" stroke="none" stroke-width="1"/>
<rect x="351.6" y="377.7" width="67.0" height="60.80000000000001" fill="none" stroke="#555" stroke-width="0.9"/>
<line x1="351.6" y1="377.7" x2="351.6" y2="438.5" stroke="#333" stroke-width="1.1"/>
<path d="M349.8 381.1h1.8M349.8 384.5h1.8M349.8 387.8h1.8M349.8 391.2h1.8M349.8 394.6h1.8M349.8 398.0h1.8M349.8 401.3h1.8M349.8 404.7h1.8M349.8 408.1h1.8M349.8 411.5h1.8M349.8 414.9h1.8M349.8 418.2h1.8M349.8 421.6h1.8M349.8 425.0h1.8M349.8 428.4h1.8M349.8 431.7h1.8M349.8 435.1h1.8" stroke="#222" stroke-width="0.8"/>
<path d="M351.6 438.5v1.5M356.6 438.5v0.8M359.6 438.5v0.8M361.7 438.5v0.8M363.3 438.5v0.8M364.6 438.5v0.8M365.8 438.5v0.8M366.7 438.5v0.8M367.6 438.5v0.8M368.4 438.5v1.5M373.4 438.5v0.8M376.3 438.5v0.8M378.4 438.5v0.8M380.1 438.5v0.8M381.4 438.5v0.8M382.5 438.5v0.8M383.5 438.5v0.8M384.3 438.5v0.8M385.1 438.5v1.5M390.1 438.5v0.8M393.1 438.5v0.8M395.2 438.5v0.8M396.8 438.5v0.8M398.1 438.5v0.8M399.3 438.5v0.8M400.2 438.5v0.8M401.1 438.5v0.8M401.9 438.5v1.5M406.9 438.5v0.8M409.8 438.5v0.8M411.9 438.5v0.8M413.6 438.5v0.8M414.9 438.5v0.8M416.0 438.5v0.8M417.0 438.5v0.8M417.8 438.5v0.8M418.6 438.5v1.5" stroke="#555" stroke-width="0.5"/>
<line x1="368.35" y1="388.7" x2="418.6" y2="388.7" stroke="#777" stroke-width="1.1"/>
<line x1="368.35" y1="385.2" x2="368.35" y2="392.2" stroke="#777" stroke-width="1.1"/>
<line x1="418.6" y1="384.7" x2="418.6" y2="392.7" stroke="#333" stroke-width="1.4"/>
<text x="414.6" y="400.09999999999997" font-size="9.6" font-weight="bold" text-anchor="end" fill="#000" stroke="#000" stroke-width="0.3">99%</text>
<text x="353.7" y="446.8" font-size="5.5" font-weight="bold" text-anchor="middle" stroke="#000" stroke-width="0.12">10<tspan font-size="3.9" dy="-2.4">0</tspan></text>
<text x="369.6" y="446.8" font-size="5.5" font-weight="bold" text-anchor="middle" stroke="#000" stroke-width="0.12">10<tspan font-size="3.9" dy="-2.4">1</tspan></text>
<text x="385.4" y="446.8" font-size="5.5" font-weight="bold" text-anchor="middle" stroke="#000" stroke-width="0.12">10<tspan font-size="3.9" dy="-2.4">2</tspan></text>
<text x="401.3" y="446.8" font-size="5.5" font-weight="bold" text-anchor="middle" stroke="#000" stroke-width="0.12">10<tspan font-size="3.9" dy="-2.4">3</tspan></text>
<text x="417.1" y="446.8" font-size="5.5" font-weight="bold" text-anchor="middle" stroke="#000" stroke-width="0.12">10<tspan font-size="3.9" dy="-2.4">4</tspan></text>
<polygon points="434.40,438.50 434.40,436.68 434.90,437.45 435.40,437.53 435.90,436.70 436.40,437.02 436.90,437.09 437.40,437.24 437.90,436.49 438.40,436.41 438.90,437.16 439.40,436.63 439.90,437.22 440.40,436.46 440.90,436.72 441.40,437.38 441.90,437.18 442.40,437.54 442.90,437.03 443.40,436.39 443.90,437.51 444.40,436.46 444.90,437.91 445.40,436.85 445.90,436.62 446.40,437.10 446.90,437.80 447.40,437.85 447.90,437.55 448.40,437.68 448.90,437.33 449.40,437.02 449.90,437.17 450.40,435.57 450.90,435.68 451.40,436.05 451.90,436.23 452.40,432.87 452.90,426.73 453.40,423.37 453.90,422.25 454.40,418.37 454.90,412.01 455.40,404.56 455.90,404.02 456.40,400.26 456.90,394.46 457.40,387.93 457.90,392.15 458.40,387.29 458.90,396.55 459.40,398.02 459.90,401.31 460.40,402.02 460.90,409.85 461.40,417.91 461.90,419.74 462.40,421.06 462.90,423.21 463.40,427.30 463.90,430.73 464.40,432.66 464.90,434.54 465.40,434.14 465.90,432.90 466.40,434.12 466.90,435.75 467.40,435.58 467.90,435.92 468.40,436.57 468.90,435.68 469.40,436.86 469.90,435.17 470.40,437.02 470.90,435.86 471.40,437.63 471.90,436.60 472.40,437.16 472.90,436.60 473.40,436.74 473.90,436.32 474.40,437.10 474.90,436.92 475.40,437.86 475.90,437.95 476.40,437.26 476.90,436.78 477.40,437.26 477.90,436.48 478.40,437.10 478.90,436.74 479.40,437.05 479.90,436.40 480.40,437.36 480.90,437.18 481.40,437.47 481.90,436.85 482.40,437.63 482.90,436.43 483.40,436.45 483.90,437.93 484.40,437.84 484.90,436.80 485.40,436.78 485.90,436.57 486.40,437.14 486.90,436.89 487.40,437.46 487.90,436.63 488.40,437.33 488.90,436.43 489.40,437.24 489.90,437.20 490.40,437.60 490.90,436.93 491.40,436.48 491.90,437.22 492.40,438.00 492.90,437.84 493.40,437.17 493.90,437.65 494.40,437.15 494.90,437.05 495.40,436.84 495.90,436.64 496.40,437.74 496.90,437.24 497.40,437.26 497.90,437.13 498.40,437.27 498.90,437.11 499.40,436.38 499.90,436.41 500.40,437.46 500.90,437.73 501.40,438.06 501.40,438.50" fill="#000" stroke="none" stroke-width="1"/>
<rect x="434.4" y="377.7" width="67.0" height="60.80000000000001" fill="none" stroke="#555" stroke-width="0.9"/>
<line x1="434.4" y1="377.7" x2="434.4" y2="438.5" stroke="#333" stroke-width="1.1"/>
<path d="M432.6 381.1h1.8M432.6 384.5h1.8M432.6 387.8h1.8M432.6 391.2h1.8M432.6 394.6h1.8M432.6 398.0h1.8M432.6 401.3h1.8M432.6 404.7h1.8M432.6 408.1h1.8M432.6 411.5h1.8M432.6 414.9h1.8M432.6 418.2h1.8M432.6 421.6h1.8M432.6 425.0h1.8M432.6 428.4h1.8M432.6 431.7h1.8M432.6 435.1h1.8" stroke="#222" stroke-width="0.8"/>
<path d="M434.4 438.5v1.5M439.4 438.5v0.8M442.4 438.5v0.8M444.5 438.5v0.8M446.1 438.5v0.8M447.4 438.5v0.8M448.6 438.5v0.8M449.5 438.5v0.8M450.4 438.5v0.8M451.1 438.5v1.5M456.2 438.5v0.8M459.1 438.5v0.8M461.2 438.5v0.8M462.9 438.5v0.8M464.2 438.5v0.8M465.3 438.5v0.8M466.3 438.5v0.8M467.1 438.5v0.8M467.9 438.5v1.5M472.9 438.5v0.8M475.9 438.5v0.8M478.0 438.5v0.8M479.6 438.5v0.8M480.9 438.5v0.8M482.1 438.5v0.8M483.0 438.5v0.8M483.9 438.5v0.8M484.6 438.5v1.5M489.7 438.5v0.8M492.6 438.5v0.8M494.7 438.5v0.8M496.4 438.5v0.8M497.7 438.5v0.8M498.8 438.5v0.8M499.8 438.5v0.8M500.6 438.5v0.8M501.4 438.5v1.5" stroke="#555" stroke-width="0.5"/>
<line x1="451.15" y1="388.7" x2="501.4" y2="388.7" stroke="#777" stroke-width="1.1"/>
<line x1="451.15" y1="385.2" x2="451.15" y2="392.2" stroke="#777" stroke-width="1.1"/>
<line x1="501.4" y1="384.7" x2="501.4" y2="392.7" stroke="#333" stroke-width="1.4"/>
<text x="497.4" y="400.09999999999997" font-size="9.6" font-weight="bold" text-anchor="end" fill="#000" stroke="#000" stroke-width="0.3">99%</text>
<text x="436.5" y="446.8" font-size="5.5" font-weight="bold" text-anchor="middle" stroke="#000" stroke-width="0.12">10<tspan font-size="3.9" dy="-2.4">0</tspan></text>
<text x="452.4" y="446.8" font-size="5.5" font-weight="bold" text-anchor="middle" stroke="#000" stroke-width="0.12">10<tspan font-size="3.9" dy="-2.4">1</tspan></text>
<text x="468.2" y="446.8" font-size="5.5" font-weight="bold" text-anchor="middle" stroke="#000" stroke-width="0.12">10<tspan font-size="3.9" dy="-2.4">2</tspan></text>
<text x="484.1" y="446.8" font-size="5.5" font-weight="bold" text-anchor="middle" stroke="#000" stroke-width="0.12">10<tspan font-size="3.9" dy="-2.4">3</tspan></text>
<text x="499.9" y="446.8" font-size="5.5" font-weight="bold" text-anchor="middle" stroke="#000" stroke-width="0.12">10<tspan font-size="3.9" dy="-2.4">4</tspan></text>
<polygon points="104.50,511.40 104.50,476.77 105.00,478.54 105.50,476.52 106.00,475.22 106.50,477.27 107.00,473.73 107.50,472.07 108.00,471.86 108.50,468.08 109.00,472.52 109.50,471.82 110.00,471.70 110.50,472.76 111.00,478.67 111.50,480.97 112.00,486.62 112.50,485.88 113.00,487.55 113.50,494.66 114.00,494.93 114.50,496.96 115.00,495.79 115.50,497.06 116.00,499.73 116.50,500.55 117.00,499.51 117.50,502.85 118.00,503.81 118.50,507.07 119.00,506.77 119.50,506.33 120.00,506.71 120.50,508.33 121.00,509.67 121.50,510.17 122.00,510.02 122.50,510.56 123.00,510.35 123.50,509.99 124.00,510.87 124.50,509.57 125.00,510.10 125.50,509.99 126.00,510.05 126.50,510.83 127.00,509.49 127.50,511.02 128.00,510.69 128.50,510.18 129.00,509.41 129.50,509.80 130.00,509.44 130.50,510.44 131.00,510.06 131.50,509.98 132.00,510.62 132.50,510.87 133.00,510.44 133.50,510.88 134.00,511.02 134.50,510.72 135.00,509.52 135.50,509.95 136.00,509.71 136.50,510.02 137.00,510.19 137.50,509.47 138.00,510.43 138.50,510.58 139.00,510.52 139.50,510.90 140.00,511.00 140.50,510.56 141.00,509.92 141.50,510.69 142.00,510.19 142.50,510.53 143.00,509.71 143.50,510.61 144.00,510.24 144.50,509.72 145.00,509.77 145.50,509.45 146.00,511.01 146.50,510.21 147.00,510.70 147.50,509.46 148.00,510.60 148.50,509.62 149.00,510.12 149.50,509.68 150.00,509.63 150.50,509.52 151.00,509.47 151.50,510.32 152.00,509.85 152.50,509.42 153.00,509.63 153.50,510.26 154.00,509.57 154.50,509.66 155.00,510.25 155.50,510.26 156.00,510.26 156.50,509.38 157.00,510.63 157.50,509.35 158.00,510.79 158.50,510.59 159.00,509.73 159.50,509.79 160.00,510.50 160.50,510.51 161.00,510.04 161.50,509.70 162.00,510.36 162.50,510.21 163.00,510.28 163.50,509.57 164.00,509.44 164.50,509.93 165.00,510.59 165.50,510.29 166.00,510.30 166.50,509.93 167.00,510.48 167.50,509.96 168.00,510.11 168.50,510.08 169.00,509.33 169.50,510.30 170.00,510.59 170.50,511.40 171.00,511.40 171.50,511.40 171.50,511.40" fill="#000" stroke="none" stroke-width="1"/>
<rect x="104.5" y="450.6" width="67.0" height="60.799999999999955" fill="none" stroke="#555" stroke-width="0.9"/>
<line x1="104.5" y1="450.6" x2="104.5" y2="511.4" stroke="#333" stroke-width="1.1"/>
<path d="M102.7 454.0h1.8M102.7 457.4h1.8M102.7 460.7h1.8M102.7 464.1h1.8M102.7 467.5h1.8M102.7 470.9h1.8M102.7 474.2h1.8M102.7 477.6h1.8M102.7 481.0h1.8M102.7 484.4h1.8M102.7 487.8h1.8M102.7 491.1h1.8M102.7 494.5h1.8M102.7 497.9h1.8M102.7 501.3h1.8M102.7 504.6h1.8M102.7 508.0h1.8" stroke="#222" stroke-width="0.8"/>
<path d="M104.5 511.4v1.5M109.5 511.4v0.8M112.5 511.4v0.8M114.6 511.4v0.8M116.2 511.4v0.8M117.5 511.4v0.8M118.7 511.4v0.8M119.6 511.4v0.8M120.5 511.4v0.8M121.2 511.4v1.5M126.3 511.4v0.8M129.2 511.4v0.8M131.3 511.4v0.8M133.0 511.4v0.8M134.3 511.4v0.8M135.4 511.4v0.8M136.4 511.4v0.8M137.2 511.4v0.8M138.0 511.4v1.5M143.0 511.4v0.8M146.0 511.4v0.8M148.1 511.4v0.8M149.7 511.4v0.8M151.0 511.4v0.8M152.2 511.4v0.8M153.1 511.4v0.8M154.0 511.4v0.8M154.8 511.4v1.5M159.8 511.4v0.8M162.7 511.4v0.8M164.8 511.4v0.8M166.5 511.4v0.8M167.8 511.4v0.8M168.9 511.4v0.8M169.9 511.4v0.8M170.7 511.4v0.8M171.5 511.4v1.5" stroke="#555" stroke-width="0.5"/>
<line x1="121.25" y1="461.6" x2="171.5" y2="461.6" stroke="#777" stroke-width="1.1"/>
<line x1="121.25" y1="458.1" x2="121.25" y2="465.1" stroke="#777" stroke-width="1.1"/>
<line x1="171.5" y1="457.6" x2="171.5" y2="465.6" stroke="#333" stroke-width="1.4"/>
<text x="167.5" y="473.0" font-size="9.6" font-weight="bold" text-anchor="end" fill="#000" stroke="#000" stroke-width="0.3">0.1%</text>
<text x="106.6" y="519.7" font-size="5.5" font-weight="bold" text-anchor="middle" stroke="#000" stroke-width="0.12">10<tspan font-size="3.9" dy="-2.4">0</tspan></text>
<text x="122.4" y="519.7" font-size="5.5" font-weight="bold" text-anchor="middle" stroke="#000" stroke-width="0.12">10<tspan font-size="3.9" dy="-2.4">1</tspan></text>
<text x="138.3" y="519.7" font-size="5.5" font-weight="bold" text-anchor="middle" stroke="#000" stroke-width="0.12">10<tspan font-size="3.9" dy="-2.4">2</tspan></text>
<text x="154.2" y="519.7" font-size="5.5" font-weight="bold" text-anchor="middle" stroke="#000" stroke-width="0.12">10<tspan font-size="3.9" dy="-2.4">3</tspan></text>
<text x="170.0" y="519.7" font-size="5.5" font-weight="bold" text-anchor="middle" stroke="#000" stroke-width="0.12">10<tspan font-size="3.9" dy="-2.4">4</tspan></text>
<polygon points="187.30,511.40 187.30,509.80 187.80,509.68 188.30,510.17 188.80,509.49 189.30,509.97 189.80,509.65 190.30,510.33 190.80,509.84 191.30,509.87 191.80,509.34 192.30,509.83 192.80,509.59 193.30,510.37 193.80,510.40 194.30,510.57 194.80,509.49 195.30,509.96 195.80,509.72 196.30,510.43 196.80,510.18 197.30,510.13 197.80,509.86 198.30,510.11 198.80,509.85 199.30,509.68 199.80,510.01 200.30,509.66 200.80,510.46 201.30,509.71 201.80,509.33 202.30,509.58 202.80,510.26 203.30,509.65 203.80,509.87 204.30,509.46 204.80,509.97 205.30,509.57 205.80,510.23 206.30,510.03 206.80,509.93 207.30,510.25 207.80,510.07 208.30,510.88 208.80,509.38 209.30,510.67 209.80,510.31 210.30,509.37 210.80,510.00 211.30,510.17 211.80,509.87 212.30,509.29 212.80,510.13 213.30,508.81 213.80,507.65 214.30,507.04 214.80,503.61 215.30,497.64 215.80,493.80 216.30,489.76 216.80,484.98 217.30,475.66 217.80,471.84 218.30,467.80 218.80,465.35 219.30,464.75 219.80,460.90 220.30,460.61 220.80,468.06 221.30,465.77 221.80,467.61 222.30,470.67 222.80,471.56 223.30,473.27 223.80,476.78 224.30,478.53 224.80,483.13 225.30,482.53 225.80,485.78 226.30,488.94 226.80,494.10 227.30,495.83 227.80,496.84 228.30,501.34 228.80,504.89 229.30,508.00 229.80,509.26 230.30,508.72 230.80,509.50 231.30,509.32 231.80,510.68 232.30,509.78 232.80,509.32 233.30,510.31 233.80,509.56 234.30,510.17 234.80,509.81 235.30,509.51 235.80,509.51 236.30,510.04 236.80,509.41 237.30,509.60 237.80,509.91 238.30,510.34 238.80,509.50 239.30,509.87 239.80,510.26 240.30,510.14 240.80,510.69 241.30,510.26 241.80,509.41 242.30,509.75 242.80,509.44 243.30,510.48 243.80,509.82 244.30,509.62 244.80,510.72 245.30,509.93 245.80,510.02 246.30,510.17 246.80,510.98 247.30,509.29 247.80,510.43 248.30,510.34 248.80,509.34 249.30,510.22 249.80,509.81 250.30,510.47 250.80,510.14 251.30,509.31 251.80,510.67 252.30,510.55 252.80,509.51 253.30,510.64 253.80,510.60 254.30,511.40 254.30,511.40" fill="#000" stroke="none" stroke-width="1"/>
<rect x="187.3" y="450.6" width="67.0" height="60.799999999999955" fill="none" stroke="#555" stroke-width="0.9"/>
<line x1="187.3" y1="450.6" x2="187.3" y2="511.4" stroke="#333" stroke-width="1.1"/>
<path d="M185.5 454.0h1.8M185.5 457.4h1.8M185.5 460.7h1.8M185.5 464.1h1.8M185.5 467.5h1.8M185.5 470.9h1.8M185.5 474.2h1.8M185.5 477.6h1.8M185.5 481.0h1.8M185.5 484.4h1.8M185.5 487.8h1.8M185.5 491.1h1.8M185.5 494.5h1.8M185.5 497.9h1.8M185.5 501.3h1.8M185.5 504.6h1.8M185.5 508.0h1.8" stroke="#222" stroke-width="0.8"/>
<path d="M187.3 511.4v1.5M192.3 511.4v0.8M195.3 511.4v0.8M197.4 511.4v0.8M199.0 511.4v0.8M200.3 511.4v0.8M201.5 511.4v0.8M202.4 511.4v0.8M203.3 511.4v0.8M204.1 511.4v1.5M209.1 511.4v0.8M212.0 511.4v0.8M214.1 511.4v0.8M215.8 511.4v0.8M217.1 511.4v0.8M218.2 511.4v0.8M219.2 511.4v0.8M220.0 511.4v0.8M220.8 511.4v1.5M225.8 511.4v0.8M228.8 511.4v0.8M230.9 511.4v0.8M232.5 511.4v0.8M233.8 511.4v0.8M235.0 511.4v0.8M235.9 511.4v0.8M236.8 511.4v0.8M237.6 511.4v1.5M242.6 511.4v0.8M245.5 511.4v0.8M247.6 511.4v0.8M249.3 511.4v0.8M250.6 511.4v0.8M251.7 511.4v0.8M252.7 511.4v0.8M253.5 511.4v0.8M254.3 511.4v1.5" stroke="#555" stroke-width="0.5"/>
<line x1="204.05" y1="461.6" x2="254.3" y2="461.6" stroke="#777" stroke-width="1.1"/>
<line x1="204.05" y1="458.1" x2="204.05" y2="465.1" stroke="#777" stroke-width="1.1"/>
<line x1="254.3" y1="457.6" x2="254.3" y2="465.6" stroke="#333" stroke-width="1.4"/>
<text x="250.3" y="473.0" font-size="9.6" font-weight="bold" text-anchor="end" fill="#000" stroke="#000" stroke-width="0.3">99%</text>
<text x="189.4" y="519.7" font-size="5.5" font-weight="bold" text-anchor="middle" stroke="#000" stroke-width="0.12">10<tspan font-size="3.9" dy="-2.4">0</tspan></text>
<text x="205.3" y="519.7" font-size="5.5" font-weight="bold" text-anchor="middle" stroke="#000" stroke-width="0.12">10<tspan font-size="3.9" dy="-2.4">1</tspan></text>
<text x="221.1" y="519.7" font-size="5.5" font-weight="bold" text-anchor="middle" stroke="#000" stroke-width="0.12">10<tspan font-size="3.9" dy="-2.4">2</tspan></text>
<text x="237.0" y="519.7" font-size="5.5" font-weight="bold" text-anchor="middle" stroke="#000" stroke-width="0.12">10<tspan font-size="3.9" dy="-2.4">3</tspan></text>
<text x="252.8" y="519.7" font-size="5.5" font-weight="bold" text-anchor="middle" stroke="#000" stroke-width="0.12">10<tspan font-size="3.9" dy="-2.4">4</tspan></text>
<polygon points="269.30,511.40 269.30,510.15 269.80,510.61 270.30,509.98 270.80,510.54 271.30,509.36 271.80,510.44 272.30,509.97 272.80,509.83 273.30,510.70 273.80,510.36 274.30,510.14 274.80,509.57 275.30,510.20 275.80,510.86 276.30,510.46 276.80,509.99 277.30,509.39 277.80,509.87 278.30,509.93 278.80,509.39 279.30,509.65 279.80,509.49 280.30,510.42 280.80,509.69 281.30,510.30 281.80,510.42 282.30,510.25 282.80,509.59 283.30,509.58 283.80,509.93 284.30,510.47 284.80,509.43 285.30,510.24 285.80,510.20 286.30,509.66 286.80,510.18 287.30,509.95 287.80,510.20 288.30,509.91 288.80,510.58 289.30,510.00 289.80,510.14 290.30,509.82 290.80,510.27 291.30,509.63 291.80,509.53 292.30,510.01 292.80,509.85 293.30,510.35 293.80,510.42 294.30,510.11 294.80,509.96 295.30,509.61 295.80,510.41 296.30,510.07 296.80,509.99 297.30,509.56 297.80,510.19 298.30,508.47 298.80,507.92 299.30,509.61 299.80,507.15 300.30,506.67 300.80,504.00 301.30,502.14 301.80,496.92 302.30,493.26 302.80,491.55 303.30,488.92 303.80,489.51 304.30,484.32 304.80,479.49 305.30,475.41 305.80,472.87 306.30,468.14 306.80,469.76 307.30,468.12 307.80,464.64 308.30,462.55 308.80,472.00 309.30,470.98 309.80,472.29 310.30,470.92 310.80,474.80 311.30,475.21 311.80,486.37 312.30,486.73 312.80,490.79 313.30,490.22 313.80,493.80 314.30,497.36 314.80,502.61 315.30,505.73 315.80,505.96 316.30,505.85 316.80,508.78 317.30,508.16 317.80,509.74 318.30,510.18 318.80,509.89 319.30,509.83 319.80,509.71 320.30,510.85 320.80,510.17 321.30,510.47 321.80,510.43 322.30,509.77 322.80,510.21 323.30,510.74 323.80,510.58 324.30,510.69 324.80,510.15 325.30,510.30 325.80,510.52 326.30,510.69 326.80,509.42 327.30,509.35 327.80,510.25 328.30,510.08 328.80,510.18 329.30,509.72 329.80,510.86 330.30,510.20 330.80,509.98 331.30,510.04 331.80,510.58 332.30,509.63 332.80,510.15 333.30,509.61 333.80,510.98 334.30,510.75 334.80,509.68 335.30,510.29 335.80,510.60 336.30,510.57 336.30,511.40" fill="#000" stroke="none" stroke-width="1"/>
<rect x="269.3" y="450.6" width="67.0" height="60.799999999999955" fill="none" stroke="#555" stroke-width="0.9"/>
<line x1="269.3" y1="450.6" x2="269.3" y2="511.4" stroke="#333" stroke-width="1.1"/>
<path d="M267.5 454.0h1.8M267.5 457.4h1.8M267.5 460.7h1.8M267.5 464.1h1.8M267.5 467.5h1.8M267.5 470.9h1.8M267.5 474.2h1.8M267.5 477.6h1.8M267.5 481.0h1.8M267.5 484.4h1.8M267.5 487.8h1.8M267.5 491.1h1.8M267.5 494.5h1.8M267.5 497.9h1.8M267.5 501.3h1.8M267.5 504.6h1.8M267.5 508.0h1.8" stroke="#222" stroke-width="0.8"/>
<path d="M269.3 511.4v1.5M274.3 511.4v0.8M277.3 511.4v0.8M279.4 511.4v0.8M281.0 511.4v0.8M282.3 511.4v0.8M283.5 511.4v0.8M284.4 511.4v0.8M285.3 511.4v0.8M286.1 511.4v1.5M291.1 511.4v0.8M294.0 511.4v0.8M296.1 511.4v0.8M297.8 511.4v0.8M299.1 511.4v0.8M300.2 511.4v0.8M301.2 511.4v0.8M302.0 511.4v0.8M302.8 511.4v1.5M307.8 511.4v0.8M310.8 511.4v0.8M312.9 511.4v0.8M314.5 511.4v0.8M315.8 511.4v0.8M317.0 511.4v0.8M317.9 511.4v0.8M318.8 511.4v0.8M319.6 511.4v1.5M324.6 511.4v0.8M327.5 511.4v0.8M329.6 511.4v0.8M331.3 511.4v0.8M332.6 511.4v0.8M333.7 511.4v0.8M334.7 511.4v0.8M335.5 511.4v0.8M336.3 511.4v1.5" stroke="#555" stroke-width="0.5"/>
<line x1="286.05" y1="461.6" x2="336.3" y2="461.6" stroke="#777" stroke-width="1.1"/>
<line x1="286.05" y1="458.1" x2="286.05" y2="465.1" stroke="#777" stroke-width="1.1"/>
<line x1="336.3" y1="457.6" x2="336.3" y2="465.6" stroke="#333" stroke-width="1.4"/>
<text x="332.3" y="473.0" font-size="9.6" font-weight="bold" text-anchor="end" fill="#000" stroke="#000" stroke-width="0.3">99%</text>
<text x="271.4" y="519.7" font-size="5.5" font-weight="bold" text-anchor="middle" stroke="#000" stroke-width="0.12">10<tspan font-size="3.9" dy="-2.4">0</tspan></text>
<text x="287.3" y="519.7" font-size="5.5" font-weight="bold" text-anchor="middle" stroke="#000" stroke-width="0.12">10<tspan font-size="3.9" dy="-2.4">1</tspan></text>
<text x="303.1" y="519.7" font-size="5.5" font-weight="bold" text-anchor="middle" stroke="#000" stroke-width="0.12">10<tspan font-size="3.9" dy="-2.4">2</tspan></text>
<text x="319.0" y="519.7" font-size="5.5" font-weight="bold" text-anchor="middle" stroke="#000" stroke-width="0.12">10<tspan font-size="3.9" dy="-2.4">3</tspan></text>
<text x="334.8" y="519.7" font-size="5.5" font-weight="bold" text-anchor="middle" stroke="#000" stroke-width="0.12">10<tspan font-size="3.9" dy="-2.4">4</tspan></text>
<polygon points="351.60,511.40 351.60,510.01 352.10,509.94 352.60,510.05 353.10,509.45 353.60,509.46 354.10,510.13 354.60,510.38 355.10,509.71 355.60,509.36 356.10,509.51 356.60,509.40 357.10,510.39 357.60,510.11 358.10,509.34 358.60,510.51 359.10,510.22 359.60,510.12 360.10,510.04 360.60,510.29 361.10,510.75 361.60,510.18 362.10,509.82 362.60,509.32 363.10,510.08 363.60,509.66 364.10,509.12 364.60,509.29 365.10,509.87 365.60,509.00 366.10,509.62 366.60,509.20 367.10,509.55 367.60,508.77 368.10,509.34 368.60,510.19 369.10,510.19 369.60,509.24 370.10,509.54 370.60,509.43 371.10,509.19 371.60,509.35 372.10,509.48 372.60,509.03 373.10,509.20 373.60,507.24 374.10,505.25 374.60,505.92 375.10,505.02 375.60,504.20 376.10,502.00 376.60,499.60 377.10,498.77 377.60,499.27 378.10,496.01 378.60,493.69 379.10,491.55 379.60,490.68 380.10,485.79 380.60,484.43 381.10,481.97 381.60,483.20 382.10,483.67 382.60,480.99 383.10,481.27 383.60,481.89 384.10,484.06 384.60,485.12 385.10,486.01 385.60,484.11 386.10,485.32 386.60,483.80 387.10,488.62 387.60,485.43 388.10,487.93 388.60,486.68 389.10,487.40 389.60,488.78 390.10,490.78 390.60,490.64 391.10,491.56 391.60,491.60 392.10,488.30 392.60,491.35 393.10,494.00 393.60,494.10 394.10,493.87 394.60,496.42 395.10,496.13 395.60,495.85 396.10,498.63 396.60,502.66 397.10,505.21 397.60,506.64 398.10,506.99 398.60,508.46 399.10,509.37 399.60,509.43 400.10,510.03 400.60,510.14 401.10,510.29 401.60,509.41 402.10,509.29 402.60,509.99 403.10,510.03 403.60,510.08 404.10,510.12 404.60,509.62 405.10,510.27 405.60,510.14 406.10,510.20 406.60,509.94 407.10,510.22 407.60,510.33 408.10,509.73 408.60,510.46 409.10,510.32 409.60,509.37 410.10,510.02 410.60,510.62 411.10,509.70 411.60,510.78 412.10,510.80 412.60,509.34 413.10,509.93 413.60,510.78 414.10,510.70 414.60,510.13 415.10,510.50 415.60,510.33 416.10,509.67 416.60,510.10 417.10,509.58 417.60,510.75 418.10,511.40 418.60,510.82 418.60,511.40" fill="#000" stroke="none" stroke-width="1"/>
<rect x="351.6" y="450.6" width="67.0" height="60.799999999999955" fill="none" stroke="#555" stroke-width="0.9"/>
<line x1="351.6" y1="450.6" x2="351.6" y2="511.4" stroke="#333" stroke-width="1.1"/>
<path d="M349.8 454.0h1.8M349.8 457.4h1.8M349.8 460.7h1.8M349.8 464.1h1.8M349.8 467.5h1.8M349.8 470.9h1.8M349.8 474.2h1.8M349.8 477.6h1.8M349.8 481.0h1.8M349.8 484.4h1.8M349.8 487.8h1.8M349.8 491.1h1.8M349.8 494.5h1.8M349.8 497.9h1.8M349.8 501.3h1.8M349.8 504.6h1.8M349.8 508.0h1.8" stroke="#222" stroke-width="0.8"/>
<path d="M351.6 511.4v1.5M356.6 511.4v0.8M359.6 511.4v0.8M361.7 511.4v0.8M363.3 511.4v0.8M364.6 511.4v0.8M365.8 511.4v0.8M366.7 511.4v0.8M367.6 511.4v0.8M368.4 511.4v1.5M373.4 511.4v0.8M376.3 511.4v0.8M378.4 511.4v0.8M380.1 511.4v0.8M381.4 511.4v0.8M382.5 511.4v0.8M383.5 511.4v0.8M384.3 511.4v0.8M385.1 511.4v1.5M390.1 511.4v0.8M393.1 511.4v0.8M395.2 511.4v0.8M396.8 511.4v0.8M398.1 511.4v0.8M399.3 511.4v0.8M400.2 511.4v0.8M401.1 511.4v0.8M401.9 511.4v1.5M406.9 511.4v0.8M409.8 511.4v0.8M411.9 511.4v0.8M413.6 511.4v0.8M414.9 511.4v0.8M416.0 511.4v0.8M417.0 511.4v0.8M417.8 511.4v0.8M418.6 511.4v1.5" stroke="#555" stroke-width="0.5"/>
<line x1="368.35" y1="461.6" x2="418.6" y2="461.6" stroke="#777" stroke-width="1.1"/>
<line x1="368.35" y1="458.1" x2="368.35" y2="465.1" stroke="#777" stroke-width="1.1"/>
<line x1="418.6" y1="457.6" x2="418.6" y2="465.6" stroke="#333" stroke-width="1.4"/>
<text x="414.6" y="473.0" font-size="9.6" font-weight="bold" text-anchor="end" fill="#000" stroke="#000" stroke-width="0.3">99%</text>
<text x="353.7" y="519.7" font-size="5.5" font-weight="bold" text-anchor="middle" stroke="#000" stroke-width="0.12">10<tspan font-size="3.9" dy="-2.4">0</tspan></text>
<text x="369.6" y="519.7" font-size="5.5" font-weight="bold" text-anchor="middle" stroke="#000" stroke-width="0.12">10<tspan font-size="3.9" dy="-2.4">1</tspan></text>
<text x="385.4" y="519.7" font-size="5.5" font-weight="bold" text-anchor="middle" stroke="#000" stroke-width="0.12">10<tspan font-size="3.9" dy="-2.4">2</tspan></text>
<text x="401.3" y="519.7" font-size="5.5" font-weight="bold" text-anchor="middle" stroke="#000" stroke-width="0.12">10<tspan font-size="3.9" dy="-2.4">3</tspan></text>
<text x="417.1" y="519.7" font-size="5.5" font-weight="bold" text-anchor="middle" stroke="#000" stroke-width="0.12">10<tspan font-size="3.9" dy="-2.4">4</tspan></text>
<polygon points="434.40,511.40 434.40,510.54 434.90,509.52 435.40,509.63 435.90,510.07 436.40,509.62 436.90,509.59 437.40,509.91 437.90,509.66 438.40,509.77 438.90,510.11 439.40,509.77 439.90,510.58 440.40,509.52 440.90,509.80 441.40,509.49 441.90,509.37 442.40,509.39 442.90,509.40 443.40,509.99 443.90,510.57 444.40,509.36 444.90,509.45 445.40,509.61 445.90,509.37 446.40,509.97 446.90,509.86 447.40,509.60 447.90,510.10 448.40,510.14 448.90,509.40 449.40,510.13 449.90,509.84 450.40,509.41 450.90,509.63 451.40,509.73 451.90,507.99 452.40,507.46 452.90,506.32 453.40,501.63 453.90,495.81 454.40,489.31 454.90,491.24 455.40,479.24 455.90,474.95 456.40,468.88 456.90,469.57 457.40,462.04 457.90,458.11 458.40,455.85 458.90,458.72 459.40,468.08 459.90,468.85 460.40,470.69 460.90,477.52 461.40,485.09 461.90,488.79 462.40,491.04 462.90,494.89 463.40,500.81 463.90,503.88 464.40,503.80 464.90,505.80 465.40,507.51 465.90,507.54 466.40,510.14 466.90,509.43 467.40,509.25 467.90,509.17 468.40,509.49 468.90,509.15 469.40,509.74 469.90,509.70 470.40,509.87 470.90,509.37 471.40,509.62 471.90,509.96 472.40,510.29 472.90,509.92 473.40,510.03 473.90,510.61 474.40,509.84 474.90,510.17 475.40,510.20 475.90,510.10 476.40,509.89 476.90,509.82 477.40,509.77 477.90,510.60 478.40,510.62 478.90,510.15 479.40,510.15 479.90,510.38 480.40,510.25 480.90,509.58 481.40,509.81 481.90,509.72 482.40,509.67 482.90,509.88 483.40,510.18 483.90,510.00 484.40,509.52 484.90,510.44 485.40,509.50 485.90,509.43 486.40,510.00 486.90,510.15 487.40,510.48 487.90,509.32 488.40,509.88 488.90,510.70 489.40,510.87 489.90,510.35 490.40,509.88 490.90,510.20 491.40,509.79 491.90,509.40 492.40,510.06 492.90,510.07 493.40,510.15 493.90,510.68 494.40,509.28 494.90,509.34 495.40,510.74 495.90,509.88 496.40,510.58 496.90,510.49 497.40,509.75 497.90,509.56 498.40,509.98 498.90,510.51 499.40,509.45 499.90,510.04 500.40,511.21 500.90,510.47 501.40,510.60 501.40,511.40" fill="#000" stroke="none" stroke-width="1"/>
<rect x="434.4" y="450.6" width="67.0" height="60.799999999999955" fill="none" stroke="#555" stroke-width="0.9"/>
<line x1="434.4" y1="450.6" x2="434.4" y2="511.4" stroke="#333" stroke-width="1.1"/>
<path d="M432.6 454.0h1.8M432.6 457.4h1.8M432.6 460.7h1.8M432.6 464.1h1.8M432.6 467.5h1.8M432.6 470.9h1.8M432.6 474.2h1.8M432.6 477.6h1.8M432.6 481.0h1.8M432.6 484.4h1.8M432.6 487.8h1.8M432.6 491.1h1.8M432.6 494.5h1.8M432.6 497.9h1.8M432.6 501.3h1.8M432.6 504.6h1.8M432.6 508.0h1.8" stroke="#222" stroke-width="0.8"/>
<path d="M434.4 511.4v1.5M439.4 511.4v0.8M442.4 511.4v0.8M444.5 511.4v0.8M446.1 511.4v0.8M447.4 511.4v0.8M448.6 511.4v0.8M449.5 511.4v0.8M450.4 511.4v0.8M451.1 511.4v1.5M456.2 511.4v0.8M459.1 511.4v0.8M461.2 511.4v0.8M462.9 511.4v0.8M464.2 511.4v0.8M465.3 511.4v0.8M466.3 511.4v0.8M467.1 511.4v0.8M467.9 511.4v1.5M472.9 511.4v0.8M475.9 511.4v0.8M478.0 511.4v0.8M479.6 511.4v0.8M480.9 511.4v0.8M482.1 511.4v0.8M483.0 511.4v0.8M483.9 511.4v0.8M484.6 511.4v1.5M489.7 511.4v0.8M492.6 511.4v0.8M494.7 511.4v0.8M496.4 511.4v0.8M497.7 511.4v0.8M498.8 511.4v0.8M499.8 511.4v0.8M500.6 511.4v0.8M501.4 511.4v1.5" stroke="#555" stroke-width="0.5"/>
<line x1="451.15" y1="461.6" x2="501.4" y2="461.6" stroke="#777" stroke-width="1.1"/>
<line x1="451.15" y1="458.1" x2="451.15" y2="465.1" stroke="#777" stroke-width="1.1"/>
<line x1="501.4" y1="457.6" x2="501.4" y2="465.6" stroke="#333" stroke-width="1.4"/>
<text x="497.4" y="473.0" font-size="9.6" font-weight="bold" text-anchor="end" fill="#000" stroke="#000" stroke-width="0.3">99%</text>
<text x="436.5" y="519.7" font-size="5.5" font-weight="bold" text-anchor="middle" stroke="#000" stroke-width="0.12">10<tspan font-size="3.9" dy="-2.4">0</tspan></text>
<text x="452.4" y="519.7" font-size="5.5" font-weight="bold" text-anchor="middle" stroke="#000" stroke-width="0.12">10<tspan font-size="3.9" dy="-2.4">1</tspan></text>
<text x="468.2" y="519.7" font-size="5.5" font-weight="bold" text-anchor="middle" stroke="#000" stroke-width="0.12">10<tspan font-size="3.9" dy="-2.4">2</tspan></text>
<text x="484.1" y="519.7" font-size="5.5" font-weight="bold" text-anchor="middle" stroke="#000" stroke-width="0.12">10<tspan font-size="3.9" dy="-2.4">3</tspan></text>
<text x="499.9" y="519.7" font-size="5.5" font-weight="bold" text-anchor="middle" stroke="#000" stroke-width="0.12">10<tspan font-size="3.9" dy="-2.4">4</tspan></text>
<text x="137.9" y="551.7" font-size="12" font-weight="bold" text-anchor="middle" fill="#000" stroke="#000" stroke-width="0.3">CD34</text>
<text x="219.5" y="551.7" font-size="12" font-weight="bold" text-anchor="middle" fill="#000" stroke="#000" stroke-width="0.3">CD166</text>
<text x="301.9" y="551.7" font-size="12" font-weight="bold" text-anchor="middle" fill="#000" stroke="#000" stroke-width="0.3">c-kit</text>
<text x="384.5" y="551.7" font-size="12" font-weight="bold" text-anchor="middle" fill="#000" stroke="#000" stroke-width="0.3">CD14</text>
<text x="466.9" y="551.7" font-size="12" font-weight="bold" text-anchor="middle" fill="#000" stroke="#000" stroke-width="0.3">CD45</text>
<polygon points="104.40,617.30 104.40,597.47 104.90,599.30 105.40,599.00 105.90,596.14 106.40,596.76 106.90,595.24 107.40,594.82 107.90,593.88 108.40,592.92 108.90,590.26 109.40,588.19 109.90,586.90 110.40,584.87 110.90,586.51 111.40,584.62 111.90,581.16 112.40,581.70 112.90,583.20 113.40,583.83 113.90,585.91 114.40,590.83 114.90,591.51 115.40,592.35 115.90,596.64 116.40,599.40 116.90,599.67 117.40,601.08 117.90,602.22 118.40,603.21 118.90,603.23 119.40,607.15 119.90,608.04 120.40,609.08 120.90,609.62 121.40,610.40 121.90,610.19 122.40,609.62 122.90,610.61 123.40,610.49 123.90,611.24 124.40,612.54 124.90,611.40 125.40,611.78 125.90,612.00 126.40,612.26 126.90,612.90 127.40,611.13 127.90,613.06 128.40,613.73 128.90,612.86 129.40,612.77 129.90,612.95 130.40,613.79 130.90,613.63 131.40,612.26 131.90,612.80 132.40,614.11 132.90,613.71 133.40,613.95 133.90,612.95 134.40,614.58 134.90,613.02 135.40,614.50 135.90,614.14 136.40,614.42 136.90,613.80 137.40,613.57 137.90,615.23 138.40,613.24 138.90,614.10 139.40,613.82 139.90,615.40 140.40,614.44 140.90,615.21 141.40,614.99 141.90,615.06 142.40,615.61 142.90,614.69 143.40,616.07 143.90,615.79 144.40,615.39 144.90,615.29 145.40,615.36 145.90,615.92 146.40,615.63 146.90,615.71 147.40,615.67 147.90,615.77 148.40,616.45 148.90,615.81 149.40,616.47 149.90,616.54 150.40,616.60 150.90,616.04 151.40,616.85 151.90,615.51 152.40,616.12 152.90,616.10 153.40,616.15 153.90,616.21 154.40,616.76 154.90,616.68 155.40,616.50 155.90,615.55 156.40,616.55 156.90,615.29 157.40,616.31 157.90,616.45 158.40,615.75 158.90,616.46 159.40,616.07 159.90,615.82 160.40,615.45 160.90,616.49 161.40,615.56 161.90,615.21 162.40,615.91 162.90,615.19 163.40,615.20 163.90,616.20 164.40,615.27 164.90,616.01 165.40,616.82 165.90,615.94 166.40,616.31 166.90,615.37 167.40,616.52 167.90,616.10 168.40,616.76 168.90,616.27 169.40,615.97 169.90,616.60 170.40,617.30 170.90,617.30 171.40,617.30 171.40,617.30" fill="#000" stroke="none" stroke-width="1"/>
<rect x="104.4" y="556.4" width="67.0" height="60.89999999999998" fill="none" stroke="#555" stroke-width="0.9"/>
<line x1="104.4" y1="556.4" x2="104.4" y2="617.3" stroke="#333" stroke-width="1.1"/>
<path d="M102.6 559.8h1.8M102.6 563.2h1.8M102.6 566.5h1.8M102.6 569.9h1.8M102.6 573.3h1.8M102.6 576.7h1.8M102.6 580.1h1.8M102.6 583.5h1.8M102.6 586.8h1.8M102.6 590.2h1.8M102.6 593.6h1.8M102.6 597.0h1.8M102.6 600.4h1.8M102.6 603.8h1.8M102.6 607.1h1.8M102.6 610.5h1.8M102.6 613.9h1.8" stroke="#222" stroke-width="0.8"/>
<path d="M104.4 617.3v1.5M109.4 617.3v0.8M112.4 617.3v0.8M114.5 617.3v0.8M116.1 617.3v0.8M117.4 617.3v0.8M118.6 617.3v0.8M119.5 617.3v0.8M120.4 617.3v0.8M121.2 617.3v1.5M126.2 617.3v0.8M129.1 617.3v0.8M131.2 617.3v0.8M132.9 617.3v0.8M134.2 617.3v0.8M135.3 617.3v0.8M136.3 617.3v0.8M137.1 617.3v0.8M137.9 617.3v1.5M142.9 617.3v0.8M145.9 617.3v0.8M148.0 617.3v0.8M149.6 617.3v0.8M150.9 617.3v0.8M152.1 617.3v0.8M153.0 617.3v0.8M153.9 617.3v0.8M154.7 617.3v1.5M159.7 617.3v0.8M162.6 617.3v0.8M164.7 617.3v0.8M166.4 617.3v0.8M167.7 617.3v0.8M168.8 617.3v0.8M169.8 617.3v0.8M170.6 617.3v0.8M171.4 617.3v1.5" stroke="#555" stroke-width="0.5"/>
<line x1="121.15" y1="567.4" x2="171.4" y2="567.4" stroke="#777" stroke-width="1.1"/>
<line x1="121.15" y1="563.9" x2="121.15" y2="570.9" stroke="#777" stroke-width="1.1"/>
<line x1="171.4" y1="563.4" x2="171.4" y2="571.4" stroke="#333" stroke-width="1.4"/>
<text x="168.1" y="579.3" font-size="9.6" font-weight="bold" text-anchor="end" fill="#000" stroke="#000" stroke-width="0.3">11%</text>
<text x="106.5" y="625.6" font-size="5.5" font-weight="bold" text-anchor="middle" stroke="#000" stroke-width="0.12">10<tspan font-size="3.9" dy="-2.4">0</tspan></text>
<text x="122.3" y="625.6" font-size="5.5" font-weight="bold" text-anchor="middle" stroke="#000" stroke-width="0.12">10<tspan font-size="3.9" dy="-2.4">1</tspan></text>
<text x="138.2" y="625.6" font-size="5.5" font-weight="bold" text-anchor="middle" stroke="#000" stroke-width="0.12">10<tspan font-size="3.9" dy="-2.4">2</tspan></text>
<text x="154.1" y="625.6" font-size="5.5" font-weight="bold" text-anchor="middle" stroke="#000" stroke-width="0.12">10<tspan font-size="3.9" dy="-2.4">3</tspan></text>
<text x="169.9" y="625.6" font-size="5.5" font-weight="bold" text-anchor="middle" stroke="#000" stroke-width="0.12">10<tspan font-size="3.9" dy="-2.4">4</tspan></text>
<polygon points="186.00,617.30 186.00,616.23 186.50,616.07 187.00,615.50 187.50,615.21 188.00,616.19 188.50,615.69 189.00,615.34 189.50,615.96 190.00,615.98 190.50,615.84 191.00,616.13 191.50,616.38 192.00,615.28 192.50,616.43 193.00,616.04 193.50,615.18 194.00,615.61 194.50,615.49 195.00,616.03 195.50,616.25 196.00,615.36 196.50,616.15 197.00,615.78 197.50,615.01 198.00,613.60 198.50,612.38 199.00,612.29 199.50,609.46 200.00,605.79 200.50,597.69 201.00,594.26 201.50,593.47 202.00,590.89 202.50,581.68 203.00,573.48 203.50,573.27 204.00,571.69 204.50,569.55 205.00,567.63 205.50,574.40 206.00,575.66 206.50,578.74 207.00,583.28 207.50,585.61 208.00,592.43 208.50,597.79 209.00,597.76 209.50,601.04 210.00,605.83 210.50,609.55 211.00,610.29 211.50,611.17 212.00,611.93 212.50,614.17 213.00,615.29 213.50,614.27 214.00,615.48 214.50,615.63 215.00,615.76 215.50,615.24 216.00,615.78 216.50,615.72 217.00,616.67 217.50,615.74 218.00,616.21 218.50,615.97 219.00,615.93 219.50,616.55 220.00,616.64 220.50,615.60 221.00,615.84 221.50,616.43 222.00,616.46 222.50,616.01 223.00,615.62 223.50,616.80 224.00,616.23 224.50,616.12 225.00,616.38 225.50,616.53 226.00,616.76 226.50,615.79 227.00,616.58 227.50,615.65 228.00,615.80 228.50,615.42 229.00,616.35 229.50,615.25 230.00,616.42 230.50,615.28 231.00,616.77 231.50,616.15 232.00,616.65 232.50,615.48 233.00,616.53 233.50,615.37 234.00,615.49 234.50,615.94 235.00,615.18 235.50,615.30 236.00,615.22 236.50,616.19 237.00,615.50 237.50,616.17 238.00,616.51 238.50,615.52 239.00,615.30 239.50,615.84 240.00,615.22 240.50,615.41 241.00,615.48 241.50,616.85 242.00,616.35 242.50,616.78 243.00,615.66 243.50,615.55 244.00,615.47 244.50,615.19 245.00,616.38 245.50,616.87 246.00,616.70 246.50,615.43 247.00,615.46 247.50,616.69 248.00,615.35 248.50,615.41 249.00,615.38 249.50,615.53 250.00,616.18 250.50,616.76 251.00,616.48 251.50,615.56 252.00,617.30 252.50,617.30 253.00,617.30 253.00,617.30" fill="#000" stroke="none" stroke-width="1"/>
<rect x="186.0" y="556.4" width="67.0" height="60.89999999999998" fill="none" stroke="#555" stroke-width="0.9"/>
<line x1="186.0" y1="556.4" x2="186.0" y2="617.3" stroke="#333" stroke-width="1.1"/>
<path d="M184.2 559.8h1.8M184.2 563.2h1.8M184.2 566.5h1.8M184.2 569.9h1.8M184.2 573.3h1.8M184.2 576.7h1.8M184.2 580.1h1.8M184.2 583.5h1.8M184.2 586.8h1.8M184.2 590.2h1.8M184.2 593.6h1.8M184.2 597.0h1.8M184.2 600.4h1.8M184.2 603.8h1.8M184.2 607.1h1.8M184.2 610.5h1.8M184.2 613.9h1.8" stroke="#222" stroke-width="0.8"/>
<path d="M186.0 617.3v1.5M191.0 617.3v0.8M194.0 617.3v0.8M196.1 617.3v0.8M197.7 617.3v0.8M199.0 617.3v0.8M200.2 617.3v0.8M201.1 617.3v0.8M202.0 617.3v0.8M202.8 617.3v1.5M207.8 617.3v0.8M210.7 617.3v0.8M212.8 617.3v0.8M214.5 617.3v0.8M215.8 617.3v0.8M216.9 617.3v0.8M217.9 617.3v0.8M218.7 617.3v0.8M219.5 617.3v1.5M224.5 617.3v0.8M227.5 617.3v0.8M229.6 617.3v0.8M231.2 617.3v0.8M232.5 617.3v0.8M233.7 617.3v0.8M234.6 617.3v0.8M235.5 617.3v0.8M236.2 617.3v1.5M241.3 617.3v0.8M244.2 617.3v0.8M246.3 617.3v0.8M248.0 617.3v0.8M249.3 617.3v0.8M250.4 617.3v0.8M251.4 617.3v0.8M252.2 617.3v0.8M253.0 617.3v1.5" stroke="#555" stroke-width="0.5"/>
<line x1="202.75" y1="567.4" x2="253.0" y2="567.4" stroke="#777" stroke-width="1.1"/>
<line x1="202.75" y1="563.9" x2="202.75" y2="570.9" stroke="#777" stroke-width="1.1"/>
<line x1="253.0" y1="563.4" x2="253.0" y2="571.4" stroke="#333" stroke-width="1.4"/>
<text x="249.7" y="579.3" font-size="9.6" font-weight="bold" text-anchor="end" fill="#000" stroke="#000" stroke-width="0.3">65%</text>
<text x="188.1" y="625.6" font-size="5.5" font-weight="bold" text-anchor="middle" stroke="#000" stroke-width="0.12">10<tspan font-size="3.9" dy="-2.4">0</tspan></text>
<text x="204.0" y="625.6" font-size="5.5" font-weight="bold" text-anchor="middle" stroke="#000" stroke-width="0.12">10<tspan font-size="3.9" dy="-2.4">1</tspan></text>
<text x="219.8" y="625.6" font-size="5.5" font-weight="bold" text-anchor="middle" stroke="#000" stroke-width="0.12">10<tspan font-size="3.9" dy="-2.4">2</tspan></text>
<text x="235.7" y="625.6" font-size="5.5" font-weight="bold" text-anchor="middle" stroke="#000" stroke-width="0.12">10<tspan font-size="3.9" dy="-2.4">3</tspan></text>
<text x="251.5" y="625.6" font-size="5.5" font-weight="bold" text-anchor="middle" stroke="#000" stroke-width="0.12">10<tspan font-size="3.9" dy="-2.4">4</tspan></text>
<polygon points="268.40,617.30 268.40,593.17 268.90,592.67 269.40,590.13 269.90,591.60 270.40,588.64 270.90,590.80 271.40,585.53 271.90,590.66 272.40,584.11 272.90,583.52 273.40,581.29 273.90,580.33 274.40,577.67 274.90,577.32 275.40,576.52 275.90,576.22 276.40,578.64 276.90,576.71 277.40,575.19 277.90,577.98 278.40,582.18 278.90,581.37 279.40,579.19 279.90,579.22 280.40,580.07 280.90,582.58 281.40,588.21 281.90,590.73 282.40,591.43 282.90,591.53 283.40,591.70 283.90,594.15 284.40,594.37 284.90,594.18 285.40,599.27 285.90,598.15 286.40,598.41 286.90,601.17 287.40,601.84 287.90,603.86 288.40,602.94 288.90,606.01 289.40,604.39 289.90,606.60 290.40,608.03 290.90,609.74 291.40,611.69 291.90,611.61 292.40,610.29 292.90,612.39 293.40,613.05 293.90,614.75 294.40,614.95 294.90,614.89 295.40,614.69 295.90,615.13 296.40,615.03 296.90,615.45 297.40,615.71 297.90,616.02 298.40,616.82 298.90,615.55 299.40,615.64 299.90,616.71 300.40,616.29 300.90,615.48 301.40,616.18 301.90,615.31 302.40,615.96 302.90,615.25 303.40,615.51 303.90,616.78 304.40,615.25 304.90,616.63 305.40,616.11 305.90,616.73 306.40,616.43 306.90,615.83 307.40,615.66 307.90,616.63 308.40,615.21 308.90,616.23 309.40,615.38 309.90,616.30 310.40,615.31 310.90,615.91 311.40,615.21 311.90,615.41 312.40,615.91 312.90,615.30 313.40,616.15 313.90,616.85 314.40,615.83 314.90,615.98 315.40,615.85 315.90,616.22 316.40,615.72 316.90,616.50 317.40,616.23 317.90,616.90 318.40,616.15 318.90,616.17 319.40,615.33 319.90,616.64 320.40,616.70 320.90,616.70 321.40,615.58 321.90,616.57 322.40,615.95 322.90,615.81 323.40,615.73 323.90,616.41 324.40,616.89 324.90,616.55 325.40,616.40 325.90,616.78 326.40,616.39 326.90,615.66 327.40,615.41 327.90,615.54 328.40,615.84 328.90,616.92 329.40,615.29 329.90,616.81 330.40,615.51 330.90,615.95 331.40,615.79 331.90,616.90 332.40,616.01 332.90,615.82 333.40,616.00 333.90,616.61 334.40,617.30 334.90,617.30 335.40,617.30 335.40,617.30" fill="#000" stroke="none" stroke-width="1"/>
<rect x="268.4" y="556.4" width="67.0" height="60.89999999999998" fill="none" stroke="#555" stroke-width="0.9"/>
<line x1="268.4" y1="556.4" x2="268.4" y2="617.3" stroke="#333" stroke-width="1.1"/>
<path d="M266.6 559.8h1.8M266.6 563.2h1.8M266.6 566.5h1.8M266.6 569.9h1.8M266.6 573.3h1.8M266.6 576.7h1.8M266.6 580.1h1.8M266.6 583.5h1.8M266.6 586.8h1.8M266.6 590.2h1.8M266.6 593.6h1.8M266.6 597.0h1.8M266.6 600.4h1.8M266.6 603.8h1.8M266.6 607.1h1.8M266.6 610.5h1.8M266.6 613.9h1.8" stroke="#222" stroke-width="0.8"/>
<path d="M268.4 617.3v1.5M273.4 617.3v0.8M276.4 617.3v0.8M278.5 617.3v0.8M280.1 617.3v0.8M281.4 617.3v0.8M282.6 617.3v0.8M283.5 617.3v0.8M284.4 617.3v0.8M285.1 617.3v1.5M290.2 617.3v0.8M293.1 617.3v0.8M295.2 617.3v0.8M296.9 617.3v0.8M298.2 617.3v0.8M299.3 617.3v0.8M300.3 617.3v0.8M301.1 617.3v0.8M301.9 617.3v1.5M306.9 617.3v0.8M309.9 617.3v0.8M312.0 617.3v0.8M313.6 617.3v0.8M314.9 617.3v0.8M316.1 617.3v0.8M317.0 617.3v0.8M317.9 617.3v0.8M318.6 617.3v1.5M323.7 617.3v0.8M326.6 617.3v0.8M328.7 617.3v0.8M330.4 617.3v0.8M331.7 617.3v0.8M332.8 617.3v0.8M333.8 617.3v0.8M334.6 617.3v0.8M335.4 617.3v1.5" stroke="#555" stroke-width="0.5"/>
<line x1="285.15" y1="567.4" x2="335.4" y2="567.4" stroke="#777" stroke-width="1.1"/>
<line x1="285.15" y1="563.9" x2="285.15" y2="570.9" stroke="#777" stroke-width="1.1"/>
<line x1="335.4" y1="563.4" x2="335.4" y2="571.4" stroke="#333" stroke-width="1.4"/>
<text x="332.09999999999997" y="579.3" font-size="9.6" font-weight="bold" text-anchor="end" fill="#000" stroke="#000" stroke-width="0.3">9.3%</text>
<text x="270.5" y="625.6" font-size="5.5" font-weight="bold" text-anchor="middle" stroke="#000" stroke-width="0.12">10<tspan font-size="3.9" dy="-2.4">0</tspan></text>
<text x="286.4" y="625.6" font-size="5.5" font-weight="bold" text-anchor="middle" stroke="#000" stroke-width="0.12">10<tspan font-size="3.9" dy="-2.4">1</tspan></text>
<text x="302.2" y="625.6" font-size="5.5" font-weight="bold" text-anchor="middle" stroke="#000" stroke-width="0.12">10<tspan font-size="3.9" dy="-2.4">2</tspan></text>
<text x="318.1" y="625.6" font-size="5.5" font-weight="bold" text-anchor="middle" stroke="#000" stroke-width="0.12">10<tspan font-size="3.9" dy="-2.4">3</tspan></text>
<text x="333.9" y="625.6" font-size="5.5" font-weight="bold" text-anchor="middle" stroke="#000" stroke-width="0.12">10<tspan font-size="3.9" dy="-2.4">4</tspan></text>
<polygon points="351.00,617.30 351.00,586.63 351.50,587.04 352.00,586.53 352.50,583.44 353.00,582.32 353.50,583.20 354.00,581.90 354.50,582.65 355.00,579.53 355.50,576.65 356.00,577.29 356.50,577.10 357.00,580.23 357.50,581.26 358.00,583.28 358.50,582.62 359.00,587.83 359.50,590.19 360.00,590.39 360.50,592.27 361.00,592.15 361.50,592.93 362.00,598.37 362.50,598.61 363.00,601.80 363.50,599.30 364.00,600.70 364.50,601.72 365.00,604.39 365.50,608.26 366.00,608.30 366.50,610.88 367.00,611.92 367.50,611.04 368.00,611.96 368.50,613.92 369.00,613.41 369.50,614.24 370.00,615.52 370.50,615.26 371.00,616.62 371.50,615.66 372.00,615.52 372.50,615.39 373.00,615.97 373.50,615.34 374.00,616.32 374.50,616.09 375.00,616.90 375.50,615.86 376.00,616.21 376.50,616.61 377.00,615.97 377.50,616.49 378.00,616.17 378.50,616.86 379.00,616.22 379.50,616.81 380.00,616.14 380.50,615.95 381.00,616.14 381.50,615.92 382.00,615.37 382.50,616.29 383.00,615.42 383.50,615.39 384.00,616.29 384.50,616.70 385.00,615.49 385.50,615.23 386.00,615.71 386.50,616.72 387.00,615.80 387.50,616.04 388.00,616.23 388.50,616.24 389.00,616.15 389.50,615.67 390.00,615.50 390.50,616.80 391.00,616.17 391.50,615.90 392.00,615.64 392.50,615.39 393.00,616.04 393.50,615.59 394.00,616.93 394.50,615.23 395.00,615.36 395.50,616.13 396.00,615.65 396.50,616.57 397.00,616.28 397.50,615.92 398.00,615.56 398.50,615.38 399.00,615.77 399.50,616.03 400.00,615.54 400.50,615.28 401.00,615.51 401.50,616.45 402.00,615.28 402.50,615.38 403.00,616.38 403.50,615.27 404.00,616.77 404.50,615.23 405.00,616.81 405.50,616.36 406.00,615.58 406.50,616.56 407.00,616.89 407.50,616.72 408.00,615.22 408.50,616.66 409.00,615.30 409.50,616.03 410.00,615.66 410.50,616.06 411.00,616.51 411.50,616.46 412.00,616.74 412.50,616.27 413.00,615.30 413.50,615.85 414.00,616.50 414.50,616.42 415.00,616.31 415.50,615.67 416.00,615.41 416.50,615.19 417.00,617.30 417.50,617.30 418.00,617.30 418.00,617.30" fill="#000" stroke="none" stroke-width="1"/>
<rect x="351.0" y="556.4" width="67.0" height="60.89999999999998" fill="none" stroke="#555" stroke-width="0.9"/>
<line x1="351.0" y1="556.4" x2="351.0" y2="617.3" stroke="#333" stroke-width="1.1"/>
<path d="M349.2 559.8h1.8M349.2 563.2h1.8M349.2 566.5h1.8M349.2 569.9h1.8M349.2 573.3h1.8M349.2 576.7h1.8M349.2 580.1h1.8M349.2 583.5h1.8M349.2 586.8h1.8M349.2 590.2h1.8M349.2 593.6h1.8M349.2 597.0h1.8M349.2 600.4h1.8M349.2 603.8h1.8M349.2 607.1h1.8M349.2 610.5h1.8M349.2 613.9h1.8" stroke="#222" stroke-width="0.8"/>
<path d="M351.0 617.3v1.5M356.0 617.3v0.8M359.0 617.3v0.8M361.1 617.3v0.8M362.7 617.3v0.8M364.0 617.3v0.8M365.2 617.3v0.8M366.1 617.3v0.8M367.0 617.3v0.8M367.8 617.3v1.5M372.8 617.3v0.8M375.7 617.3v0.8M377.8 617.3v0.8M379.5 617.3v0.8M380.8 617.3v0.8M381.9 617.3v0.8M382.9 617.3v0.8M383.7 617.3v0.8M384.5 617.3v1.5M389.5 617.3v0.8M392.5 617.3v0.8M394.6 617.3v0.8M396.2 617.3v0.8M397.5 617.3v0.8M398.7 617.3v0.8M399.6 617.3v0.8M400.5 617.3v0.8M401.2 617.3v1.5M406.3 617.3v0.8M409.2 617.3v0.8M411.3 617.3v0.8M413.0 617.3v0.8M414.3 617.3v0.8M415.4 617.3v0.8M416.4 617.3v0.8M417.2 617.3v0.8M418.0 617.3v1.5" stroke="#555" stroke-width="0.5"/>
<line x1="367.75" y1="567.4" x2="418.0" y2="567.4" stroke="#777" stroke-width="1.1"/>
<line x1="367.75" y1="563.9" x2="367.75" y2="570.9" stroke="#777" stroke-width="1.1"/>
<line x1="418.0" y1="563.4" x2="418.0" y2="571.4" stroke="#333" stroke-width="1.4"/>
<text x="414.7" y="579.3" font-size="9.6" font-weight="bold" text-anchor="end" fill="#000" stroke="#000" stroke-width="0.3">0.2%</text>
<text x="353.1" y="625.6" font-size="5.5" font-weight="bold" text-anchor="middle" stroke="#000" stroke-width="0.12">10<tspan font-size="3.9" dy="-2.4">0</tspan></text>
<text x="369.0" y="625.6" font-size="5.5" font-weight="bold" text-anchor="middle" stroke="#000" stroke-width="0.12">10<tspan font-size="3.9" dy="-2.4">1</tspan></text>
<text x="384.8" y="625.6" font-size="5.5" font-weight="bold" text-anchor="middle" stroke="#000" stroke-width="0.12">10<tspan font-size="3.9" dy="-2.4">2</tspan></text>
<text x="400.7" y="625.6" font-size="5.5" font-weight="bold" text-anchor="middle" stroke="#000" stroke-width="0.12">10<tspan font-size="3.9" dy="-2.4">3</tspan></text>
<text x="416.5" y="625.6" font-size="5.5" font-weight="bold" text-anchor="middle" stroke="#000" stroke-width="0.12">10<tspan font-size="3.9" dy="-2.4">4</tspan></text>
<polygon points="433.40,617.30 433.40,594.50 433.90,594.10 434.40,592.29 434.90,592.35 435.40,591.17 435.90,593.24 436.40,593.79 436.90,591.00 437.40,589.20 437.90,589.23 438.40,591.60 438.90,588.83 439.40,587.67 439.90,587.49 440.40,588.95 440.90,586.01 441.40,584.68 441.90,584.60 442.40,584.98 442.90,583.12 443.40,582.49 443.90,586.11 444.40,590.38 444.90,594.49 445.40,595.95 445.90,600.64 446.40,602.14 446.90,604.77 447.40,610.09 447.90,611.48 448.40,612.36 448.90,612.52 449.40,614.50 449.90,615.64 450.40,615.59 450.90,615.64 451.40,616.64 451.90,615.87 452.40,615.68 452.90,615.49 453.40,616.25 453.90,616.44 454.40,616.45 454.90,616.34 455.40,616.25 455.90,615.80 456.40,616.55 456.90,616.17 457.40,615.34 457.90,616.79 458.40,615.54 458.90,616.48 459.40,615.72 459.90,615.59 460.40,615.66 460.90,615.21 461.40,615.66 461.90,616.31 462.40,616.20 462.90,616.27 463.40,616.80 463.90,616.24 464.40,616.43 464.90,615.18 465.40,616.64 465.90,616.27 466.40,615.62 466.90,615.56 467.40,615.71 467.90,615.62 468.40,615.77 468.90,616.09 469.40,616.76 469.90,615.28 470.40,616.24 470.90,616.15 471.40,616.33 471.90,615.93 472.40,616.18 472.90,616.08 473.40,616.21 473.90,616.74 474.40,616.82 474.90,616.50 475.40,615.69 475.90,615.66 476.40,616.79 476.90,615.97 477.40,616.35 477.90,615.31 478.40,615.38 478.90,616.34 479.40,615.60 479.90,615.81 480.40,616.40 480.90,615.90 481.40,616.90 481.90,616.39 482.40,615.95 482.90,615.84 483.40,615.69 483.90,615.34 484.40,615.28 484.90,615.49 485.40,615.88 485.90,616.13 486.40,616.27 486.90,616.31 487.40,616.70 487.90,616.39 488.40,615.98 488.90,616.33 489.40,616.58 489.90,615.73 490.40,616.34 490.90,615.90 491.40,616.75 491.90,615.86 492.40,616.20 492.90,615.22 493.40,616.75 493.90,616.44 494.40,615.61 494.90,616.13 495.40,615.84 495.90,615.21 496.40,615.95 496.90,616.74 497.40,616.61 497.90,615.62 498.40,616.83 498.90,615.58 499.40,617.30 499.90,617.30 500.40,617.30 500.40,617.30" fill="#000" stroke="none" stroke-width="1"/>
<rect x="433.4" y="556.4" width="67.0" height="60.89999999999998" fill="none" stroke="#555" stroke-width="0.9"/>
<line x1="433.4" y1="556.4" x2="433.4" y2="617.3" stroke="#333" stroke-width="1.1"/>
<path d="M431.6 559.8h1.8M431.6 563.2h1.8M431.6 566.5h1.8M431.6 569.9h1.8M431.6 573.3h1.8M431.6 576.7h1.8M431.6 580.1h1.8M431.6 583.5h1.8M431.6 586.8h1.8M431.6 590.2h1.8M431.6 593.6h1.8M431.6 597.0h1.8M431.6 600.4h1.8M431.6 603.8h1.8M431.6 607.1h1.8M431.6 610.5h1.8M431.6 613.9h1.8" stroke="#222" stroke-width="0.8"/>
<path d="M433.4 617.3v1.5M438.4 617.3v0.8M441.4 617.3v0.8M443.5 617.3v0.8M445.1 617.3v0.8M446.4 617.3v0.8M447.6 617.3v0.8M448.5 617.3v0.8M449.4 617.3v0.8M450.1 617.3v1.5M455.2 617.3v0.8M458.1 617.3v0.8M460.2 617.3v0.8M461.9 617.3v0.8M463.2 617.3v0.8M464.3 617.3v0.8M465.3 617.3v0.8M466.1 617.3v0.8M466.9 617.3v1.5M471.9 617.3v0.8M474.9 617.3v0.8M477.0 617.3v0.8M478.6 617.3v0.8M479.9 617.3v0.8M481.1 617.3v0.8M482.0 617.3v0.8M482.9 617.3v0.8M483.6 617.3v1.5M488.7 617.3v0.8M491.6 617.3v0.8M493.7 617.3v0.8M495.4 617.3v0.8M496.7 617.3v0.8M497.8 617.3v0.8M498.8 617.3v0.8M499.6 617.3v0.8M500.4 617.3v1.5" stroke="#555" stroke-width="0.5"/>
<line x1="450.15" y1="567.4" x2="500.4" y2="567.4" stroke="#777" stroke-width="1.1"/>
<line x1="450.15" y1="563.9" x2="450.15" y2="570.9" stroke="#777" stroke-width="1.1"/>
<line x1="500.4" y1="563.4" x2="500.4" y2="571.4" stroke="#333" stroke-width="1.4"/>
<text x="497.09999999999997" y="579.3" font-size="9.6" font-weight="bold" text-anchor="end" fill="#000" stroke="#000" stroke-width="0.3">0.3%</text>
<text x="435.5" y="625.6" font-size="5.5" font-weight="bold" text-anchor="middle" stroke="#000" stroke-width="0.12">10<tspan font-size="3.9" dy="-2.4">0</tspan></text>
<text x="451.4" y="625.6" font-size="5.5" font-weight="bold" text-anchor="middle" stroke="#000" stroke-width="0.12">10<tspan font-size="3.9" dy="-2.4">1</tspan></text>
<text x="467.2" y="625.6" font-size="5.5" font-weight="bold" text-anchor="middle" stroke="#000" stroke-width="0.12">10<tspan font-size="3.9" dy="-2.4">2</tspan></text>
<text x="483.1" y="625.6" font-size="5.5" font-weight="bold" text-anchor="middle" stroke="#000" stroke-width="0.12">10<tspan font-size="3.9" dy="-2.4">3</tspan></text>
<text x="498.9" y="625.6" font-size="5.5" font-weight="bold" text-anchor="middle" stroke="#000" stroke-width="0.12">10<tspan font-size="3.9" dy="-2.4">4</tspan></text>
<polygon points="104.40,689.20 104.40,661.39 104.90,661.43 105.40,660.39 105.90,661.22 106.40,659.26 106.90,661.70 107.40,659.88 107.90,660.13 108.40,654.96 108.90,656.40 109.40,653.55 109.90,652.31 110.40,651.71 110.90,649.24 111.40,649.22 111.90,645.75 112.40,650.02 112.90,647.87 113.40,645.76 113.90,644.31 114.40,643.32 114.90,648.97 115.40,651.36 115.90,655.20 116.40,657.92 116.90,657.62 117.40,660.23 117.90,664.71 118.40,667.00 118.90,670.63 119.40,671.68 119.90,672.26 120.40,672.53 120.90,672.46 121.40,675.81 121.90,680.85 122.40,679.83 122.90,678.74 123.40,680.31 123.90,681.72 124.40,681.08 124.90,681.86 125.40,681.78 125.90,683.60 126.40,682.30 126.90,682.95 127.40,683.98 127.90,683.08 128.40,684.54 128.90,683.56 129.40,684.08 129.90,684.36 130.40,684.10 130.90,685.91 131.40,683.98 131.90,684.97 132.40,685.97 132.90,684.30 133.40,685.09 133.90,686.39 134.40,685.65 134.90,685.90 135.40,685.79 135.90,685.39 136.40,686.45 136.90,686.27 137.40,686.54 137.90,687.34 138.40,686.92 138.90,686.25 139.40,686.99 139.90,686.72 140.40,687.58 140.90,687.28 141.40,687.21 141.90,687.74 142.40,687.58 142.90,688.02 143.40,687.29 143.90,687.88 144.40,687.99 144.90,688.78 145.40,687.67 145.90,688.03 146.40,687.28 146.90,687.45 147.40,688.56 147.90,687.99 148.40,688.27 148.90,687.25 149.40,687.11 149.90,688.21 150.40,688.65 150.90,688.33 151.40,688.45 151.90,688.07 152.40,688.42 152.90,688.62 153.40,688.51 153.90,687.36 154.40,688.20 154.90,688.13 155.40,688.09 155.90,687.70 156.40,688.59 156.90,687.15 157.40,687.47 157.90,687.26 158.40,687.48 158.90,687.45 159.40,687.57 159.90,688.29 160.40,688.42 160.90,687.41 161.40,687.81 161.90,688.26 162.40,687.32 162.90,688.76 163.40,687.29 163.90,688.56 164.40,687.88 164.90,687.87 165.40,687.73 165.90,688.81 166.40,687.73 166.90,688.71 167.40,688.57 167.90,688.32 168.40,687.21 168.90,688.50 169.40,687.56 169.90,687.33 170.40,689.20 170.90,689.20 171.40,689.20 171.40,689.20" fill="#000" stroke="none" stroke-width="1"/>
<rect x="104.4" y="628.6" width="67.0" height="60.60000000000002" fill="none" stroke="#555" stroke-width="0.9"/>
<line x1="104.4" y1="628.6" x2="104.4" y2="689.2" stroke="#333" stroke-width="1.1"/>
<path d="M102.6 632.0h1.8M102.6 635.3h1.8M102.6 638.7h1.8M102.6 642.1h1.8M102.6 645.4h1.8M102.6 648.8h1.8M102.6 652.2h1.8M102.6 655.5h1.8M102.6 658.9h1.8M102.6 662.3h1.8M102.6 665.6h1.8M102.6 669.0h1.8M102.6 672.4h1.8M102.6 675.7h1.8M102.6 679.1h1.8M102.6 682.5h1.8M102.6 685.8h1.8" stroke="#222" stroke-width="0.8"/>
<path d="M104.4 689.2v1.5M109.4 689.2v0.8M112.4 689.2v0.8M114.5 689.2v0.8M116.1 689.2v0.8M117.4 689.2v0.8M118.6 689.2v0.8M119.5 689.2v0.8M120.4 689.2v0.8M121.2 689.2v1.5M126.2 689.2v0.8M129.1 689.2v0.8M131.2 689.2v0.8M132.9 689.2v0.8M134.2 689.2v0.8M135.3 689.2v0.8M136.3 689.2v0.8M137.1 689.2v0.8M137.9 689.2v1.5M142.9 689.2v0.8M145.9 689.2v0.8M148.0 689.2v0.8M149.6 689.2v0.8M150.9 689.2v0.8M152.1 689.2v0.8M153.0 689.2v0.8M153.9 689.2v0.8M154.7 689.2v1.5M159.7 689.2v0.8M162.6 689.2v0.8M164.7 689.2v0.8M166.4 689.2v0.8M167.7 689.2v0.8M168.8 689.2v0.8M169.8 689.2v0.8M170.6 689.2v0.8M171.4 689.2v1.5" stroke="#555" stroke-width="0.5"/>
<line x1="121.15" y1="639.8000000000001" x2="171.4" y2="639.8000000000001" stroke="#777" stroke-width="1.1"/>
<line x1="121.15" y1="636.3000000000001" x2="121.15" y2="643.3000000000001" stroke="#777" stroke-width="1.1"/>
<line x1="171.4" y1="635.8000000000001" x2="171.4" y2="643.8000000000001" stroke="#333" stroke-width="1.4"/>
<text x="168.1" y="651.7" font-size="9.6" font-weight="bold" text-anchor="end" fill="#000" stroke="#000" stroke-width="0.3">8.7%</text>
<text x="106.5" y="697.5" font-size="5.5" font-weight="bold" text-anchor="middle" stroke="#000" stroke-width="0.12">10<tspan font-size="3.9" dy="-2.4">0</tspan></text>
<text x="122.3" y="697.5" font-size="5.5" font-weight="bold" text-anchor="middle" stroke="#000" stroke-width="0.12">10<tspan font-size="3.9" dy="-2.4">1</tspan></text>
<text x="138.2" y="697.5" font-size="5.5" font-weight="bold" text-anchor="middle" stroke="#000" stroke-width="0.12">10<tspan font-size="3.9" dy="-2.4">2</tspan></text>
<text x="154.1" y="697.5" font-size="5.5" font-weight="bold" text-anchor="middle" stroke="#000" stroke-width="0.12">10<tspan font-size="3.9" dy="-2.4">3</tspan></text>
<text x="169.9" y="697.5" font-size="5.5" font-weight="bold" text-anchor="middle" stroke="#000" stroke-width="0.12">10<tspan font-size="3.9" dy="-2.4">4</tspan></text>
<polygon points="186.00,689.20 186.00,687.20 186.50,687.50 187.00,687.54 187.50,686.82 188.00,685.86 188.50,685.52 189.00,681.72 189.50,678.62 190.00,672.82 190.50,670.55 191.00,673.14 191.50,668.06 192.00,666.21 192.50,656.85 193.00,655.74 193.50,652.05 194.00,653.69 194.50,650.47 195.00,645.25 195.50,649.78 196.00,643.78 196.50,645.94 197.00,643.63 197.50,650.98 198.00,652.85 198.50,652.17 199.00,656.80 199.50,654.65 200.00,659.91 200.50,664.31 201.00,669.21 201.50,668.49 202.00,668.59 202.50,676.19 203.00,677.25 203.50,682.40 204.00,681.68 204.50,684.04 205.00,684.20 205.50,687.23 206.00,687.25 206.50,687.12 207.00,687.67 207.50,687.37 208.00,687.56 208.50,688.36 209.00,687.73 209.50,687.68 210.00,687.59 210.50,687.09 211.00,688.36 211.50,687.84 212.00,687.15 212.50,688.22 213.00,688.05 213.50,687.12 214.00,687.18 214.50,687.15 215.00,687.18 215.50,687.55 216.00,688.40 216.50,688.32 217.00,687.35 217.50,687.87 218.00,688.27 218.50,688.53 219.00,688.32 219.50,687.23 220.00,687.77 220.50,687.99 221.00,687.65 221.50,688.30 222.00,687.95 222.50,688.00 223.00,687.30 223.50,688.17 224.00,688.81 224.50,687.67 225.00,688.06 225.50,688.63 226.00,688.03 226.50,688.46 227.00,687.52 227.50,688.46 228.00,687.18 228.50,688.33 229.00,687.61 229.50,688.24 230.00,687.35 230.50,687.63 231.00,688.44 231.50,687.73 232.00,687.77 232.50,688.72 233.00,688.30 233.50,688.30 234.00,688.31 234.50,687.21 235.00,688.81 235.50,688.01 236.00,687.72 236.50,687.10 237.00,688.05 237.50,688.67 238.00,687.75 238.50,687.99 239.00,688.78 239.50,688.74 240.00,688.12 240.50,687.96 241.00,687.08 241.50,688.66 242.00,688.63 242.50,688.44 243.00,687.63 243.50,687.57 244.00,688.46 244.50,688.45 245.00,687.21 245.50,688.77 246.00,687.77 246.50,687.52 247.00,688.30 247.50,687.22 248.00,687.45 248.50,687.63 249.00,688.71 249.50,688.33 250.00,688.03 250.50,687.57 251.00,687.28 251.50,688.79 252.00,689.20 252.50,689.20 253.00,689.20 253.00,689.20" fill="#000" stroke="none" stroke-width="1"/>
<rect x="186.0" y="628.6" width="67.0" height="60.60000000000002" fill="none" stroke="#555" stroke-width="0.9"/>
<line x1="186.0" y1="628.6" x2="186.0" y2="689.2" stroke="#333" stroke-width="1.1"/>
<path d="M184.2 632.0h1.8M184.2 635.3h1.8M184.2 638.7h1.8M184.2 642.1h1.8M184.2 645.4h1.8M184.2 648.8h1.8M184.2 652.2h1.8M184.2 655.5h1.8M184.2 658.9h1.8M184.2 662.3h1.8M184.2 665.6h1.8M184.2 669.0h1.8M184.2 672.4h1.8M184.2 675.7h1.8M184.2 679.1h1.8M184.2 682.5h1.8M184.2 685.8h1.8" stroke="#222" stroke-width="0.8"/>
<path d="M186.0 689.2v1.5M191.0 689.2v0.8M194.0 689.2v0.8M196.1 689.2v0.8M197.7 689.2v0.8M199.0 689.2v0.8M200.2 689.2v0.8M201.1 689.2v0.8M202.0 689.2v0.8M202.8 689.2v1.5M207.8 689.2v0.8M210.7 689.2v0.8M212.8 689.2v0.8M214.5 689.2v0.8M215.8 689.2v0.8M216.9 689.2v0.8M217.9 689.2v0.8M218.7 689.2v0.8M219.5 689.2v1.5M224.5 689.2v0.8M227.5 689.2v0.8M229.6 689.2v0.8M231.2 689.2v0.8M232.5 689.2v0.8M233.7 689.2v0.8M234.6 689.2v0.8M235.5 689.2v0.8M236.2 689.2v1.5M241.3 689.2v0.8M244.2 689.2v0.8M246.3 689.2v0.8M248.0 689.2v0.8M249.3 689.2v0.8M250.4 689.2v0.8M251.4 689.2v0.8M252.2 689.2v0.8M253.0 689.2v1.5" stroke="#555" stroke-width="0.5"/>
<line x1="202.75" y1="639.8000000000001" x2="253.0" y2="639.8000000000001" stroke="#777" stroke-width="1.1"/>
<line x1="202.75" y1="636.3000000000001" x2="202.75" y2="643.3000000000001" stroke="#777" stroke-width="1.1"/>
<line x1="253.0" y1="635.8000000000001" x2="253.0" y2="643.8000000000001" stroke="#333" stroke-width="1.4"/>
<text x="249.7" y="651.7" font-size="9.6" font-weight="bold" text-anchor="end" fill="#000" stroke="#000" stroke-width="0.3">1.0%</text>
<text x="188.1" y="697.5" font-size="5.5" font-weight="bold" text-anchor="middle" stroke="#000" stroke-width="0.12">10<tspan font-size="3.9" dy="-2.4">0</tspan></text>
<text x="204.0" y="697.5" font-size="5.5" font-weight="bold" text-anchor="middle" stroke="#000" stroke-width="0.12">10<tspan font-size="3.9" dy="-2.4">1</tspan></text>
<text x="219.8" y="697.5" font-size="5.5" font-weight="bold" text-anchor="middle" stroke="#000" stroke-width="0.12">10<tspan font-size="3.9" dy="-2.4">2</tspan></text>
<text x="235.7" y="697.5" font-size="5.5" font-weight="bold" text-anchor="middle" stroke="#000" stroke-width="0.12">10<tspan font-size="3.9" dy="-2.4">3</tspan></text>
<text x="251.5" y="697.5" font-size="5.5" font-weight="bold" text-anchor="middle" stroke="#000" stroke-width="0.12">10<tspan font-size="3.9" dy="-2.4">4</tspan></text>
<polygon points="268.40,689.20 268.40,688.65 268.90,688.08 269.40,688.30 269.90,688.25 270.40,688.46 270.90,688.16 271.40,687.82 271.90,687.45 272.40,687.37 272.90,687.49 273.40,687.77 273.90,685.67 274.40,684.53 274.90,682.66 275.40,683.51 275.90,681.72 276.40,675.90 276.90,672.81 277.40,670.53 277.90,667.46 278.40,666.28 278.90,662.73 279.40,660.72 279.90,655.47 280.40,654.73 280.90,653.30 281.40,651.04 281.90,648.19 282.40,644.72 282.90,641.12 283.40,641.73 283.90,645.51 284.40,654.35 284.90,650.61 285.40,655.11 285.90,656.30 286.40,664.05 286.90,669.34 287.40,674.78 287.90,674.17 288.40,675.74 288.90,678.41 289.40,682.87 289.90,685.28 290.40,686.65 290.90,687.64 291.40,687.87 291.90,687.60 292.40,688.36 292.90,687.87 293.40,688.08 293.90,688.49 294.40,687.84 294.90,688.28 295.40,687.41 295.90,687.45 296.40,688.39 296.90,687.82 297.40,687.96 297.90,687.72 298.40,687.97 298.90,688.60 299.40,687.66 299.90,688.21 300.40,687.39 300.90,687.12 301.40,687.38 301.90,687.85 302.40,688.37 302.90,687.99 303.40,688.65 303.90,687.14 304.40,688.06 304.90,688.40 305.40,688.31 305.90,688.37 306.40,688.00 306.90,687.08 307.40,688.07 307.90,688.02 308.40,688.17 308.90,687.11 309.40,688.64 309.90,688.54 310.40,687.96 310.90,688.75 311.40,687.36 311.90,687.32 312.40,688.06 312.90,688.35 313.40,687.19 313.90,687.45 314.40,688.07 314.90,688.21 315.40,687.97 315.90,688.49 316.40,688.46 316.90,688.41 317.40,688.77 317.90,687.24 318.40,688.71 318.90,687.21 319.40,688.82 319.90,687.68 320.40,687.88 320.90,688.76 321.40,687.18 321.90,687.55 322.40,687.29 322.90,688.07 323.40,688.32 323.90,688.51 324.40,688.64 324.90,687.66 325.40,687.39 325.90,688.46 326.40,688.79 326.90,688.20 327.40,688.57 327.90,688.44 328.40,688.45 328.90,687.67 329.40,688.07 329.90,687.85 330.40,688.15 330.90,687.11 331.40,687.96 331.90,688.76 332.40,688.59 332.90,687.55 333.40,687.23 333.90,688.62 334.40,689.20 334.90,689.20 335.40,689.20 335.40,689.20" fill="#000" stroke="none" stroke-width="1"/>
<rect x="268.4" y="628.6" width="67.0" height="60.60000000000002" fill="none" stroke="#555" stroke-width="0.9"/>
<line x1="268.4" y1="628.6" x2="268.4" y2="689.2" stroke="#333" stroke-width="1.1"/>
<path d="M266.6 632.0h1.8M266.6 635.3h1.8M266.6 638.7h1.8M266.6 642.1h1.8M266.6 645.4h1.8M266.6 648.8h1.8M266.6 652.2h1.8M266.6 655.5h1.8M266.6 658.9h1.8M266.6 662.3h1.8M266.6 665.6h1.8M266.6 669.0h1.8M266.6 672.4h1.8M266.6 675.7h1.8M266.6 679.1h1.8M266.6 682.5h1.8M266.6 685.8h1.8" stroke="#222" stroke-width="0.8"/>
<path d="M268.4 689.2v1.5M273.4 689.2v0.8M276.4 689.2v0.8M278.5 689.2v0.8M280.1 689.2v0.8M281.4 689.2v0.8M282.6 689.2v0.8M283.5 689.2v0.8M284.4 689.2v0.8M285.1 689.2v1.5M290.2 689.2v0.8M293.1 689.2v0.8M295.2 689.2v0.8M296.9 689.2v0.8M298.2 689.2v0.8M299.3 689.2v0.8M300.3 689.2v0.8M301.1 689.2v0.8M301.9 689.2v1.5M306.9 689.2v0.8M309.9 689.2v0.8M312.0 689.2v0.8M313.6 689.2v0.8M314.9 689.2v0.8M316.1 689.2v0.8M317.0 689.2v0.8M317.9 689.2v0.8M318.6 689.2v1.5M323.7 689.2v0.8M326.6 689.2v0.8M328.7 689.2v0.8M330.4 689.2v0.8M331.7 689.2v0.8M332.8 689.2v0.8M333.8 689.2v0.8M334.6 689.2v0.8M335.4 689.2v1.5" stroke="#555" stroke-width="0.5"/>
<line x1="285.15" y1="639.8000000000001" x2="335.4" y2="639.8000000000001" stroke="#777" stroke-width="1.1"/>
<line x1="285.15" y1="636.3000000000001" x2="285.15" y2="643.3000000000001" stroke="#777" stroke-width="1.1"/>
<line x1="335.4" y1="635.8000000000001" x2="335.4" y2="643.8000000000001" stroke="#333" stroke-width="1.4"/>
<text x="332.09999999999997" y="651.7" font-size="9.6" font-weight="bold" text-anchor="end" fill="#000" stroke="#000" stroke-width="0.3">13.6%</text>
<text x="270.5" y="697.5" font-size="5.5" font-weight="bold" text-anchor="middle" stroke="#000" stroke-width="0.12">10<tspan font-size="3.9" dy="-2.4">0</tspan></text>
<text x="286.4" y="697.5" font-size="5.5" font-weight="bold" text-anchor="middle" stroke="#000" stroke-width="0.12">10<tspan font-size="3.9" dy="-2.4">1</tspan></text>
<text x="302.2" y="697.5" font-size="5.5" font-weight="bold" text-anchor="middle" stroke="#000" stroke-width="0.12">10<tspan font-size="3.9" dy="-2.4">2</tspan></text>
<text x="318.1" y="697.5" font-size="5.5" font-weight="bold" text-anchor="middle" stroke="#000" stroke-width="0.12">10<tspan font-size="3.9" dy="-2.4">3</tspan></text>
<text x="333.9" y="697.5" font-size="5.5" font-weight="bold" text-anchor="middle" stroke="#000" stroke-width="0.12">10<tspan font-size="3.9" dy="-2.4">4</tspan></text>
<polygon points="351.00,689.20 351.00,687.14 351.50,687.45 352.00,686.09 352.50,686.84 353.00,686.15 353.50,681.45 354.00,675.40 354.50,672.10 355.00,669.74 355.50,666.58 356.00,661.40 356.50,658.40 357.00,652.34 357.50,652.96 358.00,648.74 358.50,649.56 359.00,641.99 359.50,645.53 360.00,651.72 360.50,652.06 361.00,655.23 361.50,653.59 362.00,655.59 362.50,658.67 363.00,660.86 363.50,665.57 364.00,666.88 364.50,669.69 365.00,669.12 365.50,671.90 366.00,675.58 366.50,680.31 367.00,680.24 367.50,680.58 368.00,682.01 368.50,683.03 369.00,686.05 369.50,687.99 370.00,687.28 370.50,687.92 371.00,687.15 371.50,688.33 372.00,687.68 372.50,687.16 373.00,687.61 373.50,687.73 374.00,688.03 374.50,687.66 375.00,688.13 375.50,688.10 376.00,688.72 376.50,688.09 377.00,687.55 377.50,687.38 378.00,688.68 378.50,687.17 379.00,687.76 379.50,687.31 380.00,688.08 380.50,688.13 381.00,687.98 381.50,688.18 382.00,688.63 382.50,687.90 383.00,688.30 383.50,688.09 384.00,688.20 384.50,688.01 385.00,687.45 385.50,688.42 386.00,687.15 386.50,687.13 387.00,687.73 387.50,687.10 388.00,688.65 388.50,688.36 389.00,687.62 389.50,687.72 390.00,687.54 390.50,687.79 391.00,687.95 391.50,688.36 392.00,687.17 392.50,687.66 393.00,688.46 393.50,687.15 394.00,688.33 394.50,688.02 395.00,688.03 395.50,687.90 396.00,687.20 396.50,688.56 397.00,688.12 397.50,688.11 398.00,687.51 398.50,688.03 399.00,687.23 399.50,687.34 400.00,687.29 400.50,688.37 401.00,688.04 401.50,688.82 402.00,687.74 402.50,688.64 403.00,688.05 403.50,687.81 404.00,687.25 404.50,688.55 405.00,688.66 405.50,687.72 406.00,688.78 406.50,688.66 407.00,688.75 407.50,687.18 408.00,687.79 408.50,688.01 409.00,688.39 409.50,688.39 410.00,687.77 410.50,687.82 411.00,688.17 411.50,688.55 412.00,688.07 412.50,688.14 413.00,688.01 413.50,688.07 414.00,688.54 414.50,687.59 415.00,687.88 415.50,688.72 416.00,688.00 416.50,688.25 417.00,689.20 417.50,689.20 418.00,689.20 418.00,689.20" fill="#000" stroke="none" stroke-width="1"/>
<rect x="351.0" y="628.6" width="67.0" height="60.60000000000002" fill="none" stroke="#555" stroke-width="0.9"/>
<line x1="351.0" y1="628.6" x2="351.0" y2="689.2" stroke="#333" stroke-width="1.1"/>
<path d="M349.2 632.0h1.8M349.2 635.3h1.8M349.2 638.7h1.8M349.2 642.1h1.8M349.2 645.4h1.8M349.2 648.8h1.8M349.2 652.2h1.8M349.2 655.5h1.8M349.2 658.9h1.8M349.2 662.3h1.8M349.2 665.6h1.8M349.2 669.0h1.8M349.2 672.4h1.8M349.2 675.7h1.8M349.2 679.1h1.8M349.2 682.5h1.8M349.2 685.8h1.8" stroke="#222" stroke-width="0.8"/>
<path d="M351.0 689.2v1.5M356.0 689.2v0.8M359.0 689.2v0.8M361.1 689.2v0.8M362.7 689.2v0.8M364.0 689.2v0.8M365.2 689.2v0.8M366.1 689.2v0.8M367.0 689.2v0.8M367.8 689.2v1.5M372.8 689.2v0.8M375.7 689.2v0.8M377.8 689.2v0.8M379.5 689.2v0.8M380.8 689.2v0.8M381.9 689.2v0.8M382.9 689.2v0.8M383.7 689.2v0.8M384.5 689.2v1.5M389.5 689.2v0.8M392.5 689.2v0.8M394.6 689.2v0.8M396.2 689.2v0.8M397.5 689.2v0.8M398.7 689.2v0.8M399.6 689.2v0.8M400.5 689.2v0.8M401.2 689.2v1.5M406.3 689.2v0.8M409.2 689.2v0.8M411.3 689.2v0.8M413.0 689.2v0.8M414.3 689.2v0.8M415.4 689.2v0.8M416.4 689.2v0.8M417.2 689.2v0.8M418.0 689.2v1.5" stroke="#555" stroke-width="0.5"/>
<line x1="367.75" y1="639.8000000000001" x2="418.0" y2="639.8000000000001" stroke="#777" stroke-width="1.1"/>
<line x1="367.75" y1="636.3000000000001" x2="367.75" y2="643.3000000000001" stroke="#777" stroke-width="1.1"/>
<line x1="418.0" y1="635.8000000000001" x2="418.0" y2="643.8000000000001" stroke="#333" stroke-width="1.4"/>
<text x="414.7" y="651.7" font-size="9.6" font-weight="bold" text-anchor="end" fill="#000" stroke="#000" stroke-width="0.3">0.1%</text>
<text x="353.1" y="697.5" font-size="5.5" font-weight="bold" text-anchor="middle" stroke="#000" stroke-width="0.12">10<tspan font-size="3.9" dy="-2.4">0</tspan></text>
<text x="369.0" y="697.5" font-size="5.5" font-weight="bold" text-anchor="middle" stroke="#000" stroke-width="0.12">10<tspan font-size="3.9" dy="-2.4">1</tspan></text>
<text x="384.8" y="697.5" font-size="5.5" font-weight="bold" text-anchor="middle" stroke="#000" stroke-width="0.12">10<tspan font-size="3.9" dy="-2.4">2</tspan></text>
<text x="400.7" y="697.5" font-size="5.5" font-weight="bold" text-anchor="middle" stroke="#000" stroke-width="0.12">10<tspan font-size="3.9" dy="-2.4">3</tspan></text>
<text x="416.5" y="697.5" font-size="5.5" font-weight="bold" text-anchor="middle" stroke="#000" stroke-width="0.12">10<tspan font-size="3.9" dy="-2.4">4</tspan></text>
<polygon points="433.40,689.20 433.40,666.39 433.90,667.56 434.40,668.97 434.90,668.17 435.40,665.20 435.90,667.53 436.40,665.91 436.90,665.48 437.40,667.38 437.90,663.55 438.40,661.19 438.90,662.09 439.40,663.67 439.90,659.78 440.40,656.85 440.90,657.88 441.40,655.28 441.90,650.84 442.40,649.98 442.90,648.15 443.40,649.08 443.90,652.33 444.40,657.17 444.90,655.88 445.40,660.56 445.90,663.77 446.40,666.90 446.90,668.35 447.40,674.11 447.90,678.35 448.40,678.69 448.90,681.56 449.40,684.89 449.90,687.43 450.40,686.52 450.90,687.03 451.40,688.10 451.90,687.47 452.40,688.04 452.90,687.12 453.40,687.18 453.90,687.28 454.40,687.51 454.90,688.03 455.40,688.29 455.90,687.11 456.40,687.30 456.90,688.46 457.40,688.11 457.90,688.27 458.40,688.44 458.90,688.62 459.40,687.40 459.90,688.22 460.40,687.67 460.90,688.52 461.40,687.85 461.90,688.78 462.40,687.85 462.90,688.45 463.40,688.46 463.90,687.18 464.40,687.60 464.90,687.74 465.40,688.02 465.90,687.95 466.40,687.24 466.90,688.64 467.40,688.26 467.90,687.64 468.40,687.31 468.90,688.77 469.40,688.22 469.90,688.63 470.40,687.49 470.90,688.50 471.40,688.10 471.90,688.02 472.40,688.39 472.90,687.12 473.40,688.61 473.90,687.51 474.40,688.04 474.90,687.61 475.40,688.19 475.90,687.43 476.40,688.18 476.90,687.54 477.40,687.77 477.90,688.34 478.40,688.52 478.90,687.18 479.40,688.72 479.90,687.53 480.40,688.66 480.90,687.77 481.40,687.61 481.90,687.61 482.40,687.51 482.90,687.59 483.40,688.67 483.90,688.20 484.40,687.49 484.90,687.41 485.40,688.67 485.90,688.69 486.40,687.20 486.90,688.08 487.40,688.44 487.90,687.24 488.40,688.58 488.90,688.01 489.40,688.33 489.90,687.84 490.40,687.20 490.90,688.39 491.40,687.25 491.90,688.74 492.40,687.42 492.90,688.08 493.40,688.73 493.90,687.49 494.40,688.07 494.90,687.78 495.40,687.32 495.90,687.79 496.40,687.34 496.90,687.60 497.40,687.91 497.90,687.24 498.40,687.84 498.90,687.87 499.40,689.20 499.90,689.20 500.40,689.20 500.40,689.20" fill="#000" stroke="none" stroke-width="1"/>
<rect x="433.4" y="628.6" width="67.0" height="60.60000000000002" fill="none" stroke="#555" stroke-width="0.9"/>
<line x1="433.4" y1="628.6" x2="433.4" y2="689.2" stroke="#333" stroke-width="1.1"/>
<path d="M431.6 632.0h1.8M431.6 635.3h1.8M431.6 638.7h1.8M431.6 642.1h1.8M431.6 645.4h1.8M431.6 648.8h1.8M431.6 652.2h1.8M431.6 655.5h1.8M431.6 658.9h1.8M431.6 662.3h1.8M431.6 665.6h1.8M431.6 669.0h1.8M431.6 672.4h1.8M431.6 675.7h1.8M431.6 679.1h1.8M431.6 682.5h1.8M431.6 685.8h1.8" stroke="#222" stroke-width="0.8"/>
<path d="M433.4 689.2v1.5M438.4 689.2v0.8M441.4 689.2v0.8M443.5 689.2v0.8M445.1 689.2v0.8M446.4 689.2v0.8M447.6 689.2v0.8M448.5 689.2v0.8M449.4 689.2v0.8M450.1 689.2v1.5M455.2 689.2v0.8M458.1 689.2v0.8M460.2 689.2v0.8M461.9 689.2v0.8M463.2 689.2v0.8M464.3 689.2v0.8M465.3 689.2v0.8M466.1 689.2v0.8M466.9 689.2v1.5M471.9 689.2v0.8M474.9 689.2v0.8M477.0 689.2v0.8M478.6 689.2v0.8M479.9 689.2v0.8M481.1 689.2v0.8M482.0 689.2v0.8M482.9 689.2v0.8M483.6 689.2v1.5M488.7 689.2v0.8M491.6 689.2v0.8M493.7 689.2v0.8M495.4 689.2v0.8M496.7 689.2v0.8M497.8 689.2v0.8M498.8 689.2v0.8M499.6 689.2v0.8M500.4 689.2v1.5" stroke="#555" stroke-width="0.5"/>
<line x1="450.15" y1="639.8000000000001" x2="500.4" y2="639.8000000000001" stroke="#777" stroke-width="1.1"/>
<line x1="450.15" y1="636.3000000000001" x2="450.15" y2="643.3000000000001" stroke="#777" stroke-width="1.1"/>
<line x1="500.4" y1="635.8000000000001" x2="500.4" y2="643.8000000000001" stroke="#333" stroke-width="1.4"/>
<text x="497.09999999999997" y="651.7" font-size="9.6" font-weight="bold" text-anchor="end" fill="#000" stroke="#000" stroke-width="0.3">0.4%</text>
<text x="435.5" y="697.5" font-size="5.5" font-weight="bold" text-anchor="middle" stroke="#000" stroke-width="0.12">10<tspan font-size="3.9" dy="-2.4">0</tspan></text>
<text x="451.4" y="697.5" font-size="5.5" font-weight="bold" text-anchor="middle" stroke="#000" stroke-width="0.12">10<tspan font-size="3.9" dy="-2.4">1</tspan></text>
<text x="467.2" y="697.5" font-size="5.5" font-weight="bold" text-anchor="middle" stroke="#000" stroke-width="0.12">10<tspan font-size="3.9" dy="-2.4">2</tspan></text>
<text x="483.1" y="697.5" font-size="5.5" font-weight="bold" text-anchor="middle" stroke="#000" stroke-width="0.12">10<tspan font-size="3.9" dy="-2.4">3</tspan></text>
<text x="498.9" y="697.5" font-size="5.5" font-weight="bold" text-anchor="middle" stroke="#000" stroke-width="0.12">10<tspan font-size="3.9" dy="-2.4">4</tspan></text>
<polygon points="104.40,761.60 104.40,754.31 104.90,753.31 105.40,751.00 105.90,748.83 106.40,748.54 106.90,743.81 107.40,744.22 107.90,744.37 108.40,743.92 108.90,741.24 109.40,737.12 109.90,737.88 110.40,734.72 110.90,735.75 111.40,738.16 111.90,735.57 112.40,732.54 112.90,731.58 113.40,727.42 113.90,725.63 114.40,727.23 114.90,722.03 115.40,724.28 115.90,726.91 116.40,728.73 116.90,729.38 117.40,734.35 117.90,733.88 118.40,730.88 118.90,733.90 119.40,736.12 119.90,735.92 120.40,739.44 120.90,738.35 121.40,738.39 121.90,738.94 122.40,738.78 122.90,739.87 123.40,740.98 123.90,741.25 124.40,741.89 124.90,742.27 125.40,744.87 125.90,742.77 126.40,743.93 126.90,745.81 127.40,744.69 127.90,745.91 128.40,745.90 128.90,747.99 129.40,747.74 129.90,747.40 130.40,750.55 130.90,749.32 131.40,751.04 131.90,752.48 132.40,753.45 132.90,753.99 133.40,754.31 133.90,756.23 134.40,755.14 134.90,756.05 135.40,757.60 135.90,756.92 136.40,757.91 136.90,760.20 137.40,760.16 137.90,759.31 138.40,759.56 138.90,759.18 139.40,759.80 139.90,760.01 140.40,760.00 140.90,760.41 141.40,759.61 141.90,761.00 142.40,759.98 142.90,760.39 143.40,761.13 143.90,759.65 144.40,760.91 144.90,760.19 145.40,760.88 145.90,760.92 146.40,759.58 146.90,760.66 147.40,760.45 147.90,760.08 148.40,760.86 148.90,760.24 149.40,760.77 149.90,760.04 150.40,760.34 150.90,759.50 151.40,760.27 151.90,760.16 152.40,760.38 152.90,760.58 153.40,760.01 153.90,759.71 154.40,760.78 154.90,761.06 155.40,760.72 155.90,760.91 156.40,759.50 156.90,759.70 157.40,760.65 157.90,760.26 158.40,760.57 158.90,759.95 159.40,760.55 159.90,760.84 160.40,759.56 160.90,760.86 161.40,761.05 161.90,759.96 162.40,760.30 162.90,760.08 163.40,760.05 163.90,761.22 164.40,759.53 164.90,760.15 165.40,760.48 165.90,760.61 166.40,759.56 166.90,759.94 167.40,759.59 167.90,761.03 168.40,760.99 168.90,760.17 169.40,759.52 169.90,759.53 170.40,761.60 170.90,761.60 171.40,761.60 171.40,761.60" fill="#000" stroke="none" stroke-width="1"/>
<rect x="104.4" y="701.2" width="67.0" height="60.39999999999998" fill="none" stroke="#555" stroke-width="0.9"/>
<line x1="104.4" y1="701.2" x2="104.4" y2="761.6" stroke="#333" stroke-width="1.1"/>
<path d="M102.6 704.6h1.8M102.6 707.9h1.8M102.6 711.3h1.8M102.6 714.6h1.8M102.6 718.0h1.8M102.6 721.3h1.8M102.6 724.7h1.8M102.6 728.0h1.8M102.6 731.4h1.8M102.6 734.8h1.8M102.6 738.1h1.8M102.6 741.5h1.8M102.6 744.8h1.8M102.6 748.2h1.8M102.6 751.5h1.8M102.6 754.9h1.8M102.6 758.2h1.8" stroke="#222" stroke-width="0.8"/>
<path d="M104.4 761.6v1.5M109.4 761.6v0.8M112.4 761.6v0.8M114.5 761.6v0.8M116.1 761.6v0.8M117.4 761.6v0.8M118.6 761.6v0.8M119.5 761.6v0.8M120.4 761.6v0.8M121.2 761.6v1.5M126.2 761.6v0.8M129.1 761.6v0.8M131.2 761.6v0.8M132.9 761.6v0.8M134.2 761.6v0.8M135.3 761.6v0.8M136.3 761.6v0.8M137.1 761.6v0.8M137.9 761.6v1.5M142.9 761.6v0.8M145.9 761.6v0.8M148.0 761.6v0.8M149.6 761.6v0.8M150.9 761.6v0.8M152.1 761.6v0.8M153.0 761.6v0.8M153.9 761.6v0.8M154.7 761.6v1.5M159.7 761.6v0.8M162.6 761.6v0.8M164.7 761.6v0.8M166.4 761.6v0.8M167.7 761.6v0.8M168.8 761.6v0.8M169.8 761.6v0.8M170.6 761.6v0.8M171.4 761.6v1.5" stroke="#555" stroke-width="0.5"/>
<line x1="121.15" y1="712.8000000000001" x2="171.4" y2="712.8000000000001" stroke="#777" stroke-width="1.1"/>
<line x1="121.15" y1="709.3000000000001" x2="121.15" y2="716.3000000000001" stroke="#777" stroke-width="1.1"/>
<line x1="171.4" y1="708.8000000000001" x2="171.4" y2="716.8000000000001" stroke="#333" stroke-width="1.4"/>
<text x="168.1" y="724.4000000000001" font-size="9.6" font-weight="bold" text-anchor="end" fill="#000" stroke="#000" stroke-width="0.3">30%</text>
<text x="106.5" y="769.9" font-size="5.5" font-weight="bold" text-anchor="middle" stroke="#000" stroke-width="0.12">10<tspan font-size="3.9" dy="-2.4">0</tspan></text>
<text x="122.3" y="769.9" font-size="5.5" font-weight="bold" text-anchor="middle" stroke="#000" stroke-width="0.12">10<tspan font-size="3.9" dy="-2.4">1</tspan></text>
<text x="138.2" y="769.9" font-size="5.5" font-weight="bold" text-anchor="middle" stroke="#000" stroke-width="0.12">10<tspan font-size="3.9" dy="-2.4">2</tspan></text>
<text x="154.1" y="769.9" font-size="5.5" font-weight="bold" text-anchor="middle" stroke="#000" stroke-width="0.12">10<tspan font-size="3.9" dy="-2.4">3</tspan></text>
<text x="169.9" y="769.9" font-size="5.5" font-weight="bold" text-anchor="middle" stroke="#000" stroke-width="0.12">10<tspan font-size="3.9" dy="-2.4">4</tspan></text>
<polygon points="186.00,761.60 186.00,759.98 186.50,759.59 187.00,759.60 187.50,758.99 188.00,758.85 188.50,755.34 189.00,751.84 189.50,747.20 190.00,744.39 190.50,742.42 191.00,740.05 191.50,736.91 192.00,734.18 192.50,727.16 193.00,722.09 193.50,724.65 194.00,720.60 194.50,719.07 195.00,712.94 195.50,713.06 196.00,717.84 196.50,718.19 197.00,721.95 197.50,725.36 198.00,725.40 198.50,728.00 199.00,728.84 199.50,733.15 200.00,738.54 200.50,740.10 201.00,741.98 201.50,743.36 202.00,749.36 202.50,751.72 203.00,755.72 203.50,755.42 204.00,755.69 204.50,757.60 205.00,759.17 205.50,759.42 206.00,759.34 206.50,760.40 207.00,760.46 207.50,760.44 208.00,760.25 208.50,760.48 209.00,761.15 209.50,760.71 210.00,760.59 210.50,760.92 211.00,759.87 211.50,759.60 212.00,760.37 212.50,760.03 213.00,760.59 213.50,760.87 214.00,760.03 214.50,761.13 215.00,760.36 215.50,760.00 216.00,760.79 216.50,760.46 217.00,760.55 217.50,760.91 218.00,760.52 218.50,759.58 219.00,759.54 219.50,761.22 220.00,759.72 220.50,760.15 221.00,759.72 221.50,760.93 222.00,760.73 222.50,760.03 223.00,760.89 223.50,760.63 224.00,760.70 224.50,760.82 225.00,759.94 225.50,761.00 226.00,759.74 226.50,759.92 227.00,759.68 227.50,760.53 228.00,760.28 228.50,760.65 229.00,760.56 229.50,760.71 230.00,760.29 230.50,761.13 231.00,759.55 231.50,759.58 232.00,759.52 232.50,760.97 233.00,760.32 233.50,760.81 234.00,761.17 234.50,761.05 235.00,759.93 235.50,760.87 236.00,761.00 236.50,759.89 237.00,760.99 237.50,760.79 238.00,760.24 238.50,760.24 239.00,760.71 239.50,760.40 240.00,759.72 240.50,760.59 241.00,760.28 241.50,761.08 242.00,760.06 242.50,760.54 243.00,760.52 243.50,761.14 244.00,759.70 244.50,759.79 245.00,761.11 245.50,759.57 246.00,759.84 246.50,759.56 247.00,759.99 247.50,761.20 248.00,761.12 248.50,761.19 249.00,760.38 249.50,761.11 250.00,760.73 250.50,761.21 251.00,760.97 251.50,759.57 252.00,761.60 252.50,761.60 253.00,761.60 253.00,761.60" fill="#000" stroke="none" stroke-width="1"/>
<rect x="186.0" y="701.2" width="67.0" height="60.39999999999998" fill="none" stroke="#555" stroke-width="0.9"/>
<line x1="186.0" y1="701.2" x2="186.0" y2="761.6" stroke="#333" stroke-width="1.1"/>
<path d="M184.2 704.6h1.8M184.2 707.9h1.8M184.2 711.3h1.8M184.2 714.6h1.8M184.2 718.0h1.8M184.2 721.3h1.8M184.2 724.7h1.8M184.2 728.0h1.8M184.2 731.4h1.8M184.2 734.8h1.8M184.2 738.1h1.8M184.2 741.5h1.8M184.2 744.8h1.8M184.2 748.2h1.8M184.2 751.5h1.8M184.2 754.9h1.8M184.2 758.2h1.8" stroke="#222" stroke-width="0.8"/>
<path d="M186.0 761.6v1.5M191.0 761.6v0.8M194.0 761.6v0.8M196.1 761.6v0.8M197.7 761.6v0.8M199.0 761.6v0.8M200.2 761.6v0.8M201.1 761.6v0.8M202.0 761.6v0.8M202.8 761.6v1.5M207.8 761.6v0.8M210.7 761.6v0.8M212.8 761.6v0.8M214.5 761.6v0.8M215.8 761.6v0.8M216.9 761.6v0.8M217.9 761.6v0.8M218.7 761.6v0.8M219.5 761.6v1.5M224.5 761.6v0.8M227.5 761.6v0.8M229.6 761.6v0.8M231.2 761.6v0.8M232.5 761.6v0.8M233.7 761.6v0.8M234.6 761.6v0.8M235.5 761.6v0.8M236.2 761.6v1.5M241.3 761.6v0.8M244.2 761.6v0.8M246.3 761.6v0.8M248.0 761.6v0.8M249.3 761.6v0.8M250.4 761.6v0.8M251.4 761.6v0.8M252.2 761.6v0.8M253.0 761.6v1.5" stroke="#555" stroke-width="0.5"/>
<line x1="202.75" y1="712.8000000000001" x2="253.0" y2="712.8000000000001" stroke="#777" stroke-width="1.1"/>
<line x1="202.75" y1="709.3000000000001" x2="202.75" y2="716.3000000000001" stroke="#777" stroke-width="1.1"/>
<line x1="253.0" y1="708.8000000000001" x2="253.0" y2="716.8000000000001" stroke="#333" stroke-width="1.4"/>
<text x="249.7" y="724.4000000000001" font-size="9.6" font-weight="bold" text-anchor="end" fill="#000" stroke="#000" stroke-width="0.3">1.1%</text>
<text x="188.1" y="769.9" font-size="5.5" font-weight="bold" text-anchor="middle" stroke="#000" stroke-width="0.12">10<tspan font-size="3.9" dy="-2.4">0</tspan></text>
<text x="204.0" y="769.9" font-size="5.5" font-weight="bold" text-anchor="middle" stroke="#000" stroke-width="0.12">10<tspan font-size="3.9" dy="-2.4">1</tspan></text>
<text x="219.8" y="769.9" font-size="5.5" font-weight="bold" text-anchor="middle" stroke="#000" stroke-width="0.12">10<tspan font-size="3.9" dy="-2.4">2</tspan></text>
<text x="235.7" y="769.9" font-size="5.5" font-weight="bold" text-anchor="middle" stroke="#000" stroke-width="0.12">10<tspan font-size="3.9" dy="-2.4">3</tspan></text>
<text x="251.5" y="769.9" font-size="5.5" font-weight="bold" text-anchor="middle" stroke="#000" stroke-width="0.12">10<tspan font-size="3.9" dy="-2.4">4</tspan></text>
<polygon points="268.40,761.60 268.40,760.87 268.90,760.97 269.40,759.99 269.90,760.99 270.40,759.64 270.90,760.45 271.40,759.77 271.90,760.68 272.40,760.44 272.90,760.18 273.40,760.52 273.90,760.20 274.40,759.83 274.90,760.90 275.40,760.08 275.90,758.40 276.40,756.18 276.90,755.92 277.40,754.99 277.90,752.07 278.40,744.56 278.90,740.13 279.40,738.50 279.90,735.75 280.40,730.05 280.90,727.17 281.40,727.60 281.90,725.40 282.40,719.56 282.90,717.55 283.40,718.32 283.90,720.45 284.40,723.99 284.90,730.89 285.40,727.26 285.90,732.66 286.40,734.21 286.90,739.06 287.40,743.37 287.90,744.83 288.40,744.02 288.90,747.64 289.40,752.43 289.90,755.20 290.40,758.30 290.90,757.80 291.40,759.26 291.90,760.32 292.40,760.71 292.90,759.95 293.40,760.34 293.90,760.76 294.40,760.77 294.90,760.66 295.40,760.81 295.90,759.97 296.40,760.95 296.90,760.39 297.40,759.99 297.90,759.80 298.40,760.10 298.90,760.66 299.40,760.70 299.90,760.43 300.40,760.47 300.90,760.42 301.40,760.73 301.90,759.53 302.40,760.04 302.90,759.62 303.40,760.85 303.90,760.47 304.40,760.22 304.90,759.64 305.40,759.83 305.90,760.84 306.40,759.78 306.90,760.27 307.40,759.78 307.90,760.76 308.40,760.50 308.90,759.83 309.40,761.18 309.90,759.85 310.40,759.96 310.90,760.93 311.40,759.71 311.90,760.66 312.40,759.83 312.90,759.87 313.40,761.01 313.90,760.16 314.40,759.56 314.90,761.21 315.40,759.57 315.90,759.86 316.40,759.77 316.90,760.08 317.40,761.15 317.90,761.22 318.40,760.58 318.90,760.29 319.40,760.31 319.90,759.53 320.40,760.01 320.90,760.60 321.40,760.63 321.90,760.45 322.40,761.22 322.90,760.15 323.40,760.71 323.90,760.51 324.40,759.89 324.90,760.80 325.40,760.93 325.90,760.26 326.40,760.12 326.90,761.15 327.40,759.62 327.90,761.18 328.40,761.14 328.90,760.61 329.40,760.01 329.90,760.42 330.40,759.75 330.90,760.51 331.40,759.69 331.90,760.60 332.40,761.01 332.90,759.67 333.40,760.27 333.90,760.55 334.40,761.60 334.90,761.60 335.40,761.60 335.40,761.60" fill="#000" stroke="none" stroke-width="1"/>
<rect x="268.4" y="701.2" width="67.0" height="60.39999999999998" fill="none" stroke="#555" stroke-width="0.9"/>
<line x1="268.4" y1="701.2" x2="268.4" y2="761.6" stroke="#333" stroke-width="1.1"/>
<path d="M266.6 704.6h1.8M266.6 707.9h1.8M266.6 711.3h1.8M266.6 714.6h1.8M266.6 718.0h1.8M266.6 721.3h1.8M266.6 724.7h1.8M266.6 728.0h1.8M266.6 731.4h1.8M266.6 734.8h1.8M266.6 738.1h1.8M266.6 741.5h1.8M266.6 744.8h1.8M266.6 748.2h1.8M266.6 751.5h1.8M266.6 754.9h1.8M266.6 758.2h1.8" stroke="#222" stroke-width="0.8"/>
<path d="M268.4 761.6v1.5M273.4 761.6v0.8M276.4 761.6v0.8M278.5 761.6v0.8M280.1 761.6v0.8M281.4 761.6v0.8M282.6 761.6v0.8M283.5 761.6v0.8M284.4 761.6v0.8M285.1 761.6v1.5M290.2 761.6v0.8M293.1 761.6v0.8M295.2 761.6v0.8M296.9 761.6v0.8M298.2 761.6v0.8M299.3 761.6v0.8M300.3 761.6v0.8M301.1 761.6v0.8M301.9 761.6v1.5M306.9 761.6v0.8M309.9 761.6v0.8M312.0 761.6v0.8M313.6 761.6v0.8M314.9 761.6v0.8M316.1 761.6v0.8M317.0 761.6v0.8M317.9 761.6v0.8M318.6 761.6v1.5M323.7 761.6v0.8M326.6 761.6v0.8M328.7 761.6v0.8M330.4 761.6v0.8M331.7 761.6v0.8M332.8 761.6v0.8M333.8 761.6v0.8M334.6 761.6v0.8M335.4 761.6v1.5" stroke="#555" stroke-width="0.5"/>
<line x1="285.15" y1="704.6" x2="335.4" y2="704.6" stroke="#777" stroke-width="1.1"/>
<line x1="285.15" y1="701.1" x2="285.15" y2="708.1" stroke="#777" stroke-width="1.1"/>
<line x1="335.4" y1="700.6" x2="335.4" y2="708.6" stroke="#333" stroke-width="1.4"/>
<text x="332.09999999999997" y="724.4000000000001" font-size="9.6" font-weight="bold" text-anchor="end" fill="#000" stroke="#000" stroke-width="0.3">23.6%</text>
<text x="270.5" y="769.9" font-size="5.5" font-weight="bold" text-anchor="middle" stroke="#000" stroke-width="0.12">10<tspan font-size="3.9" dy="-2.4">0</tspan></text>
<text x="286.4" y="769.9" font-size="5.5" font-weight="bold" text-anchor="middle" stroke="#000" stroke-width="0.12">10<tspan font-size="3.9" dy="-2.4">1</tspan></text>
<text x="302.2" y="769.9" font-size="5.5" font-weight="bold" text-anchor="middle" stroke="#000" stroke-width="0.12">10<tspan font-size="3.9" dy="-2.4">2</tspan></text>
<text x="318.1" y="769.9" font-size="5.5" font-weight="bold" text-anchor="middle" stroke="#000" stroke-width="0.12">10<tspan font-size="3.9" dy="-2.4">3</tspan></text>
<text x="333.9" y="769.9" font-size="5.5" font-weight="bold" text-anchor="middle" stroke="#000" stroke-width="0.12">10<tspan font-size="3.9" dy="-2.4">4</tspan></text>
<polygon points="351.00,761.60 351.00,759.69 351.50,758.49 352.00,756.37 352.50,755.78 353.00,750.71 353.50,745.97 354.00,739.71 354.50,737.12 355.00,732.27 355.50,728.05 356.00,721.67 356.50,720.60 357.00,717.01 357.50,716.84 358.00,720.47 358.50,720.20 359.00,723.36 359.50,726.91 360.00,728.57 360.50,731.35 361.00,732.40 361.50,735.66 362.00,738.43 362.50,737.57 363.00,739.74 363.50,742.88 364.00,746.66 364.50,751.37 365.00,752.37 365.50,753.30 366.00,754.50 366.50,756.05 367.00,759.12 367.50,759.48 368.00,759.65 368.50,760.36 369.00,759.58 369.50,759.55 370.00,759.84 370.50,760.68 371.00,760.63 371.50,760.30 372.00,760.40 372.50,760.21 373.00,759.99 373.50,759.73 374.00,760.66 374.50,760.27 375.00,760.55 375.50,760.53 376.00,759.86 376.50,760.59 377.00,761.20 377.50,760.18 378.00,760.50 378.50,761.02 379.00,760.32 379.50,760.54 380.00,760.72 380.50,759.93 381.00,760.10 381.50,761.06 382.00,760.46 382.50,760.45 383.00,760.55 383.50,760.23 384.00,760.75 384.50,760.32 385.00,761.04 385.50,760.20 386.00,760.44 386.50,760.72 387.00,759.77 387.50,761.04 388.00,761.13 388.50,759.73 389.00,760.52 389.50,760.19 390.00,759.96 390.50,760.96 391.00,760.84 391.50,759.93 392.00,760.90 392.50,760.14 393.00,760.28 393.50,760.82 394.00,760.69 394.50,760.08 395.00,759.51 395.50,760.37 396.00,760.74 396.50,760.73 397.00,760.06 397.50,760.86 398.00,760.39 398.50,759.62 399.00,761.01 399.50,760.58 400.00,761.09 400.50,760.60 401.00,760.91 401.50,760.12 402.00,760.53 402.50,760.53 403.00,760.59 403.50,759.57 404.00,760.46 404.50,759.99 405.00,760.25 405.50,761.21 406.00,760.48 406.50,760.72 407.00,760.15 407.50,760.33 408.00,761.19 408.50,760.94 409.00,760.85 409.50,760.92 410.00,759.79 410.50,760.63 411.00,760.36 411.50,759.89 412.00,761.15 412.50,760.39 413.00,759.96 413.50,761.22 414.00,760.23 414.50,760.16 415.00,759.63 415.50,760.90 416.00,760.15 416.50,761.10 417.00,761.60 417.50,761.60 418.00,761.60 418.00,761.60" fill="#000" stroke="none" stroke-width="1"/>
<rect x="351.0" y="701.2" width="67.0" height="60.39999999999998" fill="none" stroke="#555" stroke-width="0.9"/>
<line x1="351.0" y1="701.2" x2="351.0" y2="761.6" stroke="#333" stroke-width="1.1"/>
<path d="M349.2 704.6h1.8M349.2 707.9h1.8M349.2 711.3h1.8M349.2 714.6h1.8M349.2 718.0h1.8M349.2 721.3h1.8M349.2 724.7h1.8M349.2 728.0h1.8M349.2 731.4h1.8M349.2 734.8h1.8M349.2 738.1h1.8M349.2 741.5h1.8M349.2 744.8h1.8M349.2 748.2h1.8M349.2 751.5h1.8M349.2 754.9h1.8M349.2 758.2h1.8" stroke="#222" stroke-width="0.8"/>
<path d="M351.0 761.6v1.5M356.0 761.6v0.8M359.0 761.6v0.8M361.1 761.6v0.8M362.7 761.6v0.8M364.0 761.6v0.8M365.2 761.6v0.8M366.1 761.6v0.8M367.0 761.6v0.8M367.8 761.6v1.5M372.8 761.6v0.8M375.7 761.6v0.8M377.8 761.6v0.8M379.5 761.6v0.8M380.8 761.6v0.8M381.9 761.6v0.8M382.9 761.6v0.8M383.7 761.6v0.8M384.5 761.6v1.5M389.5 761.6v0.8M392.5 761.6v0.8M394.6 761.6v0.8M396.2 761.6v0.8M397.5 761.6v0.8M398.7 761.6v0.8M399.6 761.6v0.8M400.5 761.6v0.8M401.2 761.6v1.5M406.3 761.6v0.8M409.2 761.6v0.8M411.3 761.6v0.8M413.0 761.6v0.8M414.3 761.6v0.8M415.4 761.6v0.8M416.4 761.6v0.8M417.2 761.6v0.8M418.0 761.6v1.5" stroke="#555" stroke-width="0.5"/>
<line x1="367.75" y1="712.8000000000001" x2="418.0" y2="712.8000000000001" stroke="#777" stroke-width="1.1"/>
<line x1="367.75" y1="709.3000000000001" x2="367.75" y2="716.3000000000001" stroke="#777" stroke-width="1.1"/>
<line x1="418.0" y1="708.8000000000001" x2="418.0" y2="716.8000000000001" stroke="#333" stroke-width="1.4"/>
<text x="414.7" y="724.4000000000001" font-size="9.6" font-weight="bold" text-anchor="end" fill="#000" stroke="#000" stroke-width="0.3">0.2%</text>
<text x="353.1" y="769.9" font-size="5.5" font-weight="bold" text-anchor="middle" stroke="#000" stroke-width="0.12">10<tspan font-size="3.9" dy="-2.4">0</tspan></text>
<text x="369.0" y="769.9" font-size="5.5" font-weight="bold" text-anchor="middle" stroke="#000" stroke-width="0.12">10<tspan font-size="3.9" dy="-2.4">1</tspan></text>
<text x="384.8" y="769.9" font-size="5.5" font-weight="bold" text-anchor="middle" stroke="#000" stroke-width="0.12">10<tspan font-size="3.9" dy="-2.4">2</tspan></text>
<text x="400.7" y="769.9" font-size="5.5" font-weight="bold" text-anchor="middle" stroke="#000" stroke-width="0.12">10<tspan font-size="3.9" dy="-2.4">3</tspan></text>
<text x="416.5" y="769.9" font-size="5.5" font-weight="bold" text-anchor="middle" stroke="#000" stroke-width="0.12">10<tspan font-size="3.9" dy="-2.4">4</tspan></text>
<polygon points="433.40,761.60 433.40,723.32 433.90,725.11 434.40,727.54 434.90,736.42 435.40,735.41 435.90,732.83 436.40,730.08 436.90,730.06 437.40,732.99 437.90,738.71 438.40,738.29 438.90,735.17 439.40,729.78 439.90,726.30 440.40,729.49 440.90,724.91 441.40,726.19 441.90,724.67 442.40,727.40 442.90,726.33 443.40,727.85 443.90,728.00 444.40,732.03 444.90,735.05 445.40,738.98 445.90,739.61 446.40,741.09 446.90,745.85 447.40,749.31 447.90,753.83 448.40,756.81 448.90,756.78 449.40,757.54 449.90,759.50 450.40,759.54 450.90,759.91 451.40,759.62 451.90,760.49 452.40,760.77 452.90,760.06 453.40,760.78 453.90,760.90 454.40,760.76 454.90,761.01 455.40,759.76 455.90,760.99 456.40,759.98 456.90,759.60 457.40,760.62 457.90,761.11 458.40,760.73 458.90,760.51 459.40,760.70 459.90,759.73 460.40,760.38 460.90,759.52 461.40,760.96 461.90,760.43 462.40,760.91 462.90,759.51 463.40,760.13 463.90,759.60 464.40,760.26 464.90,760.26 465.40,760.47 465.90,760.59 466.40,760.35 466.90,760.20 467.40,760.28 467.90,760.38 468.40,759.62 468.90,759.94 469.40,759.76 469.90,760.89 470.40,760.12 470.90,760.20 471.40,760.27 471.90,760.91 472.40,760.46 472.90,760.29 473.40,759.97 473.90,759.51 474.40,760.28 474.90,759.96 475.40,760.99 475.90,759.81 476.40,760.58 476.90,761.22 477.40,760.63 477.90,759.86 478.40,760.94 478.90,760.25 479.40,760.46 479.90,760.78 480.40,760.48 480.90,760.40 481.40,761.23 481.90,759.92 482.40,760.90 482.90,760.81 483.40,760.23 483.90,760.58 484.40,759.52 484.90,760.26 485.40,759.69 485.90,759.80 486.40,759.76 486.90,761.04 487.40,759.98 487.90,760.73 488.40,760.01 488.90,760.15 489.40,760.87 489.90,760.41 490.40,760.79 490.90,759.68 491.40,760.26 491.90,761.07 492.40,759.85 492.90,760.35 493.40,760.18 493.90,760.58 494.40,760.49 494.90,760.90 495.40,760.19 495.90,760.65 496.40,761.07 496.90,760.91 497.40,761.02 497.90,760.11 498.40,760.53 498.90,761.05 499.40,761.60 499.90,761.60 500.40,761.60 500.40,761.60" fill="#000" stroke="none" stroke-width="1"/>
<rect x="433.4" y="701.2" width="67.0" height="60.39999999999998" fill="none" stroke="#555" stroke-width="0.9"/>
<line x1="433.4" y1="701.2" x2="433.4" y2="761.6" stroke="#333" stroke-width="1.1"/>
<path d="M431.6 704.6h1.8M431.6 707.9h1.8M431.6 711.3h1.8M431.6 714.6h1.8M431.6 718.0h1.8M431.6 721.3h1.8M431.6 724.7h1.8M431.6 728.0h1.8M431.6 731.4h1.8M431.6 734.8h1.8M431.6 738.1h1.8M431.6 741.5h1.8M431.6 744.8h1.8M431.6 748.2h1.8M431.6 751.5h1.8M431.6 754.9h1.8M431.6 758.2h1.8" stroke="#222" stroke-width="0.8"/>
<path d="M433.4 761.6v1.5M438.4 761.6v0.8M441.4 761.6v0.8M443.5 761.6v0.8M445.1 761.6v0.8M446.4 761.6v0.8M447.6 761.6v0.8M448.5 761.6v0.8M449.4 761.6v0.8M450.1 761.6v1.5M455.2 761.6v0.8M458.1 761.6v0.8M460.2 761.6v0.8M461.9 761.6v0.8M463.2 761.6v0.8M464.3 761.6v0.8M465.3 761.6v0.8M466.1 761.6v0.8M466.9 761.6v1.5M471.9 761.6v0.8M474.9 761.6v0.8M477.0 761.6v0.8M478.6 761.6v0.8M479.9 761.6v0.8M481.1 761.6v0.8M482.0 761.6v0.8M482.9 761.6v0.8M483.6 761.6v1.5M488.7 761.6v0.8M491.6 761.6v0.8M493.7 761.6v0.8M495.4 761.6v0.8M496.7 761.6v0.8M497.8 761.6v0.8M498.8 761.6v0.8M499.6 761.6v0.8M500.4 761.6v1.5" stroke="#555" stroke-width="0.5"/>
<line x1="450.15" y1="712.8000000000001" x2="500.4" y2="712.8000000000001" stroke="#777" stroke-width="1.1"/>
<line x1="450.15" y1="709.3000000000001" x2="450.15" y2="716.3000000000001" stroke="#777" stroke-width="1.1"/>
<line x1="500.4" y1="708.8000000000001" x2="500.4" y2="716.8000000000001" stroke="#333" stroke-width="1.4"/>
<text x="497.09999999999997" y="724.4000000000001" font-size="9.6" font-weight="bold" text-anchor="end" fill="#000" stroke="#000" stroke-width="0.3">0.3%</text>
<text x="435.5" y="769.9" font-size="5.5" font-weight="bold" text-anchor="middle" stroke="#000" stroke-width="0.12">10<tspan font-size="3.9" dy="-2.4">0</tspan></text>
<text x="451.4" y="769.9" font-size="5.5" font-weight="bold" text-anchor="middle" stroke="#000" stroke-width="0.12">10<tspan font-size="3.9" dy="-2.4">1</tspan></text>
<text x="467.2" y="769.9" font-size="5.5" font-weight="bold" text-anchor="middle" stroke="#000" stroke-width="0.12">10<tspan font-size="3.9" dy="-2.4">2</tspan></text>
<text x="483.1" y="769.9" font-size="5.5" font-weight="bold" text-anchor="middle" stroke="#000" stroke-width="0.12">10<tspan font-size="3.9" dy="-2.4">3</tspan></text>
<text x="498.9" y="769.9" font-size="5.5" font-weight="bold" text-anchor="middle" stroke="#000" stroke-width="0.12">10<tspan font-size="3.9" dy="-2.4">4</tspan></text>
<text x="32.4" y="336.6" font-size="11.5" font-weight="bold" text-anchor="start" fill="#000" stroke="#000" stroke-width="0.3">HUVEC</text>
<text x="24.7" y="409.5" font-size="11.5" font-weight="bold" text-anchor="start" fill="#000" stroke="#000" stroke-width="0.3">Alde-High</text>
<text x="24.7" y="482.7" font-size="11.5" font-weight="bold" text-anchor="start" fill="#000" stroke="#000" stroke-width="0.3">Alde-Low</text>
<text x="28.8" y="586.6" font-size="11.5" font-weight="bold" text-anchor="start" fill="#000" stroke="#000" stroke-width="0.3">HUVEC</text>
<text x="25.9" y="659.5" font-size="11.5" font-weight="bold" text-anchor="start" fill="#000" stroke="#000" stroke-width="0.3">Alde-High</text>
<text x="25.9" y="733.4" font-size="11.5" font-weight="bold" text-anchor="start" fill="#000" stroke="#000" stroke-width="0.3">Alde-Low</text>
<line x1="93.7" y1="523.3" x2="93.7" y2="310.8" stroke="#000" stroke-width="1.3"/>
<polygon points="93.70,300.80 90.10,311.80 97.30,311.80" fill="#000" stroke="none" stroke-width="1"/>
<line x1="93.0" y1="523.0" x2="508.5" y2="523.0" stroke="#000" stroke-width="1.3"/>
<polygon points="519.00,523.00 507.50,519.20 507.50,526.80" fill="#000" stroke="none" stroke-width="1"/>
<line x1="93.7" y1="775.6" x2="93.7" y2="550.3" stroke="#000" stroke-width="1.3"/>
<polygon points="93.70,540.30 90.10,551.30 97.30,551.30" fill="#000" stroke="none" stroke-width="1"/>
<line x1="93.0" y1="775.2" x2="508.5" y2="775.2" stroke="#000" stroke-width="1.3"/>
<polygon points="519.00,775.20 507.50,771.40 507.50,779.00" fill="#000" stroke="none" stroke-width="1"/>
<text x="302.9" y="532.5" font-size="10.4" font-weight="bold" text-anchor="middle" fill="#000" stroke="#000" stroke-width="0.3" textLength="67.3" lengthAdjust="spacingAndGlyphs">Fluorescence</text>
<text x="302.9" y="784.2" font-size="10.4" font-weight="bold" text-anchor="middle" fill="#000" stroke="#000" stroke-width="0.3" textLength="67.3" lengthAdjust="spacingAndGlyphs">Fluorescence</text>
<text x="91.0" y="405.4" font-size="10.5" font-weight="bold" text-anchor="middle" fill="#000" stroke="#000" stroke-width="0.3" transform="rotate(-90 91.0 405.4)" textLength="102" lengthAdjust="spacingAndGlyphs">Relative cell number</text>
<text x="91.0" y="645.1" font-size="10.5" font-weight="bold" text-anchor="middle" fill="#000" stroke="#000" stroke-width="0.3" transform="rotate(-90 91.0 645.1)" textLength="102.6" lengthAdjust="spacingAndGlyphs">Relative cell number</text>
</svg>
</body></html>
